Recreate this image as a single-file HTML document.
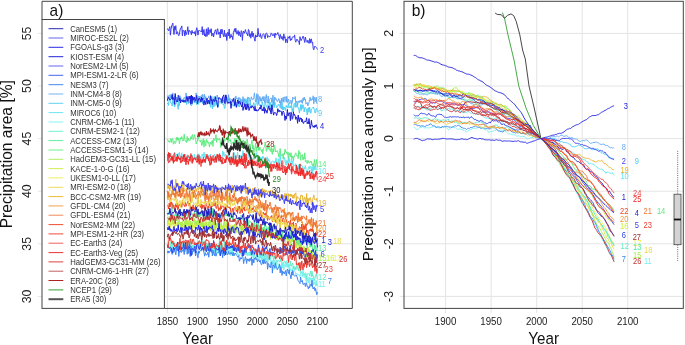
<!DOCTYPE html>
<html><head><meta charset="utf-8"><style>
html,body{margin:0;padding:0;background:#fff;width:685px;height:345px;overflow:hidden}
svg text{font-family:"Liberation Sans", sans-serif}
svg{will-change:transform}
</style></head><body>
<svg width="685" height="345" viewBox="0 0 685 345" style="display:block">
<rect width="685" height="345" fill="#fff"/>
<path d="M37.8 33.4H352.3 M399.6 33.4H683.3 M37.8 86.0H352.3 M399.6 86.0H683.3 M37.8 138.6H352.3 M399.6 138.6H683.3 M37.8 191.2H352.3 M399.6 191.2H683.3 M37.8 243.8H352.3 M399.6 243.8H683.3 M37.8 296.4H352.3 M399.6 296.4H683.3 M167.4 1.3V313 M197.4 1.3V313 M227.4 1.3V313 M257.4 1.3V313 M287.4 1.3V313 M317.4 1.3V313 M445.6 1.3V313 M491.1 1.3V313 M536.7 1.3V313 M582.2 1.3V313 M627.7 1.3V313" stroke="#e4e4e4" stroke-width="1" fill="none"/>
<polyline points="167.4,188.3 168.0,184.9 168.6,188.6 169.2,185.8 169.8,190.8 170.4,184.8 171.0,187.8 171.6,188.2 172.2,184.5 172.8,192.2 173.4,191.6 174.0,185.8 174.6,188.5 175.2,186.9 175.8,179.4 176.4,186.4 177.0,185.5 177.6,186.4 178.2,183.5 178.8,185.4 179.4,185.9 180.0,190.0 180.6,187.9 181.2,187.0 181.8,190.7 182.4,185.0 183.0,185.2 183.6,182.7 184.2,191.4 184.8,189.8 185.4,190.0 186.0,189.6 186.6,188.3 187.2,189.0 187.8,188.0 188.4,187.5 189.0,188.4 189.6,192.7 190.2,189.4 190.8,188.3 191.4,187.0 192.0,186.7 192.6,193.1 193.2,190.9 193.8,189.4 194.4,187.9 195.0,186.6 195.6,189.0 196.2,191.6 196.8,188.6 197.4,188.6 198.0,188.8 198.6,189.9 199.2,185.5 199.8,188.7 200.4,187.2 201.0,191.2 201.6,186.7 202.2,189.9 202.8,192.3 203.4,188.1 204.0,186.8 204.6,188.8 205.2,188.5 205.8,185.7 206.4,189.5 207.0,193.6 207.6,187.8 208.2,187.8 208.8,186.0 209.4,189.7 210.0,185.3 210.6,186.8 211.2,193.1 211.8,187.3 212.4,192.2 213.0,193.1 213.6,189.9 214.2,190.4 214.8,194.2 215.4,188.0 216.0,187.5 216.6,185.8 217.2,189.3 217.8,193.3 218.4,191.9 219.0,187.7 219.6,187.9 220.2,189.2 220.8,190.5 221.4,189.1 222.0,189.7 222.6,189.1 223.2,187.6 223.8,187.6 224.4,188.3 225.0,188.1 225.6,189.8 226.2,193.1 226.8,190.4 227.4,189.8 228.0,185.3 228.6,191.0 229.2,185.2 229.8,186.1 230.4,191.9 231.0,191.8 231.6,189.5 232.2,185.0 232.8,188.7 233.4,187.8 234.0,191.3 234.6,195.5 235.2,190.6 235.8,187.9 236.4,186.9 237.0,189.5 237.6,188.8 238.2,186.7 238.8,189.1 239.4,186.0 240.0,191.4 240.6,191.7 241.2,191.6 241.8,188.5 242.4,191.5 243.0,189.3 243.6,189.7 244.2,190.1 244.8,188.2 245.4,187.5 246.0,193.6 246.6,190.5 247.2,192.0 247.8,194.4 248.4,186.9 249.0,188.7 249.6,191.1 250.2,191.4 250.8,189.9 251.4,193.8 252.0,191.7 252.6,188.2 253.2,188.8 253.8,193.5 254.4,192.7 255.0,187.0 255.6,195.0 256.2,193.1 256.8,194.3 257.4,189.6 258.0,190.7 258.6,188.5 259.2,198.0 259.8,191.1 260.4,196.4 261.0,190.3 261.6,192.9 262.2,188.3 262.8,190.6 263.4,194.7 264.0,189.3 264.6,195.4 265.2,192.9 265.8,190.0 266.4,191.4 267.0,191.8 267.6,193.2 268.2,191.4 268.8,191.1 269.4,192.4 270.0,191.0 270.6,190.2 271.2,193.6 271.8,196.0 272.4,190.4 273.0,194.8 273.6,192.7 274.2,192.1 274.8,197.2 275.4,194.0 276.0,199.6 276.6,193.8 277.2,196.3 277.8,195.2 278.4,194.2 279.0,197.8 279.6,195.8 280.2,197.9 280.8,196.4 281.4,194.3 282.0,197.2 282.6,197.9 283.2,199.7 283.8,195.2 284.4,197.6 285.0,193.3 285.6,199.9 286.2,195.7 286.8,193.7 287.4,197.3 288.0,201.1 288.6,193.8 289.2,194.9 289.8,195.9 290.4,193.9 291.0,196.8 291.6,194.3 292.2,195.2 292.8,198.4 293.4,195.3 294.0,198.3 294.6,194.0 295.2,194.0 295.8,192.8 296.4,201.9 297.0,196.5 297.6,198.2 298.2,197.7 298.8,198.3 299.4,198.4 300.0,203.1 300.6,195.6 301.2,194.9 301.8,196.0 302.4,195.5 303.0,201.0 303.6,202.2 304.2,197.5 304.8,197.1 305.4,200.2 306.0,204.8 306.6,193.7 307.2,202.3 307.8,198.4 308.4,203.3 309.0,198.4 309.6,200.2 310.2,197.5 310.8,199.0 311.4,205.1 312.0,203.6 312.6,199.7 313.2,197.6 313.8,194.9 314.4,199.4 315.0,200.1 315.6,199.7 316.2,200.2 316.8,198.3 317.4,201.8" fill="none" stroke="#e8b430" stroke-width="1"/>
<polyline points="167.4,197.8 168.0,199.9 168.6,191.5 169.2,197.1 169.8,194.4 170.4,193.8 171.0,196.9 171.6,193.1 172.2,190.1 172.8,194.5 173.4,191.7 174.0,193.8 174.6,196.5 175.2,195.9 175.8,199.3 176.4,194.5 177.0,191.1 177.6,193.1 178.2,192.3 178.8,191.5 179.4,195.8 180.0,193.4 180.6,189.8 181.2,197.1 181.8,194.9 182.4,196.1 183.0,196.0 183.6,197.4 184.2,195.4 184.8,198.7 185.4,196.8 186.0,196.8 186.6,197.0 187.2,192.5 187.8,195.5 188.4,195.4 189.0,197.1 189.6,193.0 190.2,200.9 190.8,196.8 191.4,193.4 192.0,192.2 192.6,196.6 193.2,197.0 193.8,194.9 194.4,197.1 195.0,195.4 195.6,199.1 196.2,195.9 196.8,197.0 197.4,199.9 198.0,203.9 198.6,194.3 199.2,195.7 199.8,193.9 200.4,197.4 201.0,192.1 201.6,194.8 202.2,195.5 202.8,193.2 203.4,194.7 204.0,196.3 204.6,192.6 205.2,194.6 205.8,197.1 206.4,198.0 207.0,197.4 207.6,193.3 208.2,196.2 208.8,199.3 209.4,198.5 210.0,196.9 210.6,195.5 211.2,199.9 211.8,196.9 212.4,195.4 213.0,196.3 213.6,201.9 214.2,198.7 214.8,200.7 215.4,196.4 216.0,199.9 216.6,195.6 217.2,196.2 217.8,203.0 218.4,198.3 219.0,195.0 219.6,195.9 220.2,196.7 220.8,199.4 221.4,195.0 222.0,192.1 222.6,196.0 223.2,197.3 223.8,196.9 224.4,200.8 225.0,198.4 225.6,199.7 226.2,195.2 226.8,200.8 227.4,204.2 228.0,200.7 228.6,200.6 229.2,200.4 229.8,204.6 230.4,197.7 231.0,200.1 231.6,201.3 232.2,202.1 232.8,199.1 233.4,201.4 234.0,200.1 234.6,201.8 235.2,200.7 235.8,197.5 236.4,200.5 237.0,203.3 237.6,198.9 238.2,200.0 238.8,202.2 239.4,197.5 240.0,201.0 240.6,197.5 241.2,203.7 241.8,206.8 242.4,206.0 243.0,200.7 243.6,203.9 244.2,202.3 244.8,202.9 245.4,207.0 246.0,199.1 246.6,205.3 247.2,202.2 247.8,206.5 248.4,203.2 249.0,200.9 249.6,203.2 250.2,204.7 250.8,203.6 251.4,204.7 252.0,202.2 252.6,198.4 253.2,207.0 253.8,207.6 254.4,206.3 255.0,206.4 255.6,209.2 256.2,205.7 256.8,205.0 257.4,206.1 258.0,209.4 258.6,202.0 259.2,208.4 259.8,203.3 260.4,202.0 261.0,208.2 261.6,205.1 262.2,202.3 262.8,205.0 263.4,208.7 264.0,210.3 264.6,206.5 265.2,208.5 265.8,209.5 266.4,206.6 267.0,209.3 267.6,208.1 268.2,207.0 268.8,207.1 269.4,209.3 270.0,209.0 270.6,207.7 271.2,207.8 271.8,212.8 272.4,211.2 273.0,213.3 273.6,214.6 274.2,213.7 274.8,218.7 275.4,211.1 276.0,216.1 276.6,212.7 277.2,218.5 277.8,218.2 278.4,209.3 279.0,212.0 279.6,216.7 280.2,217.6 280.8,216.6 281.4,214.8 282.0,216.1 282.6,217.1 283.2,215.1 283.8,217.5 284.4,208.4 285.0,216.1 285.6,212.4 286.2,217.5 286.8,214.5 287.4,212.7 288.0,215.3 288.6,212.7 289.2,213.6 289.8,212.3 290.4,217.4 291.0,219.2 291.6,220.4 292.2,217.4 292.8,221.1 293.4,218.1 294.0,218.0 294.6,219.0 295.2,220.0 295.8,216.1 296.4,217.2 297.0,218.0 297.6,219.1 298.2,216.9 298.8,222.0 299.4,219.0 300.0,220.8 300.6,218.2 301.2,222.0 301.8,223.0 302.4,221.6 303.0,228.4 303.6,224.4 304.2,228.9 304.8,227.5 305.4,223.5 306.0,223.8 306.6,225.6 307.2,224.3 307.8,224.3 308.4,223.5 309.0,219.2 309.6,224.3 310.2,219.4 310.8,226.4 311.4,223.9 312.0,224.5 312.6,225.7 313.2,227.5 313.8,223.7 314.4,222.5 315.0,224.6 315.6,222.9 316.2,225.5 316.8,232.2 317.4,225.7" fill="none" stroke="#f09838" stroke-width="1"/>
<polyline points="167.4,190.8 168.0,198.5 168.6,192.3 169.2,197.9 169.8,196.2 170.4,199.5 171.0,197.4 171.6,194.6 172.2,193.7 172.8,194.3 173.4,195.1 174.0,193.0 174.6,194.2 175.2,198.1 175.8,189.1 176.4,193.7 177.0,192.1 177.6,195.4 178.2,196.5 178.8,194.0 179.4,196.3 180.0,190.6 180.6,197.8 181.2,193.1 181.8,195.8 182.4,194.6 183.0,187.7 183.6,192.4 184.2,194.6 184.8,197.5 185.4,193.8 186.0,194.2 186.6,189.4 187.2,196.7 187.8,198.4 188.4,194.5 189.0,194.0 189.6,190.9 190.2,198.5 190.8,202.8 191.4,197.5 192.0,198.8 192.6,195.8 193.2,192.0 193.8,197.6 194.4,190.3 195.0,192.6 195.6,194.0 196.2,196.0 196.8,194.9 197.4,195.3 198.0,192.2 198.6,190.9 199.2,194.8 199.8,192.7 200.4,191.3 201.0,191.4 201.6,193.1 202.2,189.4 202.8,190.6 203.4,190.7 204.0,195.2 204.6,196.7 205.2,201.6 205.8,192.0 206.4,194.5 207.0,199.7 207.6,196.7 208.2,196.4 208.8,201.9 209.4,195.8 210.0,192.9 210.6,192.7 211.2,197.2 211.8,196.2 212.4,191.5 213.0,192.1 213.6,196.1 214.2,196.1 214.8,193.0 215.4,196.8 216.0,196.5 216.6,190.7 217.2,194.8 217.8,197.1 218.4,194.6 219.0,190.7 219.6,195.8 220.2,197.9 220.8,200.4 221.4,190.4 222.0,202.6 222.6,192.7 223.2,198.0 223.8,198.9 224.4,197.8 225.0,196.3 225.6,192.3 226.2,196.2 226.8,192.7 227.4,187.6 228.0,201.8 228.6,196.7 229.2,200.2 229.8,192.5 230.4,198.8 231.0,200.5 231.6,200.9 232.2,197.6 232.8,195.0 233.4,198.3 234.0,193.3 234.6,195.3 235.2,200.4 235.8,197.4 236.4,199.4 237.0,199.3 237.6,204.4 238.2,201.8 238.8,198.1 239.4,201.4 240.0,197.0 240.6,197.9 241.2,201.4 241.8,196.2 242.4,199.0 243.0,197.1 243.6,200.8 244.2,204.6 244.8,197.3 245.4,199.9 246.0,197.4 246.6,196.9 247.2,196.4 247.8,203.1 248.4,205.7 249.0,201.4 249.6,198.7 250.2,202.8 250.8,199.5 251.4,202.2 252.0,201.8 252.6,201.4 253.2,202.3 253.8,199.2 254.4,199.9 255.0,196.4 255.6,200.4 256.2,198.4 256.8,201.3 257.4,199.5 258.0,202.5 258.6,203.2 259.2,198.5 259.8,200.6 260.4,200.7 261.0,205.6 261.6,208.1 262.2,207.0 262.8,204.5 263.4,210.1 264.0,203.1 264.6,211.1 265.2,205.4 265.8,200.0 266.4,214.1 267.0,211.3 267.6,204.1 268.2,207.0 268.8,205.2 269.4,206.0 270.0,202.1 270.6,204.4 271.2,208.4 271.8,207.8 272.4,210.7 273.0,207.8 273.6,214.6 274.2,207.0 274.8,210.0 275.4,204.8 276.0,206.4 276.6,212.8 277.2,206.9 277.8,210.8 278.4,208.9 279.0,207.0 279.6,208.9 280.2,207.7 280.8,208.1 281.4,212.5 282.0,212.5 282.6,209.8 283.2,209.4 283.8,212.4 284.4,211.7 285.0,215.7 285.6,220.3 286.2,215.8 286.8,214.3 287.4,214.5 288.0,212.6 288.6,212.5 289.2,212.3 289.8,213.6 290.4,213.6 291.0,216.4 291.6,212.9 292.2,213.9 292.8,212.1 293.4,219.9 294.0,217.3 294.6,221.3 295.2,218.7 295.8,220.1 296.4,215.8 297.0,217.9 297.6,222.8 298.2,212.8 298.8,219.3 299.4,220.4 300.0,216.8 300.6,219.3 301.2,220.9 301.8,215.8 302.4,219.2 303.0,216.1 303.6,216.2 304.2,216.9 304.8,218.6 305.4,218.6 306.0,219.9 306.6,215.7 307.2,224.7 307.8,222.7 308.4,221.9 309.0,219.9 309.6,220.7 310.2,223.3 310.8,223.1 311.4,217.5 312.0,224.5 312.6,230.7 313.2,218.7 313.8,225.6 314.4,224.2 315.0,222.5 315.6,226.8 316.2,220.5 316.8,224.5 317.4,228.0" fill="none" stroke="#f07434" stroke-width="1"/>
<polyline points="167.4,205.4 168.0,205.6 168.6,208.9 169.2,203.2 169.8,207.1 170.4,201.7 171.0,206.8 171.6,202.1 172.2,203.2 172.8,208.5 173.4,204.9 174.0,205.3 174.6,211.4 175.2,207.0 175.8,203.8 176.4,207.3 177.0,203.1 177.6,209.8 178.2,209.5 178.8,204.9 179.4,204.3 180.0,206.1 180.6,206.6 181.2,204.1 181.8,207.3 182.4,200.1 183.0,204.5 183.6,204.8 184.2,205.2 184.8,206.7 185.4,202.1 186.0,206.3 186.6,204.2 187.2,203.4 187.8,201.2 188.4,201.6 189.0,206.1 189.6,203.1 190.2,205.8 190.8,209.7 191.4,210.2 192.0,211.3 192.6,206.8 193.2,204.8 193.8,209.6 194.4,207.6 195.0,209.7 195.6,205.5 196.2,208.3 196.8,207.5 197.4,206.8 198.0,205.5 198.6,205.5 199.2,205.0 199.8,205.1 200.4,207.4 201.0,203.8 201.6,209.3 202.2,204.6 202.8,208.4 203.4,205.6 204.0,205.0 204.6,211.3 205.2,205.5 205.8,202.7 206.4,204.6 207.0,206.1 207.6,211.4 208.2,206.3 208.8,208.0 209.4,202.3 210.0,205.7 210.6,206.4 211.2,209.4 211.8,202.2 212.4,206.4 213.0,206.0 213.6,202.7 214.2,205.7 214.8,205.9 215.4,201.0 216.0,208.3 216.6,208.4 217.2,205.6 217.8,203.2 218.4,211.1 219.0,207.6 219.6,209.0 220.2,210.3 220.8,205.3 221.4,208.9 222.0,206.2 222.6,206.3 223.2,205.8 223.8,207.0 224.4,209.9 225.0,206.8 225.6,206.1 226.2,205.6 226.8,207.8 227.4,204.9 228.0,206.9 228.6,207.6 229.2,206.9 229.8,208.5 230.4,207.7 231.0,214.2 231.6,212.3 232.2,210.1 232.8,208.2 233.4,213.4 234.0,208.4 234.6,207.3 235.2,208.1 235.8,208.6 236.4,211.5 237.0,208.1 237.6,213.4 238.2,206.2 238.8,210.2 239.4,206.1 240.0,213.5 240.6,208.0 241.2,208.6 241.8,211.1 242.4,212.9 243.0,206.8 243.6,209.3 244.2,206.9 244.8,211.0 245.4,210.9 246.0,210.2 246.6,208.9 247.2,209.1 247.8,208.4 248.4,211.3 249.0,213.5 249.6,204.9 250.2,208.8 250.8,208.7 251.4,211.3 252.0,207.9 252.6,210.1 253.2,207.6 253.8,212.0 254.4,210.2 255.0,210.3 255.6,211.9 256.2,211.0 256.8,207.6 257.4,213.2 258.0,212.7 258.6,212.3 259.2,215.2 259.8,216.4 260.4,210.2 261.0,210.8 261.6,217.5 262.2,217.9 262.8,212.9 263.4,212.2 264.0,214.5 264.6,215.0 265.2,212.9 265.8,217.6 266.4,214.7 267.0,214.8 267.6,220.5 268.2,215.9 268.8,217.5 269.4,219.4 270.0,219.3 270.6,216.7 271.2,217.6 271.8,215.5 272.4,221.7 273.0,219.3 273.6,215.2 274.2,217.8 274.8,220.3 275.4,218.9 276.0,222.8 276.6,221.5 277.2,217.7 277.8,218.5 278.4,215.6 279.0,220.0 279.6,220.1 280.2,227.4 280.8,220.4 281.4,215.9 282.0,219.2 282.6,221.8 283.2,218.2 283.8,219.1 284.4,220.7 285.0,223.6 285.6,222.5 286.2,219.5 286.8,224.7 287.4,222.1 288.0,222.7 288.6,221.4 289.2,222.5 289.8,225.8 290.4,219.9 291.0,224.3 291.6,226.5 292.2,223.3 292.8,225.6 293.4,221.9 294.0,228.5 294.6,228.5 295.2,227.5 295.8,223.1 296.4,224.5 297.0,230.3 297.6,232.2 298.2,228.5 298.8,231.2 299.4,226.6 300.0,227.4 300.6,227.6 301.2,229.2 301.8,224.0 302.4,230.3 303.0,231.7 303.6,226.1 304.2,225.7 304.8,229.8 305.4,227.9 306.0,224.1 306.6,232.9 307.2,231.7 307.8,230.0 308.4,236.3 309.0,231.5 309.6,229.5 310.2,231.2 310.8,228.5 311.4,229.0 312.0,231.8 312.6,229.3 313.2,229.7 313.8,234.8 314.4,233.1 315.0,234.0 315.6,232.4 316.2,233.0 316.8,235.5 317.4,232.0" fill="none" stroke="#f04422" stroke-width="1"/>
<polyline points="167.4,199.7 168.0,198.1 168.6,198.2 169.2,197.2 169.8,202.8 170.4,199.9 171.0,201.7 171.6,198.2 172.2,199.3 172.8,198.5 173.4,200.0 174.0,200.7 174.6,200.2 175.2,197.5 175.8,198.3 176.4,204.8 177.0,199.7 177.6,199.5 178.2,204.8 178.8,204.8 179.4,202.5 180.0,200.5 180.6,207.5 181.2,202.4 181.8,203.6 182.4,201.9 183.0,198.6 183.6,197.9 184.2,203.4 184.8,203.3 185.4,200.6 186.0,198.1 186.6,196.8 187.2,200.5 187.8,197.3 188.4,203.9 189.0,204.1 189.6,209.2 190.2,204.9 190.8,201.5 191.4,201.0 192.0,193.6 192.6,201.2 193.2,202.4 193.8,204.9 194.4,203.9 195.0,203.5 195.6,202.6 196.2,203.9 196.8,206.1 197.4,199.3 198.0,200.8 198.6,198.9 199.2,206.6 199.8,206.3 200.4,204.9 201.0,199.4 201.6,203.1 202.2,201.8 202.8,203.0 203.4,202.2 204.0,203.8 204.6,201.7 205.2,204.9 205.8,202.6 206.4,201.2 207.0,201.8 207.6,201.0 208.2,205.1 208.8,202.3 209.4,203.4 210.0,201.4 210.6,199.6 211.2,206.0 211.8,201.8 212.4,205.7 213.0,204.8 213.6,199.3 214.2,201.3 214.8,202.9 215.4,202.3 216.0,200.9 216.6,205.3 217.2,202.9 217.8,204.1 218.4,202.6 219.0,204.1 219.6,201.2 220.2,203.1 220.8,205.2 221.4,204.2 222.0,203.5 222.6,202.1 223.2,205.3 223.8,206.4 224.4,205.3 225.0,203.2 225.6,206.9 226.2,211.8 226.8,204.0 227.4,205.2 228.0,204.6 228.6,196.8 229.2,203.2 229.8,202.0 230.4,206.7 231.0,203.1 231.6,202.1 232.2,203.9 232.8,205.5 233.4,203.6 234.0,204.9 234.6,201.4 235.2,205.0 235.8,207.2 236.4,209.9 237.0,206.8 237.6,205.8 238.2,208.6 238.8,209.3 239.4,211.5 240.0,210.0 240.6,206.6 241.2,207.8 241.8,207.3 242.4,208.3 243.0,207.9 243.6,204.9 244.2,201.2 244.8,205.2 245.4,202.8 246.0,208.7 246.6,209.1 247.2,204.4 247.8,211.2 248.4,211.5 249.0,209.5 249.6,213.3 250.2,213.1 250.8,205.6 251.4,212.5 252.0,211.1 252.6,211.2 253.2,213.1 253.8,209.0 254.4,209.8 255.0,209.7 255.6,209.7 256.2,211.4 256.8,207.7 257.4,208.8 258.0,213.3 258.6,212.0 259.2,213.6 259.8,208.3 260.4,211.7 261.0,212.1 261.6,214.7 262.2,212.6 262.8,217.1 263.4,215.7 264.0,216.4 264.6,216.7 265.2,218.3 265.8,215.3 266.4,219.3 267.0,218.3 267.6,217.6 268.2,216.5 268.8,217.7 269.4,218.3 270.0,218.8 270.6,217.6 271.2,219.2 271.8,217.5 272.4,221.0 273.0,217.8 273.6,212.4 274.2,221.9 274.8,219.4 275.4,217.0 276.0,220.1 276.6,218.6 277.2,225.9 277.8,222.7 278.4,217.6 279.0,224.1 279.6,222.0 280.2,227.6 280.8,220.2 281.4,217.9 282.0,224.8 282.6,223.3 283.2,224.0 283.8,219.2 284.4,225.4 285.0,229.0 285.6,219.6 286.2,227.3 286.8,222.1 287.4,230.0 288.0,225.4 288.6,224.8 289.2,229.0 289.8,228.1 290.4,225.4 291.0,229.4 291.6,227.2 292.2,224.1 292.8,233.6 293.4,227.1 294.0,226.5 294.6,228.6 295.2,224.2 295.8,225.0 296.4,227.8 297.0,228.4 297.6,230.5 298.2,233.5 298.8,229.8 299.4,232.7 300.0,233.1 300.6,229.3 301.2,232.9 301.8,230.6 302.4,235.7 303.0,234.3 303.6,233.4 304.2,230.5 304.8,234.6 305.4,232.2 306.0,236.4 306.6,234.2 307.2,232.9 307.8,238.3 308.4,238.5 309.0,235.2 309.6,240.5 310.2,236.9 310.8,237.3 311.4,238.6 312.0,236.8 312.6,237.4 313.2,237.9 313.8,242.8 314.4,242.9 315.0,238.8 315.6,243.5 316.2,238.4 316.8,240.1 317.4,241.3" fill="none" stroke="#ecd848" stroke-width="1"/>
<polyline points="167.4,220.7 168.0,223.9 168.6,223.0 169.2,226.7 169.8,222.9 170.4,227.4 171.0,225.5 171.6,225.2 172.2,220.7 172.8,222.2 173.4,227.6 174.0,229.2 174.6,225.4 175.2,226.5 175.8,223.4 176.4,223.0 177.0,222.6 177.6,226.9 178.2,224.4 178.8,222.5 179.4,223.3 180.0,225.0 180.6,224.5 181.2,222.0 181.8,228.7 182.4,224.7 183.0,224.5 183.6,228.8 184.2,227.3 184.8,224.7 185.4,225.9 186.0,221.9 186.6,223.2 187.2,219.5 187.8,228.5 188.4,220.5 189.0,227.0 189.6,223.6 190.2,223.2 190.8,225.0 191.4,225.8 192.0,226.3 192.6,229.6 193.2,225.8 193.8,227.1 194.4,223.1 195.0,226.5 195.6,225.0 196.2,223.6 196.8,225.1 197.4,225.4 198.0,225.7 198.6,226.0 199.2,223.6 199.8,223.6 200.4,228.2 201.0,221.9 201.6,224.4 202.2,230.0 202.8,219.1 203.4,224.3 204.0,228.7 204.6,222.6 205.2,233.2 205.8,219.8 206.4,231.1 207.0,231.3 207.6,230.3 208.2,227.5 208.8,227.8 209.4,224.9 210.0,229.6 210.6,224.6 211.2,226.3 211.8,229.6 212.4,223.6 213.0,226.4 213.6,228.4 214.2,224.2 214.8,230.4 215.4,228.5 216.0,223.8 216.6,227.8 217.2,225.8 217.8,225.8 218.4,228.2 219.0,225.9 219.6,230.1 220.2,225.8 220.8,230.3 221.4,227.7 222.0,229.9 222.6,226.3 223.2,225.3 223.8,223.6 224.4,228.3 225.0,228.9 225.6,232.0 226.2,230.6 226.8,228.7 227.4,227.6 228.0,229.4 228.6,228.5 229.2,231.9 229.8,230.6 230.4,225.5 231.0,224.7 231.6,229.9 232.2,226.7 232.8,225.2 233.4,228.7 234.0,225.2 234.6,225.8 235.2,226.1 235.8,222.9 236.4,230.3 237.0,225.5 237.6,227.3 238.2,228.1 238.8,232.2 239.4,230.2 240.0,229.8 240.6,225.3 241.2,229.0 241.8,225.0 242.4,230.5 243.0,230.0 243.6,228.6 244.2,234.4 244.8,230.6 245.4,230.9 246.0,230.2 246.6,229.4 247.2,232.5 247.8,232.6 248.4,227.2 249.0,232.9 249.6,232.6 250.2,233.4 250.8,232.6 251.4,228.1 252.0,227.8 252.6,236.1 253.2,231.7 253.8,227.2 254.4,231.7 255.0,230.0 255.6,226.1 256.2,225.6 256.8,228.1 257.4,232.4 258.0,232.0 258.6,232.2 259.2,233.2 259.8,234.1 260.4,226.6 261.0,230.8 261.6,229.5 262.2,229.1 262.8,230.1 263.4,231.0 264.0,231.4 264.6,228.6 265.2,231.6 265.8,239.1 266.4,231.2 267.0,229.8 267.6,235.2 268.2,235.8 268.8,234.7 269.4,230.7 270.0,236.4 270.6,231.6 271.2,230.8 271.8,232.4 272.4,234.1 273.0,236.5 273.6,236.1 274.2,234.5 274.8,236.9 275.4,234.4 276.0,236.4 276.6,230.1 277.2,229.3 277.8,235.9 278.4,231.1 279.0,234.0 279.6,235.1 280.2,234.3 280.8,234.3 281.4,239.6 282.0,230.5 282.6,239.3 283.2,243.5 283.8,238.3 284.4,238.6 285.0,240.5 285.6,244.5 286.2,236.8 286.8,239.5 287.4,239.1 288.0,241.2 288.6,240.2 289.2,241.3 289.8,239.6 290.4,240.3 291.0,238.5 291.6,239.2 292.2,241.3 292.8,241.9 293.4,239.2 294.0,247.2 294.6,242.9 295.2,240.8 295.8,247.6 296.4,243.0 297.0,246.4 297.6,244.6 298.2,245.8 298.8,246.0 299.4,244.1 300.0,245.3 300.6,251.6 301.2,241.1 301.8,247.9 302.4,249.5 303.0,246.3 303.6,245.8 304.2,255.3 304.8,249.2 305.4,255.9 306.0,252.5 306.6,251.0 307.2,251.9 307.8,252.2 308.4,253.4 309.0,252.0 309.6,252.1 310.2,252.3 310.8,255.0 311.4,254.4 312.0,250.6 312.6,252.4 313.2,255.5 313.8,254.3 314.4,255.4 315.0,254.1 315.6,256.2 316.2,258.2 316.8,259.8 317.4,257.5" fill="none" stroke="#ecec50" stroke-width="1"/>
<polyline points="167.4,226.2 168.0,220.7 168.6,223.9 169.2,223.7 169.8,229.3 170.4,220.5 171.0,223.2 171.6,225.1 172.2,223.8 172.8,220.3 173.4,224.1 174.0,223.8 174.6,223.8 175.2,226.0 175.8,225.7 176.4,225.2 177.0,225.3 177.6,222.1 178.2,224.4 178.8,224.9 179.4,223.3 180.0,224.7 180.6,222.4 181.2,228.4 181.8,229.6 182.4,222.7 183.0,224.8 183.6,223.5 184.2,227.6 184.8,225.8 185.4,224.7 186.0,223.8 186.6,224.5 187.2,221.3 187.8,225.9 188.4,222.7 189.0,226.2 189.6,224.5 190.2,226.8 190.8,223.8 191.4,227.4 192.0,222.7 192.6,227.3 193.2,224.7 193.8,225.9 194.4,225.9 195.0,228.2 195.6,220.4 196.2,225.8 196.8,221.1 197.4,227.5 198.0,219.4 198.6,222.4 199.2,220.7 199.8,229.5 200.4,222.4 201.0,226.3 201.6,224.8 202.2,221.7 202.8,225.6 203.4,228.1 204.0,225.5 204.6,227.9 205.2,224.3 205.8,225.6 206.4,224.6 207.0,226.7 207.6,230.8 208.2,227.0 208.8,227.1 209.4,225.8 210.0,225.6 210.6,231.1 211.2,224.4 211.8,224.1 212.4,226.4 213.0,225.6 213.6,231.3 214.2,220.4 214.8,227.6 215.4,228.6 216.0,223.7 216.6,225.1 217.2,227.9 217.8,230.8 218.4,224.8 219.0,222.7 219.6,229.7 220.2,231.1 220.8,226.0 221.4,221.3 222.0,230.5 222.6,226.5 223.2,229.5 223.8,226.8 224.4,226.1 225.0,226.2 225.6,231.8 226.2,231.8 226.8,223.1 227.4,226.2 228.0,233.2 228.6,227.3 229.2,225.4 229.8,228.8 230.4,228.4 231.0,228.3 231.6,226.7 232.2,227.3 232.8,227.3 233.4,229.4 234.0,226.3 234.6,228.6 235.2,228.8 235.8,233.3 236.4,231.6 237.0,230.2 237.6,232.1 238.2,231.8 238.8,233.6 239.4,231.5 240.0,235.4 240.6,234.4 241.2,231.0 241.8,230.1 242.4,233.5 243.0,233.3 243.6,231.4 244.2,227.7 244.8,226.5 245.4,231.8 246.0,232.3 246.6,232.4 247.2,227.1 247.8,232.0 248.4,227.8 249.0,230.6 249.6,231.1 250.2,227.8 250.8,229.2 251.4,225.2 252.0,227.8 252.6,225.9 253.2,231.8 253.8,231.1 254.4,233.7 255.0,232.7 255.6,229.5 256.2,232.1 256.8,230.4 257.4,233.4 258.0,232.2 258.6,228.7 259.2,231.2 259.8,231.4 260.4,231.1 261.0,234.3 261.6,236.4 262.2,231.0 262.8,232.1 263.4,227.6 264.0,232.9 264.6,232.7 265.2,228.1 265.8,235.4 266.4,236.9 267.0,233.7 267.6,234.6 268.2,232.6 268.8,237.1 269.4,230.5 270.0,233.9 270.6,239.5 271.2,234.5 271.8,235.7 272.4,234.5 273.0,232.1 273.6,235.2 274.2,237.4 274.8,234.2 275.4,238.0 276.0,239.9 276.6,239.6 277.2,232.5 277.8,234.4 278.4,233.6 279.0,239.9 279.6,238.6 280.2,238.7 280.8,235.7 281.4,235.2 282.0,238.7 282.6,238.7 283.2,235.5 283.8,238.3 284.4,239.3 285.0,238.2 285.6,235.0 286.2,232.8 286.8,237.6 287.4,238.7 288.0,238.4 288.6,238.4 289.2,238.8 289.8,243.3 290.4,241.4 291.0,241.7 291.6,238.5 292.2,239.9 292.8,242.0 293.4,239.7 294.0,238.9 294.6,241.4 295.2,245.5 295.8,243.8 296.4,247.9 297.0,244.1 297.6,244.3 298.2,241.5 298.8,243.8 299.4,249.8 300.0,248.0 300.6,248.4 301.2,249.0 301.8,247.8 302.4,247.7 303.0,249.1 303.6,251.0 304.2,250.9 304.8,250.7 305.4,250.7 306.0,248.7 306.6,250.5 307.2,249.0 307.8,254.9 308.4,247.3 309.0,252.3 309.6,259.6 310.2,252.6 310.8,250.6 311.4,253.5 312.0,257.4 312.6,253.5 313.2,255.6 313.8,254.6 314.4,254.0 315.0,263.3 315.6,256.4 316.2,255.6 316.8,256.0 317.4,259.2" fill="none" stroke="#ccee40" stroke-width="1"/>
<polyline points="167.4,221.5 168.0,220.2 168.6,220.9 169.2,216.0 169.8,217.7 170.4,219.4 171.0,221.4 171.6,218.7 172.2,219.6 172.8,222.4 173.4,224.1 174.0,221.7 174.6,223.4 175.2,218.5 175.8,218.6 176.4,220.9 177.0,219.4 177.6,219.2 178.2,224.3 178.8,220.9 179.4,219.4 180.0,224.1 180.6,227.3 181.2,222.2 181.8,225.8 182.4,221.4 183.0,221.5 183.6,220.5 184.2,221.2 184.8,226.3 185.4,219.0 186.0,226.8 186.6,219.4 187.2,221.7 187.8,224.4 188.4,224.1 189.0,224.0 189.6,219.0 190.2,224.5 190.8,220.9 191.4,229.7 192.0,222.6 192.6,223.8 193.2,220.1 193.8,221.4 194.4,218.6 195.0,224.2 195.6,221.1 196.2,224.5 196.8,220.9 197.4,221.2 198.0,226.3 198.6,220.3 199.2,219.3 199.8,225.2 200.4,220.8 201.0,222.5 201.6,226.8 202.2,222.2 202.8,226.6 203.4,222.8 204.0,228.3 204.6,227.8 205.2,222.9 205.8,223.5 206.4,221.7 207.0,225.5 207.6,228.1 208.2,221.7 208.8,227.3 209.4,221.5 210.0,223.2 210.6,220.4 211.2,230.1 211.8,223.4 212.4,223.4 213.0,220.8 213.6,226.3 214.2,218.5 214.8,224.0 215.4,230.2 216.0,223.2 216.6,224.9 217.2,226.0 217.8,222.6 218.4,224.2 219.0,226.1 219.6,224.2 220.2,224.9 220.8,223.6 221.4,225.7 222.0,225.3 222.6,228.4 223.2,226.3 223.8,224.5 224.4,218.6 225.0,226.2 225.6,226.6 226.2,221.8 226.8,219.7 227.4,222.2 228.0,227.9 228.6,223.1 229.2,225.3 229.8,227.8 230.4,229.8 231.0,226.8 231.6,226.5 232.2,225.9 232.8,231.8 233.4,230.6 234.0,227.6 234.6,224.1 235.2,226.4 235.8,230.3 236.4,226.8 237.0,230.2 237.6,228.8 238.2,227.7 238.8,228.8 239.4,228.0 240.0,224.6 240.6,225.7 241.2,233.0 241.8,223.7 242.4,225.3 243.0,230.1 243.6,226.6 244.2,225.5 244.8,223.7 245.4,228.3 246.0,229.5 246.6,231.2 247.2,227.6 247.8,230.1 248.4,224.8 249.0,227.6 249.6,225.7 250.2,228.5 250.8,230.8 251.4,231.1 252.0,226.4 252.6,232.5 253.2,227.7 253.8,226.1 254.4,228.6 255.0,225.4 255.6,228.7 256.2,230.4 256.8,228.9 257.4,230.3 258.0,228.0 258.6,229.5 259.2,225.4 259.8,229.7 260.4,227.5 261.0,227.8 261.6,229.6 262.2,231.1 262.8,227.6 263.4,227.6 264.0,231.1 264.6,233.0 265.2,232.7 265.8,234.3 266.4,235.1 267.0,232.8 267.6,231.5 268.2,229.2 268.8,230.1 269.4,231.7 270.0,233.0 270.6,233.2 271.2,232.6 271.8,232.6 272.4,234.6 273.0,233.7 273.6,233.4 274.2,233.8 274.8,232.4 275.4,231.3 276.0,235.2 276.6,235.0 277.2,233.4 277.8,232.6 278.4,240.1 279.0,231.9 279.6,233.7 280.2,235.5 280.8,232.5 281.4,236.1 282.0,240.6 282.6,239.0 283.2,237.7 283.8,238.5 284.4,237.5 285.0,240.1 285.6,236.9 286.2,235.3 286.8,237.5 287.4,239.8 288.0,239.2 288.6,240.0 289.2,233.5 289.8,242.0 290.4,245.0 291.0,243.8 291.6,239.3 292.2,238.1 292.8,242.0 293.4,239.4 294.0,243.9 294.6,240.3 295.2,245.2 295.8,246.5 296.4,238.2 297.0,244.4 297.6,241.5 298.2,239.3 298.8,242.0 299.4,244.3 300.0,248.3 300.6,241.6 301.2,248.8 301.8,252.3 302.4,249.2 303.0,249.8 303.6,249.4 304.2,246.6 304.8,251.4 305.4,251.5 306.0,252.8 306.6,257.3 307.2,253.0 307.8,253.1 308.4,256.5 309.0,249.7 309.6,250.5 310.2,253.1 310.8,252.6 311.4,257.0 312.0,255.0 312.6,260.2 313.2,259.6 313.8,257.4 314.4,254.0 315.0,256.7 315.6,257.3 316.2,252.5 316.8,256.7 317.4,258.3" fill="none" stroke="#a8ee50" stroke-width="1"/>
<polyline points="167.4,138.9 168.0,140.3 168.6,142.0 169.2,141.2 169.8,142.4 170.4,140.4 171.0,138.5 171.6,142.4 172.2,139.0 172.8,138.5 173.4,144.2 174.0,142.5 174.6,141.3 175.2,143.6 175.8,142.9 176.4,137.4 177.0,140.2 177.6,137.3 178.2,140.4 178.8,137.9 179.4,143.7 180.0,140.5 180.6,137.5 181.2,139.1 181.8,136.5 182.4,139.7 183.0,141.1 183.6,140.2 184.2,134.2 184.8,139.3 185.4,141.4 186.0,141.1 186.6,142.5 187.2,136.4 187.8,141.3 188.4,138.2 189.0,140.6 189.6,140.2 190.2,140.5 190.8,136.7 191.4,139.0 192.0,135.5 192.6,134.6 193.2,139.8 193.8,138.2 194.4,134.6 195.0,136.8 195.6,139.2 196.2,144.0 196.8,141.9 197.4,141.3 198.0,135.1 198.6,139.4 199.2,140.8 199.8,141.0 200.4,141.8 201.0,139.9 201.6,145.5 202.2,145.1 202.8,140.7 203.4,138.6 204.0,147.2 204.6,140.3 205.2,144.2 205.8,145.8 206.4,139.3 207.0,142.5 207.6,140.8 208.2,143.5 208.8,142.3 209.4,146.9 210.0,143.7 210.6,142.0 211.2,144.5 211.8,141.1 212.4,140.5 213.0,146.4 213.6,138.3 214.2,139.1 214.8,140.5 215.4,137.8 216.0,134.7 216.6,142.4 217.2,138.2 217.8,139.0 218.4,140.2 219.0,138.6 219.6,138.4 220.2,141.0 220.8,147.5 221.4,143.4 222.0,143.4 222.6,137.0 223.2,140.2 223.8,136.3 224.4,141.3 225.0,139.5 225.6,140.1 226.2,139.8 226.8,138.2 227.4,136.7 228.0,142.7 228.6,138.5 229.2,139.5 229.8,140.9 230.4,139.7 231.0,142.8 231.6,144.7 232.2,142.6 232.8,142.4 233.4,141.8 234.0,144.5 234.6,138.2 235.2,143.9 235.8,139.2 236.4,138.5 237.0,141.2 237.6,140.0 238.2,143.0 238.8,144.4 239.4,135.1 240.0,141.6 240.6,148.2 241.2,145.4 241.8,147.9 242.4,144.6 243.0,140.1 243.6,140.4 244.2,145.5 244.8,146.3 245.4,141.5 246.0,142.7 246.6,143.7 247.2,139.1 247.8,143.2 248.4,149.2 249.0,150.9 249.6,144.4 250.2,149.8 250.8,144.2 251.4,143.6 252.0,140.0 252.6,149.1 253.2,145.4 253.8,152.8 254.4,148.5 255.0,148.2 255.6,142.9 256.2,151.6 256.8,146.9 257.4,147.1 258.0,142.1 258.6,150.3 259.2,150.6 259.8,147.0 260.4,148.8 261.0,150.0 261.6,151.5 262.2,149.5 262.8,153.8 263.4,148.6 264.0,147.2 264.6,146.8 265.2,142.0 265.8,146.5 266.4,151.4 267.0,149.0 267.6,146.3 268.2,149.3 268.8,143.1 269.4,148.5 270.0,150.6 270.6,151.5 271.2,147.3 271.8,152.1 272.4,154.3 273.0,148.6 273.6,152.0 274.2,146.1 274.8,145.4 275.4,152.0 276.0,151.2 276.6,151.8 277.2,150.6 277.8,151.8 278.4,155.0 279.0,157.2 279.6,152.3 280.2,148.6 280.8,156.2 281.4,154.9 282.0,155.3 282.6,153.8 283.2,159.1 283.8,153.4 284.4,154.5 285.0,149.0 285.6,152.2 286.2,151.6 286.8,153.4 287.4,154.4 288.0,152.1 288.6,159.4 289.2,152.8 289.8,154.4 290.4,156.6 291.0,152.7 291.6,157.6 292.2,158.1 292.8,156.0 293.4,161.3 294.0,156.2 294.6,156.7 295.2,153.7 295.8,152.8 296.4,155.6 297.0,156.1 297.6,155.6 298.2,158.6 298.8,150.4 299.4,154.1 300.0,152.5 300.6,160.3 301.2,155.5 301.8,156.1 302.4,154.6 303.0,160.1 303.6,156.9 304.2,159.0 304.8,152.8 305.4,161.9 306.0,160.4 306.6,161.2 307.2,163.6 307.8,160.3 308.4,160.9 309.0,163.1 309.6,163.0 310.2,161.4 310.8,162.3 311.4,161.2 312.0,164.7 312.6,165.7 313.2,163.6 313.8,168.1 314.4,159.5 315.0,162.9 315.6,167.5 316.2,162.7 316.8,159.4 317.4,167.2" fill="none" stroke="#5eec80" stroke-width="1"/>
<polyline points="167.4,213.7 168.0,214.5 168.6,214.4 169.2,211.4 169.8,213.7 170.4,215.4 171.0,215.2 171.6,204.9 172.2,210.5 172.8,210.9 173.4,213.2 174.0,214.5 174.6,216.2 175.2,215.5 175.8,213.4 176.4,214.6 177.0,219.4 177.6,213.6 178.2,215.7 178.8,218.6 179.4,215.8 180.0,208.9 180.6,215.6 181.2,213.7 181.8,215.8 182.4,218.8 183.0,217.2 183.6,215.1 184.2,218.3 184.8,217.0 185.4,215.9 186.0,216.2 186.6,214.4 187.2,213.1 187.8,213.2 188.4,214.6 189.0,211.5 189.6,210.9 190.2,217.4 190.8,213.4 191.4,214.6 192.0,213.9 192.6,214.1 193.2,214.1 193.8,214.5 194.4,212.2 195.0,217.2 195.6,213.4 196.2,218.1 196.8,210.2 197.4,212.2 198.0,218.2 198.6,215.7 199.2,214.4 199.8,217.0 200.4,212.9 201.0,215.8 201.6,209.7 202.2,214.7 202.8,213.6 203.4,216.9 204.0,218.4 204.6,214.1 205.2,220.3 205.8,214.5 206.4,211.2 207.0,209.9 207.6,220.2 208.2,214.9 208.8,213.0 209.4,212.4 210.0,211.2 210.6,217.1 211.2,212.8 211.8,218.2 212.4,213.3 213.0,208.0 213.6,216.2 214.2,213.8 214.8,213.9 215.4,218.2 216.0,214.0 216.6,217.8 217.2,214.8 217.8,212.9 218.4,216.2 219.0,212.9 219.6,218.5 220.2,218.2 220.8,215.4 221.4,216.2 222.0,215.4 222.6,213.6 223.2,217.2 223.8,214.1 224.4,215.8 225.0,211.8 225.6,215.0 226.2,215.9 226.8,213.1 227.4,213.1 228.0,212.4 228.6,216.4 229.2,213.4 229.8,216.4 230.4,219.0 231.0,216.7 231.6,211.7 232.2,216.9 232.8,220.0 233.4,216.6 234.0,220.5 234.6,220.0 235.2,219.7 235.8,217.8 236.4,217.4 237.0,218.0 237.6,218.5 238.2,220.1 238.8,219.1 239.4,217.5 240.0,218.9 240.6,219.8 241.2,215.0 241.8,217.9 242.4,218.7 243.0,220.0 243.6,220.4 244.2,220.2 244.8,219.3 245.4,223.8 246.0,222.5 246.6,217.4 247.2,221.2 247.8,218.6 248.4,226.2 249.0,221.6 249.6,220.7 250.2,222.2 250.8,222.0 251.4,222.4 252.0,226.9 252.6,223.5 253.2,225.2 253.8,225.7 254.4,220.5 255.0,227.7 255.6,225.0 256.2,226.5 256.8,222.1 257.4,227.2 258.0,226.6 258.6,224.3 259.2,232.4 259.8,227.5 260.4,225.9 261.0,227.0 261.6,229.6 262.2,229.4 262.8,228.0 263.4,229.8 264.0,230.3 264.6,223.7 265.2,226.3 265.8,225.6 266.4,227.5 267.0,232.3 267.6,230.9 268.2,226.7 268.8,229.4 269.4,233.2 270.0,228.4 270.6,229.1 271.2,230.9 271.8,225.2 272.4,232.4 273.0,231.1 273.6,231.0 274.2,227.0 274.8,228.2 275.4,229.1 276.0,231.3 276.6,230.8 277.2,231.0 277.8,235.5 278.4,235.4 279.0,230.4 279.6,230.3 280.2,237.0 280.8,231.1 281.4,235.8 282.0,236.2 282.6,231.0 283.2,231.9 283.8,233.1 284.4,231.1 285.0,231.3 285.6,233.7 286.2,237.4 286.8,233.8 287.4,234.5 288.0,234.1 288.6,232.2 289.2,240.0 289.8,229.4 290.4,234.3 291.0,237.3 291.6,232.7 292.2,238.3 292.8,239.8 293.4,234.4 294.0,237.2 294.6,234.0 295.2,238.9 295.8,238.8 296.4,239.9 297.0,243.2 297.6,241.7 298.2,244.5 298.8,243.5 299.4,240.0 300.0,243.4 300.6,244.1 301.2,238.9 301.8,245.3 302.4,241.5 303.0,242.3 303.6,239.1 304.2,240.9 304.8,242.2 305.4,241.2 306.0,242.4 306.6,238.5 307.2,248.8 307.8,242.8 308.4,239.8 309.0,243.8 309.6,244.0 310.2,247.3 310.8,244.0 311.4,246.7 312.0,243.5 312.6,252.1 313.2,248.8 313.8,252.4 314.4,244.8 315.0,249.5 315.6,245.7 316.2,250.0 316.8,251.1 317.4,245.2" fill="none" stroke="#50ea98" stroke-width="1"/>
<polyline points="167.4,243.4 168.0,242.0 168.6,242.1 169.2,248.3 169.8,247.9 170.4,248.7 171.0,241.7 171.6,243.3 172.2,247.4 172.8,242.3 173.4,244.4 174.0,242.1 174.6,251.6 175.2,249.8 175.8,248.3 176.4,247.2 177.0,245.5 177.6,245.6 178.2,247.4 178.8,243.4 179.4,248.0 180.0,243.5 180.6,241.5 181.2,248.1 181.8,244.7 182.4,247.0 183.0,244.8 183.6,240.4 184.2,248.6 184.8,244.2 185.4,251.5 186.0,243.6 186.6,242.5 187.2,247.6 187.8,247.4 188.4,246.0 189.0,242.3 189.6,247.8 190.2,240.9 190.8,244.4 191.4,243.9 192.0,245.1 192.6,248.5 193.2,245.0 193.8,248.3 194.4,248.2 195.0,242.1 195.6,243.0 196.2,244.0 196.8,243.6 197.4,246.5 198.0,240.8 198.6,247.7 199.2,248.0 199.8,246.2 200.4,243.0 201.0,247.1 201.6,245.6 202.2,248.1 202.8,246.7 203.4,249.1 204.0,246.1 204.6,250.5 205.2,240.5 205.8,244.1 206.4,248.5 207.0,243.5 207.6,248.9 208.2,243.1 208.8,246.7 209.4,244.4 210.0,245.9 210.6,247.6 211.2,247.0 211.8,246.1 212.4,253.3 213.0,248.3 213.6,245.6 214.2,250.7 214.8,250.4 215.4,251.2 216.0,252.1 216.6,244.8 217.2,249.6 217.8,249.4 218.4,246.7 219.0,247.3 219.6,237.9 220.2,244.6 220.8,250.3 221.4,241.4 222.0,244.2 222.6,246.4 223.2,247.4 223.8,249.4 224.4,241.6 225.0,246.2 225.6,248.3 226.2,242.8 226.8,246.5 227.4,251.3 228.0,249.3 228.6,249.0 229.2,240.7 229.8,246.8 230.4,248.6 231.0,246.6 231.6,247.2 232.2,255.7 232.8,247.1 233.4,244.5 234.0,247.7 234.6,246.6 235.2,246.7 235.8,247.5 236.4,250.2 237.0,249.2 237.6,245.8 238.2,248.5 238.8,250.5 239.4,249.2 240.0,253.6 240.6,253.1 241.2,248.6 241.8,251.7 242.4,256.3 243.0,255.4 243.6,251.1 244.2,253.3 244.8,249.9 245.4,248.2 246.0,253.2 246.6,253.0 247.2,254.5 247.8,252.8 248.4,254.1 249.0,252.1 249.6,254.6 250.2,255.5 250.8,253.4 251.4,256.0 252.0,249.1 252.6,252.1 253.2,258.0 253.8,258.7 254.4,254.7 255.0,253.7 255.6,250.4 256.2,254.8 256.8,256.1 257.4,251.0 258.0,256.9 258.6,256.6 259.2,257.3 259.8,253.3 260.4,258.2 261.0,253.4 261.6,260.5 262.2,257.0 262.8,253.5 263.4,260.5 264.0,259.5 264.6,255.3 265.2,262.9 265.8,254.5 266.4,258.9 267.0,260.6 267.6,251.6 268.2,260.3 268.8,257.6 269.4,257.5 270.0,255.1 270.6,258.6 271.2,254.2 271.8,255.0 272.4,256.9 273.0,254.8 273.6,262.4 274.2,256.0 274.8,258.1 275.4,259.0 276.0,260.1 276.6,262.7 277.2,262.4 277.8,260.0 278.4,260.2 279.0,261.2 279.6,262.2 280.2,261.9 280.8,259.0 281.4,255.4 282.0,266.9 282.6,263.6 283.2,262.3 283.8,262.8 284.4,261.5 285.0,261.1 285.6,263.5 286.2,264.1 286.8,263.4 287.4,262.2 288.0,265.2 288.6,267.4 289.2,264.7 289.8,266.5 290.4,261.1 291.0,265.7 291.6,266.4 292.2,263.8 292.8,263.1 293.4,268.5 294.0,266.1 294.6,269.4 295.2,267.2 295.8,269.9 296.4,267.8 297.0,265.1 297.6,268.6 298.2,268.3 298.8,271.0 299.4,268.4 300.0,269.6 300.6,272.9 301.2,273.0 301.8,271.9 302.4,273.1 303.0,272.2 303.6,273.6 304.2,274.9 304.8,273.3 305.4,273.0 306.0,273.5 306.6,279.8 307.2,274.1 307.8,273.5 308.4,273.6 309.0,274.1 309.6,275.7 310.2,272.6 310.8,270.9 311.4,276.8 312.0,271.3 312.6,276.0 313.2,275.6 313.8,278.8 314.4,280.6 315.0,277.3 315.6,275.4 316.2,273.9 316.8,276.0 317.4,279.1" fill="none" stroke="#5eecc8" stroke-width="1"/>
<polyline points="167.4,245.6 168.0,246.5 168.6,248.3 169.2,248.0 169.8,247.5 170.4,248.7 171.0,247.2 171.6,247.3 172.2,248.5 172.8,243.7 173.4,251.4 174.0,244.0 174.6,249.9 175.2,247.6 175.8,250.9 176.4,247.8 177.0,245.5 177.6,250.4 178.2,248.2 178.8,248.2 179.4,247.9 180.0,250.1 180.6,249.1 181.2,247.2 181.8,242.4 182.4,245.6 183.0,247.1 183.6,251.1 184.2,247.5 184.8,245.8 185.4,249.3 186.0,246.0 186.6,245.7 187.2,245.6 187.8,241.0 188.4,247.9 189.0,246.5 189.6,245.1 190.2,243.9 190.8,247.6 191.4,251.1 192.0,247.0 192.6,246.0 193.2,249.8 193.8,245.0 194.4,243.7 195.0,247.8 195.6,247.3 196.2,248.4 196.8,247.5 197.4,249.6 198.0,248.0 198.6,246.4 199.2,247.1 199.8,249.6 200.4,250.4 201.0,250.8 201.6,250.0 202.2,239.1 202.8,245.7 203.4,248.0 204.0,249.3 204.6,245.3 205.2,253.3 205.8,250.4 206.4,248.5 207.0,251.0 207.6,250.0 208.2,249.2 208.8,252.5 209.4,250.1 210.0,247.8 210.6,249.3 211.2,250.5 211.8,248.2 212.4,253.9 213.0,247.3 213.6,254.9 214.2,252.3 214.8,247.0 215.4,250.3 216.0,252.9 216.6,249.0 217.2,246.2 217.8,249.4 218.4,253.7 219.0,244.6 219.6,250.5 220.2,249.5 220.8,249.4 221.4,249.2 222.0,250.0 222.6,254.0 223.2,253.0 223.8,249.0 224.4,255.4 225.0,247.4 225.6,252.0 226.2,250.3 226.8,252.5 227.4,249.5 228.0,251.7 228.6,248.8 229.2,251.5 229.8,250.2 230.4,255.4 231.0,248.1 231.6,253.2 232.2,251.3 232.8,249.8 233.4,247.4 234.0,250.7 234.6,245.1 235.2,245.5 235.8,251.7 236.4,245.8 237.0,254.7 237.6,251.7 238.2,254.2 238.8,254.1 239.4,255.9 240.0,253.9 240.6,253.5 241.2,254.2 241.8,256.5 242.4,255.9 243.0,256.8 243.6,253.7 244.2,252.1 244.8,248.4 245.4,254.5 246.0,255.2 246.6,252.4 247.2,255.7 247.8,255.9 248.4,252.9 249.0,255.7 249.6,254.7 250.2,249.8 250.8,253.9 251.4,254.5 252.0,257.5 252.6,254.0 253.2,255.5 253.8,253.5 254.4,255.3 255.0,255.9 255.6,257.9 256.2,257.8 256.8,256.2 257.4,256.5 258.0,256.3 258.6,257.1 259.2,261.5 259.8,251.4 260.4,257.3 261.0,258.3 261.6,260.8 262.2,255.6 262.8,259.3 263.4,261.0 264.0,257.6 264.6,253.5 265.2,257.7 265.8,255.8 266.4,260.3 267.0,257.1 267.6,264.2 268.2,260.1 268.8,257.6 269.4,258.3 270.0,257.1 270.6,260.7 271.2,264.9 271.8,260.5 272.4,264.1 273.0,260.2 273.6,263.8 274.2,269.6 274.8,260.6 275.4,268.6 276.0,268.3 276.6,260.6 277.2,261.8 277.8,262.7 278.4,268.4 279.0,264.2 279.6,265.0 280.2,267.0 280.8,265.5 281.4,265.3 282.0,264.4 282.6,268.1 283.2,262.9 283.8,270.0 284.4,264.5 285.0,263.6 285.6,267.1 286.2,267.1 286.8,260.7 287.4,267.0 288.0,263.3 288.6,265.0 289.2,270.7 289.8,267.0 290.4,270.7 291.0,269.2 291.6,275.4 292.2,270.4 292.8,267.7 293.4,267.9 294.0,268.6 294.6,271.4 295.2,271.7 295.8,274.6 296.4,273.0 297.0,273.7 297.6,274.8 298.2,274.6 298.8,274.4 299.4,276.1 300.0,276.8 300.6,274.4 301.2,271.6 301.8,273.4 302.4,276.6 303.0,269.1 303.6,275.1 304.2,277.5 304.8,275.1 305.4,273.8 306.0,281.7 306.6,281.3 307.2,277.9 307.8,282.2 308.4,282.9 309.0,276.7 309.6,287.0 310.2,277.6 310.8,279.7 311.4,278.2 312.0,280.7 312.6,277.8 313.2,281.0 313.8,284.9 314.4,282.8 315.0,281.6 315.6,286.3 316.2,280.3 316.8,286.0 317.4,283.1" fill="none" stroke="#78f0f0" stroke-width="1"/>
<polyline points="167.4,160.8 168.0,158.2 168.6,160.6 169.2,158.9 169.8,157.9 170.4,156.5 171.0,153.6 171.6,157.9 172.2,156.3 172.8,157.8 173.4,155.3 174.0,153.8 174.6,152.4 175.2,156.5 175.8,157.6 176.4,153.9 177.0,155.5 177.6,158.4 178.2,153.4 178.8,154.3 179.4,152.4 180.0,158.7 180.6,156.9 181.2,155.1 181.8,152.9 182.4,156.8 183.0,160.1 183.6,157.1 184.2,157.3 184.8,159.8 185.4,154.5 186.0,158.2 186.6,158.5 187.2,154.9 187.8,154.8 188.4,157.7 189.0,156.5 189.6,156.2 190.2,157.5 190.8,156.5 191.4,154.1 192.0,154.6 192.6,157.2 193.2,159.1 193.8,159.7 194.4,154.2 195.0,159.1 195.6,158.8 196.2,156.8 196.8,158.3 197.4,159.1 198.0,161.1 198.6,153.8 199.2,158.0 199.8,156.5 200.4,156.6 201.0,159.9 201.6,159.0 202.2,154.0 202.8,155.5 203.4,156.8 204.0,152.3 204.6,157.4 205.2,154.1 205.8,155.1 206.4,155.2 207.0,159.0 207.6,155.9 208.2,155.2 208.8,160.7 209.4,155.7 210.0,155.9 210.6,154.1 211.2,160.2 211.8,158.2 212.4,158.0 213.0,156.9 213.6,156.6 214.2,154.3 214.8,154.3 215.4,157.0 216.0,156.9 216.6,161.5 217.2,155.5 217.8,157.1 218.4,155.1 219.0,161.9 219.6,155.7 220.2,160.7 220.8,162.1 221.4,157.6 222.0,159.5 222.6,151.1 223.2,155.6 223.8,151.8 224.4,156.3 225.0,155.5 225.6,154.2 226.2,159.3 226.8,158.4 227.4,156.4 228.0,156.4 228.6,154.9 229.2,158.1 229.8,164.7 230.4,156.6 231.0,159.3 231.6,156.2 232.2,159.8 232.8,158.5 233.4,156.2 234.0,152.3 234.6,155.3 235.2,159.8 235.8,156.0 236.4,158.5 237.0,156.0 237.6,152.2 238.2,158.5 238.8,158.2 239.4,155.6 240.0,155.9 240.6,157.6 241.2,155.0 241.8,156.8 242.4,156.4 243.0,150.6 243.6,156.3 244.2,155.3 244.8,155.2 245.4,158.5 246.0,156.7 246.6,158.8 247.2,160.3 247.8,158.0 248.4,153.2 249.0,156.0 249.6,159.6 250.2,156.9 250.8,155.1 251.4,158.2 252.0,159.5 252.6,158.5 253.2,159.8 253.8,155.7 254.4,157.8 255.0,157.6 255.6,158.1 256.2,152.5 256.8,157.5 257.4,155.0 258.0,161.8 258.6,162.0 259.2,162.5 259.8,160.3 260.4,157.1 261.0,160.3 261.6,157.6 262.2,159.4 262.8,156.0 263.4,157.0 264.0,159.0 264.6,162.3 265.2,158.0 265.8,164.9 266.4,166.6 267.0,156.8 267.6,160.4 268.2,158.7 268.8,161.3 269.4,160.1 270.0,162.0 270.6,164.2 271.2,163.5 271.8,161.9 272.4,161.0 273.0,160.9 273.6,161.4 274.2,163.3 274.8,161.4 275.4,162.5 276.0,157.9 276.6,163.1 277.2,165.5 277.8,162.2 278.4,158.7 279.0,165.6 279.6,161.2 280.2,155.2 280.8,161.7 281.4,164.2 282.0,164.4 282.6,166.6 283.2,164.0 283.8,162.2 284.4,157.5 285.0,159.6 285.6,163.5 286.2,165.3 286.8,160.3 287.4,160.7 288.0,164.3 288.6,158.7 289.2,158.1 289.8,162.3 290.4,163.9 291.0,161.8 291.6,157.6 292.2,164.3 292.8,161.0 293.4,166.3 294.0,164.6 294.6,165.5 295.2,166.2 295.8,163.8 296.4,168.2 297.0,169.1 297.6,166.4 298.2,169.2 298.8,164.6 299.4,169.2 300.0,168.0 300.6,164.2 301.2,165.6 301.8,165.2 302.4,166.2 303.0,167.8 303.6,170.2 304.2,167.2 304.8,168.8 305.4,165.5 306.0,169.5 306.6,172.2 307.2,171.2 307.8,170.3 308.4,167.6 309.0,166.6 309.6,168.7 310.2,165.8 310.8,166.5 311.4,171.9 312.0,166.8 312.6,173.9 313.2,165.8 313.8,170.4 314.4,166.2 315.0,169.8 315.6,166.4 316.2,169.5 316.8,169.1 317.4,169.3" fill="none" stroke="#5ee4f2" stroke-width="1"/>
<polyline points="167.4,103.8 168.0,102.9 168.6,105.5 169.2,98.1 169.8,96.9 170.4,101.4 171.0,103.3 171.6,103.1 172.2,106.1 172.8,99.6 173.4,102.0 174.0,104.4 174.6,107.0 175.2,105.0 175.8,102.7 176.4,100.2 177.0,104.4 177.6,104.8 178.2,109.3 178.8,101.2 179.4,105.6 180.0,98.3 180.6,99.8 181.2,100.2 181.8,101.0 182.4,99.9 183.0,100.1 183.6,101.4 184.2,100.6 184.8,102.9 185.4,101.2 186.0,101.0 186.6,104.5 187.2,101.7 187.8,101.5 188.4,101.1 189.0,101.0 189.6,102.9 190.2,100.2 190.8,104.7 191.4,106.0 192.0,104.7 192.6,101.0 193.2,98.4 193.8,100.7 194.4,102.7 195.0,103.2 195.6,101.3 196.2,100.5 196.8,104.9 197.4,98.9 198.0,103.7 198.6,104.4 199.2,98.1 199.8,102.7 200.4,100.5 201.0,99.9 201.6,98.0 202.2,99.1 202.8,103.7 203.4,101.4 204.0,103.3 204.6,99.8 205.2,101.6 205.8,102.2 206.4,98.8 207.0,98.5 207.6,104.2 208.2,103.8 208.8,100.3 209.4,103.1 210.0,105.2 210.6,107.3 211.2,100.6 211.8,104.9 212.4,108.8 213.0,102.8 213.6,106.9 214.2,96.4 214.8,106.3 215.4,102.9 216.0,98.0 216.6,104.8 217.2,105.2 217.8,106.5 218.4,106.4 219.0,102.6 219.6,101.5 220.2,102.5 220.8,103.2 221.4,103.8 222.0,101.9 222.6,102.6 223.2,105.0 223.8,103.9 224.4,108.5 225.0,107.8 225.6,99.7 226.2,100.9 226.8,98.4 227.4,99.0 228.0,102.8 228.6,98.8 229.2,98.8 229.8,100.7 230.4,103.9 231.0,101.7 231.6,102.6 232.2,105.4 232.8,105.2 233.4,105.2 234.0,106.5 234.6,101.6 235.2,104.5 235.8,102.2 236.4,106.2 237.0,106.0 237.6,100.6 238.2,106.5 238.8,100.4 239.4,107.1 240.0,104.4 240.6,101.2 241.2,100.3 241.8,102.3 242.4,103.4 243.0,101.9 243.6,104.6 244.2,98.6 244.8,102.9 245.4,103.1 246.0,98.6 246.6,104.3 247.2,100.0 247.8,96.9 248.4,102.0 249.0,103.0 249.6,105.5 250.2,102.2 250.8,106.7 251.4,107.1 252.0,106.6 252.6,106.8 253.2,104.5 253.8,102.5 254.4,105.8 255.0,106.6 255.6,104.7 256.2,102.7 256.8,99.4 257.4,105.5 258.0,104.8 258.6,100.8 259.2,104.7 259.8,105.8 260.4,104.5 261.0,107.0 261.6,106.9 262.2,101.6 262.8,104.1 263.4,106.2 264.0,106.8 264.6,108.4 265.2,99.6 265.8,104.4 266.4,105.9 267.0,107.0 267.6,109.0 268.2,102.0 268.8,103.1 269.4,102.3 270.0,107.5 270.6,102.5 271.2,109.0 271.8,108.0 272.4,106.7 273.0,99.8 273.6,104.7 274.2,107.7 274.8,102.0 275.4,104.6 276.0,105.1 276.6,107.6 277.2,106.1 277.8,106.4 278.4,104.0 279.0,105.3 279.6,104.9 280.2,108.0 280.8,106.0 281.4,109.1 282.0,102.0 282.6,110.1 283.2,106.5 283.8,109.8 284.4,107.0 285.0,108.7 285.6,110.6 286.2,105.4 286.8,107.0 287.4,106.3 288.0,107.9 288.6,103.5 289.2,107.7 289.8,107.4 290.4,105.9 291.0,108.0 291.6,104.3 292.2,111.7 292.8,108.4 293.4,111.7 294.0,104.2 294.6,103.3 295.2,107.4 295.8,101.9 296.4,107.1 297.0,104.8 297.6,106.1 298.2,108.3 298.8,107.9 299.4,113.1 300.0,109.4 300.6,104.6 301.2,110.6 301.8,104.7 302.4,108.5 303.0,104.7 303.6,106.5 304.2,112.0 304.8,107.6 305.4,107.5 306.0,108.7 306.6,110.0 307.2,115.0 307.8,108.5 308.4,107.7 309.0,112.4 309.6,107.0 310.2,110.4 310.8,113.3 311.4,109.7 312.0,108.6 312.6,107.9 313.2,107.0 313.8,108.0 314.4,110.3 315.0,113.0 315.6,112.7 316.2,108.6 316.8,108.4 317.4,111.7" fill="none" stroke="#4ed0f4" stroke-width="1"/>
<polyline points="167.4,96.9 168.0,95.6 168.6,99.0 169.2,95.7 169.8,94.9 170.4,98.4 171.0,94.2 171.6,95.2 172.2,99.5 172.8,92.9 173.4,99.7 174.0,97.4 174.6,95.7 175.2,99.0 175.8,99.8 176.4,97.2 177.0,98.4 177.6,100.8 178.2,100.6 178.8,98.1 179.4,96.6 180.0,95.6 180.6,96.8 181.2,100.2 181.8,100.1 182.4,99.5 183.0,102.0 183.6,98.2 184.2,97.4 184.8,97.3 185.4,102.9 186.0,92.9 186.6,97.9 187.2,98.5 187.8,97.7 188.4,103.5 189.0,100.7 189.6,100.4 190.2,95.9 190.8,99.3 191.4,98.3 192.0,98.7 192.6,99.0 193.2,97.4 193.8,100.5 194.4,102.4 195.0,101.3 195.6,98.6 196.2,92.9 196.8,101.1 197.4,100.8 198.0,97.3 198.6,96.4 199.2,99.4 199.8,96.0 200.4,100.3 201.0,95.7 201.6,95.5 202.2,97.2 202.8,94.1 203.4,98.3 204.0,99.1 204.6,94.4 205.2,100.0 205.8,96.6 206.4,100.0 207.0,100.4 207.6,98.6 208.2,98.1 208.8,95.8 209.4,98.4 210.0,98.5 210.6,104.3 211.2,102.9 211.8,96.5 212.4,102.2 213.0,100.3 213.6,98.8 214.2,100.2 214.8,100.3 215.4,97.1 216.0,97.3 216.6,98.6 217.2,95.0 217.8,98.7 218.4,98.1 219.0,97.4 219.6,97.5 220.2,100.2 220.8,102.2 221.4,100.8 222.0,98.0 222.6,101.4 223.2,100.2 223.8,101.4 224.4,102.5 225.0,97.6 225.6,99.1 226.2,98.1 226.8,97.4 227.4,104.2 228.0,101.4 228.6,94.6 229.2,100.2 229.8,98.2 230.4,102.3 231.0,99.6 231.6,99.3 232.2,100.1 232.8,100.5 233.4,99.3 234.0,97.9 234.6,97.9 235.2,99.6 235.8,95.9 236.4,98.8 237.0,98.8 237.6,98.2 238.2,101.8 238.8,97.2 239.4,99.4 240.0,97.9 240.6,101.1 241.2,99.4 241.8,100.6 242.4,101.8 243.0,96.6 243.6,102.2 244.2,98.9 244.8,100.5 245.4,100.6 246.0,101.7 246.6,101.7 247.2,103.2 247.8,99.2 248.4,97.6 249.0,97.3 249.6,99.7 250.2,102.0 250.8,99.3 251.4,96.8 252.0,99.4 252.6,99.6 253.2,99.4 253.8,97.6 254.4,92.9 255.0,98.2 255.6,102.0 256.2,100.2 256.8,93.7 257.4,99.5 258.0,94.5 258.6,103.9 259.2,99.7 259.8,96.4 260.4,101.2 261.0,97.8 261.6,101.4 262.2,99.4 262.8,96.5 263.4,100.7 264.0,96.5 264.6,102.5 265.2,99.4 265.8,96.3 266.4,94.5 267.0,103.0 267.6,102.4 268.2,96.0 268.8,102.8 269.4,99.6 270.0,98.6 270.6,98.3 271.2,97.9 271.8,102.6 272.4,99.8 273.0,95.2 273.6,105.1 274.2,102.0 274.8,96.9 275.4,99.6 276.0,98.6 276.6,100.7 277.2,101.6 277.8,101.1 278.4,98.9 279.0,98.7 279.6,103.1 280.2,100.7 280.8,105.8 281.4,98.0 282.0,101.9 282.6,99.9 283.2,97.2 283.8,102.3 284.4,98.6 285.0,96.6 285.6,98.5 286.2,102.2 286.8,96.4 287.4,102.5 288.0,101.5 288.6,99.1 289.2,103.5 289.8,103.9 290.4,101.1 291.0,100.1 291.6,104.0 292.2,102.9 292.8,97.1 293.4,98.6 294.0,99.0 294.6,98.9 295.2,96.6 295.8,102.3 296.4,101.0 297.0,102.2 297.6,105.4 298.2,100.9 298.8,102.3 299.4,102.6 300.0,100.2 300.6,100.7 301.2,102.5 301.8,99.9 302.4,103.4 303.0,98.1 303.6,100.6 304.2,97.0 304.8,100.0 305.4,99.1 306.0,104.1 306.6,103.2 307.2,102.5 307.8,105.9 308.4,104.6 309.0,102.3 309.6,99.4 310.2,97.3 310.8,100.9 311.4,99.8 312.0,98.6 312.6,99.7 313.2,95.8 313.8,103.8 314.4,97.4 315.0,98.7 315.6,101.6 316.2,97.0 316.8,103.5 317.4,103.4" fill="none" stroke="#62aaf4" stroke-width="1"/>
<polyline points="167.4,251.1 168.0,253.2 168.6,250.9 169.2,252.8 169.8,251.3 170.4,251.1 171.0,248.6 171.6,252.3 172.2,254.4 172.8,250.8 173.4,252.5 174.0,251.8 174.6,248.3 175.2,252.1 175.8,254.7 176.4,250.1 177.0,245.9 177.6,250.8 178.2,249.1 178.8,256.4 179.4,251.1 180.0,251.9 180.6,250.6 181.2,252.6 181.8,250.6 182.4,249.7 183.0,251.5 183.6,249.0 184.2,254.5 184.8,247.8 185.4,249.6 186.0,247.9 186.6,245.9 187.2,254.3 187.8,244.6 188.4,253.4 189.0,246.5 189.6,250.7 190.2,256.5 190.8,245.6 191.4,248.0 192.0,254.8 192.6,251.8 193.2,250.4 193.8,251.5 194.4,249.3 195.0,252.1 195.6,256.0 196.2,251.2 196.8,252.1 197.4,255.5 198.0,257.7 198.6,250.8 199.2,253.3 199.8,251.0 200.4,250.3 201.0,250.7 201.6,250.7 202.2,247.8 202.8,246.9 203.4,250.9 204.0,252.6 204.6,256.2 205.2,252.9 205.8,254.0 206.4,255.1 207.0,255.1 207.6,252.6 208.2,252.4 208.8,257.2 209.4,250.8 210.0,249.3 210.6,246.3 211.2,252.2 211.8,249.8 212.4,256.0 213.0,250.3 213.6,253.2 214.2,254.0 214.8,255.9 215.4,248.5 216.0,256.2 216.6,253.4 217.2,253.0 217.8,252.4 218.4,251.9 219.0,252.4 219.6,247.8 220.2,255.0 220.8,252.9 221.4,249.7 222.0,251.3 222.6,257.8 223.2,253.2 223.8,250.7 224.4,255.8 225.0,250.4 225.6,253.1 226.2,251.9 226.8,253.3 227.4,255.0 228.0,254.2 228.6,251.3 229.2,253.8 229.8,254.2 230.4,252.7 231.0,254.1 231.6,252.6 232.2,253.4 232.8,255.6 233.4,252.3 234.0,256.0 234.6,254.2 235.2,253.0 235.8,254.1 236.4,255.0 237.0,255.4 237.6,256.8 238.2,257.2 238.8,255.4 239.4,261.2 240.0,259.8 240.6,257.6 241.2,259.0 241.8,257.9 242.4,256.8 243.0,257.6 243.6,263.6 244.2,259.9 244.8,260.1 245.4,256.7 246.0,259.0 246.6,263.5 247.2,258.8 247.8,260.5 248.4,260.9 249.0,258.8 249.6,261.4 250.2,258.5 250.8,260.3 251.4,257.2 252.0,265.4 252.6,259.3 253.2,259.4 253.8,263.0 254.4,258.1 255.0,259.1 255.6,257.4 256.2,259.9 256.8,258.6 257.4,261.9 258.0,260.2 258.6,259.6 259.2,260.9 259.8,262.1 260.4,260.4 261.0,264.4 261.6,264.6 262.2,263.4 262.8,259.9 263.4,264.1 264.0,259.4 264.6,262.8 265.2,263.8 265.8,261.9 266.4,261.5 267.0,261.8 267.6,269.2 268.2,263.6 268.8,263.8 269.4,267.2 270.0,265.9 270.6,267.9 271.2,262.3 271.8,262.2 272.4,273.1 273.0,265.1 273.6,265.0 274.2,266.2 274.8,267.9 275.4,262.8 276.0,267.1 276.6,267.0 277.2,269.8 277.8,268.6 278.4,267.5 279.0,267.0 279.6,263.9 280.2,272.9 280.8,266.8 281.4,269.4 282.0,275.4 282.6,270.9 283.2,273.3 283.8,271.8 284.4,273.9 285.0,272.1 285.6,270.5 286.2,275.9 286.8,271.6 287.4,269.0 288.0,271.3 288.6,273.5 289.2,269.8 289.8,274.8 290.4,275.3 291.0,278.8 291.6,272.3 292.2,275.2 292.8,270.4 293.4,273.7 294.0,275.4 294.6,276.2 295.2,275.7 295.8,275.7 296.4,275.0 297.0,276.8 297.6,279.2 298.2,280.7 298.8,281.5 299.4,282.6 300.0,283.6 300.6,277.1 301.2,280.7 301.8,281.9 302.4,280.5 303.0,284.5 303.6,284.3 304.2,283.2 304.8,283.4 305.4,286.5 306.0,282.7 306.6,283.1 307.2,286.6 307.8,286.3 308.4,289.0 309.0,286.6 309.6,287.8 310.2,284.9 310.8,284.2 311.4,286.2 312.0,280.1 312.6,287.3 313.2,289.0 313.8,287.3 314.4,287.2 315.0,290.9 315.6,288.5 316.2,292.0 316.8,294.7 317.4,292.0" fill="none" stroke="#3c84f4" stroke-width="1"/>
<polyline points="167.4,246.4 168.0,247.4 168.6,246.5 169.2,248.4 169.8,248.0 170.4,247.5 171.0,247.6 171.6,249.0 172.2,252.7 172.8,251.4 173.4,247.3 174.0,250.0 174.6,248.8 175.2,248.6 175.8,248.1 176.4,246.1 177.0,244.4 177.6,242.0 178.2,248.7 178.8,251.3 179.4,245.8 180.0,249.8 180.6,247.5 181.2,250.1 181.8,247.2 182.4,248.5 183.0,248.3 183.6,242.7 184.2,248.9 184.8,248.0 185.4,241.9 186.0,249.1 186.6,247.4 187.2,248.4 187.8,249.4 188.4,247.5 189.0,246.5 189.6,248.0 190.2,248.4 190.8,255.7 191.4,255.6 192.0,248.9 192.6,248.4 193.2,250.0 193.8,250.1 194.4,246.9 195.0,246.1 195.6,252.8 196.2,249.2 196.8,243.1 197.4,243.0 198.0,245.4 198.6,248.5 199.2,249.7 199.8,247.2 200.4,244.1 201.0,248.9 201.6,249.7 202.2,248.5 202.8,247.3 203.4,250.3 204.0,248.6 204.6,245.5 205.2,249.0 205.8,246.3 206.4,251.8 207.0,249.8 207.6,245.9 208.2,248.6 208.8,250.9 209.4,242.8 210.0,247.4 210.6,251.2 211.2,243.1 211.8,247.2 212.4,243.8 213.0,246.9 213.6,240.5 214.2,243.1 214.8,245.8 215.4,247.9 216.0,248.5 216.6,248.7 217.2,250.2 217.8,249.3 218.4,250.2 219.0,245.6 219.6,247.6 220.2,256.0 220.8,253.9 221.4,250.8 222.0,250.6 222.6,251.3 223.2,247.6 223.8,253.5 224.4,248.1 225.0,249.1 225.6,255.0 226.2,243.6 226.8,250.1 227.4,244.6 228.0,247.1 228.6,248.3 229.2,247.2 229.8,248.5 230.4,246.2 231.0,248.0 231.6,245.6 232.2,248.0 232.8,245.3 233.4,250.7 234.0,246.0 234.6,251.1 235.2,247.7 235.8,248.1 236.4,252.1 237.0,249.3 237.6,244.9 238.2,251.1 238.8,242.7 239.4,251.5 240.0,250.5 240.6,247.9 241.2,251.4 241.8,250.1 242.4,256.2 243.0,249.6 243.6,255.7 244.2,253.5 244.8,247.8 245.4,247.3 246.0,252.6 246.6,248.8 247.2,248.9 247.8,248.2 248.4,245.5 249.0,247.9 249.6,246.8 250.2,245.3 250.8,248.4 251.4,254.5 252.0,254.6 252.6,250.3 253.2,251.4 253.8,252.3 254.4,254.4 255.0,251.4 255.6,249.9 256.2,249.4 256.8,253.2 257.4,257.1 258.0,248.5 258.6,244.8 259.2,252.5 259.8,250.6 260.4,251.7 261.0,255.2 261.6,252.4 262.2,248.3 262.8,246.2 263.4,251.5 264.0,248.3 264.6,252.3 265.2,247.5 265.8,248.9 266.4,246.0 267.0,249.4 267.6,249.8 268.2,252.5 268.8,254.4 269.4,250.2 270.0,248.5 270.6,255.8 271.2,252.2 271.8,252.3 272.4,252.0 273.0,253.5 273.6,252.5 274.2,252.1 274.8,251.7 275.4,248.5 276.0,249.1 276.6,250.4 277.2,250.4 277.8,251.4 278.4,252.2 279.0,251.3 279.6,250.7 280.2,247.0 280.8,253.5 281.4,252.8 282.0,249.8 282.6,252.6 283.2,252.0 283.8,250.6 284.4,246.1 285.0,247.5 285.6,248.5 286.2,254.8 286.8,248.2 287.4,250.8 288.0,249.7 288.6,251.9 289.2,254.0 289.8,247.7 290.4,245.8 291.0,254.7 291.6,253.0 292.2,250.2 292.8,253.5 293.4,253.1 294.0,245.3 294.6,251.0 295.2,254.6 295.8,250.0 296.4,251.1 297.0,254.7 297.6,251.7 298.2,249.1 298.8,250.3 299.4,248.9 300.0,254.0 300.6,248.4 301.2,255.5 301.8,249.5 302.4,254.1 303.0,250.3 303.6,252.8 304.2,256.3 304.8,256.8 305.4,257.4 306.0,253.9 306.6,253.9 307.2,253.8 307.8,255.0 308.4,252.2 309.0,255.8 309.6,253.0 310.2,255.0 310.8,253.0 311.4,252.9 312.0,250.0 312.6,251.3 313.2,249.2 313.8,252.0 314.4,252.9 315.0,255.5 315.6,250.4 316.2,262.8 316.8,254.2 317.4,257.6" fill="none" stroke="#2a40e8" stroke-width="1"/>
<polyline points="167.4,184.3 168.0,184.2 168.6,184.2 169.2,185.4 169.8,185.4 170.4,186.1 171.0,180.6 171.6,183.6 172.2,179.8 172.8,188.8 173.4,190.2 174.0,190.5 174.6,187.8 175.2,191.1 175.8,187.9 176.4,186.9 177.0,183.0 177.6,185.7 178.2,185.7 178.8,190.0 179.4,192.1 180.0,186.2 180.6,188.0 181.2,187.1 181.8,184.4 182.4,181.2 183.0,183.9 183.6,181.6 184.2,184.5 184.8,185.2 185.4,185.3 186.0,185.5 186.6,187.1 187.2,184.2 187.8,189.5 188.4,183.2 189.0,187.8 189.6,189.1 190.2,186.6 190.8,184.3 191.4,190.4 192.0,186.1 192.6,189.6 193.2,189.2 193.8,186.8 194.4,185.8 195.0,188.1 195.6,187.0 196.2,183.2 196.8,185.7 197.4,186.6 198.0,186.3 198.6,186.6 199.2,186.1 199.8,185.0 200.4,182.8 201.0,181.7 201.6,188.8 202.2,184.0 202.8,185.9 203.4,181.1 204.0,186.3 204.6,185.1 205.2,195.0 205.8,185.0 206.4,185.2 207.0,190.6 207.6,191.1 208.2,183.0 208.8,188.6 209.4,190.3 210.0,185.0 210.6,190.4 211.2,187.4 211.8,185.8 212.4,187.1 213.0,186.6 213.6,183.9 214.2,193.2 214.8,186.5 215.4,185.1 216.0,189.0 216.6,187.2 217.2,191.8 217.8,187.7 218.4,189.5 219.0,189.1 219.6,189.1 220.2,188.3 220.8,188.2 221.4,193.0 222.0,186.8 222.6,187.3 223.2,187.6 223.8,189.2 224.4,188.6 225.0,190.0 225.6,185.2 226.2,188.5 226.8,187.7 227.4,187.4 228.0,189.2 228.6,183.8 229.2,189.8 229.8,190.0 230.4,185.7 231.0,189.1 231.6,192.9 232.2,188.1 232.8,189.9 233.4,187.7 234.0,186.2 234.6,185.3 235.2,186.9 235.8,191.4 236.4,189.8 237.0,185.5 237.6,190.9 238.2,188.2 238.8,186.8 239.4,190.1 240.0,186.2 240.6,185.3 241.2,193.4 241.8,185.8 242.4,191.0 243.0,185.4 243.6,188.5 244.2,188.0 244.8,187.7 245.4,183.1 246.0,189.0 246.6,189.0 247.2,187.3 247.8,190.2 248.4,194.4 249.0,189.8 249.6,192.7 250.2,188.8 250.8,192.3 251.4,193.3 252.0,198.0 252.6,193.5 253.2,192.1 253.8,194.9 254.4,188.5 255.0,193.9 255.6,190.1 256.2,189.6 256.8,194.6 257.4,192.9 258.0,196.2 258.6,189.6 259.2,194.5 259.8,192.6 260.4,193.3 261.0,189.2 261.6,197.3 262.2,195.4 262.8,192.2 263.4,191.5 264.0,192.2 264.6,198.0 265.2,194.1 265.8,193.6 266.4,194.5 267.0,193.4 267.6,194.3 268.2,195.6 268.8,195.1 269.4,197.0 270.0,191.4 270.6,195.3 271.2,195.0 271.8,196.1 272.4,195.6 273.0,193.9 273.6,194.6 274.2,197.8 274.8,194.4 275.4,192.3 276.0,197.2 276.6,198.8 277.2,195.8 277.8,197.0 278.4,194.7 279.0,197.5 279.6,200.6 280.2,200.6 280.8,199.1 281.4,198.1 282.0,194.5 282.6,199.6 283.2,199.9 283.8,200.5 284.4,203.7 285.0,198.8 285.6,200.5 286.2,195.8 286.8,200.9 287.4,199.8 288.0,201.7 288.6,200.6 289.2,200.3 289.8,203.8 290.4,198.5 291.0,201.9 291.6,204.9 292.2,200.8 292.8,200.2 293.4,203.9 294.0,203.2 294.6,204.1 295.2,204.5 295.8,201.6 296.4,204.2 297.0,206.0 297.6,202.1 298.2,203.0 298.8,201.1 299.4,207.0 300.0,209.9 300.6,200.1 301.2,205.9 301.8,206.7 302.4,203.0 303.0,204.1 303.6,202.5 304.2,202.5 304.8,204.4 305.4,206.7 306.0,205.3 306.6,208.0 307.2,206.7 307.8,202.8 308.4,210.2 309.0,210.0 309.6,206.3 310.2,212.8 310.8,209.5 311.4,208.2 312.0,213.1 312.6,202.1 313.2,203.8 313.8,209.9 314.4,207.0 315.0,205.5 315.6,211.8 316.2,209.4 316.8,204.9 317.4,206.8" fill="none" stroke="#3c3cf0" stroke-width="1"/>
<polyline points="167.4,100.8 168.0,97.2 168.6,97.5 169.2,98.7 169.8,100.1 170.4,99.6 171.0,99.0 171.6,98.3 172.2,94.6 172.8,99.6 173.4,98.0 174.0,97.7 174.6,104.4 175.2,93.5 175.8,98.9 176.4,101.5 177.0,100.9 177.6,102.0 178.2,95.3 178.8,96.2 179.4,100.7 180.0,98.1 180.6,102.9 181.2,100.2 181.8,100.8 182.4,101.6 183.0,100.0 183.6,102.2 184.2,100.3 184.8,101.6 185.4,100.6 186.0,101.6 186.6,96.7 187.2,96.4 187.8,101.3 188.4,99.8 189.0,96.2 189.6,98.7 190.2,96.0 190.8,104.3 191.4,95.1 192.0,103.7 192.6,96.3 193.2,100.1 193.8,98.0 194.4,97.2 195.0,101.3 195.6,100.6 196.2,97.7 196.8,95.3 197.4,103.7 198.0,101.5 198.6,99.0 199.2,98.1 199.8,99.6 200.4,99.4 201.0,102.2 201.6,97.1 202.2,100.4 202.8,98.1 203.4,103.7 204.0,105.1 204.6,100.6 205.2,102.0 205.8,104.6 206.4,100.6 207.0,98.3 207.6,103.8 208.2,101.8 208.8,100.0 209.4,103.8 210.0,101.1 210.6,95.7 211.2,100.7 211.8,99.6 212.4,104.6 213.0,99.6 213.6,99.6 214.2,101.6 214.8,101.1 215.4,96.7 216.0,101.0 216.6,100.3 217.2,104.4 217.8,107.4 218.4,97.9 219.0,98.1 219.6,98.2 220.2,98.6 220.8,98.8 221.4,100.1 222.0,102.8 222.6,97.0 223.2,96.1 223.8,94.9 224.4,102.9 225.0,103.6 225.6,95.0 226.2,95.1 226.8,100.5 227.4,102.7 228.0,103.3 228.6,102.0 229.2,103.2 229.8,102.4 230.4,101.4 231.0,108.4 231.6,103.4 232.2,100.6 232.8,101.2 233.4,98.5 234.0,102.1 234.6,105.6 235.2,99.3 235.8,105.3 236.4,107.4 237.0,103.6 237.6,100.0 238.2,101.1 238.8,103.8 239.4,101.3 240.0,101.4 240.6,104.2 241.2,105.2 241.8,107.0 242.4,102.2 243.0,110.4 243.6,106.9 244.2,107.1 244.8,103.5 245.4,109.5 246.0,104.1 246.6,109.7 247.2,108.2 247.8,103.6 248.4,105.5 249.0,110.5 249.6,108.8 250.2,106.5 250.8,107.8 251.4,107.9 252.0,105.6 252.6,107.0 253.2,106.6 253.8,108.1 254.4,110.7 255.0,106.4 255.6,110.8 256.2,109.4 256.8,111.1 257.4,110.7 258.0,111.0 258.6,109.3 259.2,109.3 259.8,107.3 260.4,109.1 261.0,105.1 261.6,107.4 262.2,110.9 262.8,109.3 263.4,110.7 264.0,106.9 264.6,113.3 265.2,108.6 265.8,111.2 266.4,110.7 267.0,113.2 267.6,109.8 268.2,108.2 268.8,105.8 269.4,110.3 270.0,107.9 270.6,112.5 271.2,114.1 271.8,104.7 272.4,107.3 273.0,112.0 273.6,115.1 274.2,112.7 274.8,112.2 275.4,113.0 276.0,113.1 276.6,115.6 277.2,113.4 277.8,108.7 278.4,110.2 279.0,112.1 279.6,110.2 280.2,111.2 280.8,111.4 281.4,111.4 282.0,115.5 282.6,112.3 283.2,111.1 283.8,112.2 284.4,114.7 285.0,120.5 285.6,115.9 286.2,119.2 286.8,115.9 287.4,109.5 288.0,116.1 288.6,113.5 289.2,112.6 289.8,114.1 290.4,120.7 291.0,112.2 291.6,114.5 292.2,119.3 292.8,118.3 293.4,111.8 294.0,115.3 294.6,114.3 295.2,116.1 295.8,119.4 296.4,116.9 297.0,118.1 297.6,123.3 298.2,115.1 298.8,119.6 299.4,121.7 300.0,117.6 300.6,119.2 301.2,118.0 301.8,121.9 302.4,119.3 303.0,123.1 303.6,123.5 304.2,121.5 304.8,121.0 305.4,121.8 306.0,120.4 306.6,117.7 307.2,123.7 307.8,122.0 308.4,123.8 309.0,118.6 309.6,124.5 310.2,128.7 310.8,126.0 311.4,120.4 312.0,125.2 312.6,125.6 313.2,127.3 313.8,125.9 314.4,127.5 315.0,125.1 315.6,126.8 316.2,124.7 316.8,126.6 317.4,128.8" fill="none" stroke="#1c1cd8" stroke-width="1"/>
<polyline points="167.4,229.8 168.0,227.3 168.6,229.8 169.2,226.1 169.8,230.4 170.4,228.7 171.0,231.4 171.6,229.6 172.2,231.4 172.8,235.4 173.4,228.5 174.0,226.5 174.6,230.6 175.2,229.9 175.8,231.2 176.4,228.5 177.0,232.1 177.6,230.7 178.2,224.8 178.8,230.4 179.4,230.7 180.0,232.6 180.6,227.6 181.2,227.2 181.8,232.9 182.4,227.8 183.0,229.8 183.6,230.4 184.2,230.9 184.8,228.4 185.4,225.0 186.0,231.3 186.6,227.1 187.2,227.5 187.8,234.4 188.4,230.6 189.0,226.2 189.6,228.0 190.2,229.4 190.8,228.2 191.4,225.5 192.0,232.9 192.6,233.0 193.2,231.9 193.8,230.2 194.4,231.6 195.0,232.7 195.6,227.3 196.2,228.5 196.8,227.4 197.4,230.3 198.0,229.7 198.6,225.3 199.2,227.6 199.8,233.4 200.4,226.9 201.0,229.8 201.6,228.2 202.2,234.2 202.8,229.7 203.4,228.6 204.0,226.4 204.6,229.7 205.2,232.0 205.8,231.9 206.4,225.9 207.0,233.2 207.6,228.8 208.2,227.2 208.8,229.5 209.4,226.5 210.0,227.3 210.6,227.1 211.2,228.6 211.8,228.0 212.4,225.5 213.0,231.6 213.6,229.6 214.2,235.1 214.8,232.9 215.4,232.5 216.0,231.8 216.6,234.1 217.2,229.8 217.8,228.0 218.4,231.6 219.0,223.0 219.6,229.2 220.2,231.5 220.8,229.5 221.4,234.0 222.0,232.3 222.6,230.5 223.2,229.7 223.8,234.0 224.4,228.9 225.0,228.8 225.6,232.3 226.2,231.9 226.8,235.4 227.4,229.2 228.0,223.9 228.6,230.5 229.2,231.6 229.8,228.3 230.4,232.5 231.0,233.8 231.6,227.6 232.2,228.2 232.8,226.7 233.4,231.9 234.0,233.1 234.6,232.9 235.2,228.2 235.8,229.7 236.4,227.9 237.0,226.9 237.6,227.8 238.2,227.9 238.8,231.6 239.4,234.5 240.0,235.2 240.6,233.1 241.2,231.2 241.8,233.6 242.4,234.5 243.0,231.1 243.6,231.7 244.2,230.0 244.8,229.1 245.4,230.5 246.0,227.7 246.6,233.5 247.2,226.9 247.8,232.7 248.4,228.5 249.0,235.9 249.6,234.6 250.2,229.7 250.8,230.2 251.4,228.4 252.0,231.3 252.6,233.1 253.2,239.6 253.8,229.2 254.4,236.5 255.0,232.1 255.6,235.2 256.2,237.2 256.8,236.5 257.4,235.7 258.0,233.6 258.6,234.7 259.2,234.5 259.8,237.3 260.4,229.7 261.0,232.7 261.6,231.2 262.2,232.1 262.8,231.7 263.4,236.4 264.0,239.9 264.6,237.3 265.2,230.7 265.8,233.8 266.4,229.3 267.0,233.9 267.6,237.3 268.2,235.4 268.8,235.7 269.4,233.3 270.0,228.4 270.6,228.7 271.2,234.2 271.8,236.3 272.4,238.3 273.0,233.2 273.6,235.3 274.2,236.2 274.8,238.4 275.4,235.4 276.0,232.4 276.6,237.9 277.2,235.3 277.8,235.6 278.4,231.2 279.0,235.0 279.6,230.6 280.2,229.6 280.8,235.3 281.4,234.7 282.0,238.4 282.6,241.3 283.2,236.7 283.8,241.5 284.4,234.6 285.0,239.1 285.6,232.9 286.2,236.5 286.8,235.1 287.4,235.5 288.0,238.4 288.6,231.7 289.2,238.0 289.8,235.3 290.4,238.4 291.0,238.8 291.6,236.3 292.2,235.4 292.8,233.2 293.4,237.6 294.0,234.2 294.6,237.2 295.2,232.3 295.8,240.2 296.4,234.1 297.0,240.2 297.6,236.4 298.2,239.6 298.8,237.4 299.4,239.5 300.0,238.1 300.6,242.4 301.2,241.2 301.8,242.0 302.4,244.7 303.0,237.6 303.6,243.3 304.2,240.2 304.8,235.7 305.4,241.2 306.0,240.0 306.6,245.2 307.2,238.7 307.8,241.1 308.4,242.2 309.0,236.4 309.6,243.1 310.2,238.0 310.8,244.2 311.4,245.2 312.0,241.5 312.6,237.2 313.2,242.1 313.8,242.2 314.4,243.7 315.0,242.0 315.6,239.9 316.2,242.2 316.8,240.1 317.4,247.5" fill="none" stroke="#2020e8" stroke-width="1"/>
<polyline points="167.4,28.5 168.0,29.9 168.6,30.8 169.2,28.4 169.8,26.6 170.4,35.2 171.0,29.4 171.6,25.9 172.2,24.8 172.8,23.1 173.4,28.8 174.0,34.5 174.6,26.4 175.2,29.8 175.8,25.7 176.4,34.1 177.0,32.1 177.6,31.8 178.2,34.9 178.8,35.7 179.4,34.4 180.0,30.0 180.6,28.1 181.2,28.0 181.8,25.9 182.4,35.9 183.0,30.1 183.6,30.9 184.2,30.9 184.8,36.1 185.4,30.1 186.0,34.8 186.6,32.9 187.2,31.3 187.8,26.7 188.4,34.6 189.0,30.0 189.6,30.8 190.2,32.1 190.8,31.7 191.4,34.8 192.0,30.3 192.6,33.0 193.2,32.7 193.8,32.4 194.4,33.7 195.0,31.4 195.6,36.1 196.2,29.9 196.8,27.7 197.4,31.0 198.0,35.1 198.6,30.7 199.2,30.1 199.8,30.7 200.4,31.3 201.0,30.8 201.6,32.1 202.2,26.6 202.8,35.0 203.4,32.1 204.0,29.4 204.6,35.9 205.2,34.0 205.8,36.6 206.4,28.8 207.0,36.3 207.6,31.8 208.2,27.5 208.8,34.7 209.4,31.3 210.0,29.6 210.6,32.5 211.2,28.7 211.8,36.1 212.4,34.2 213.0,33.1 213.6,36.9 214.2,33.3 214.8,31.4 215.4,29.8 216.0,31.7 216.6,34.5 217.2,29.1 217.8,28.8 218.4,34.3 219.0,32.3 219.6,32.3 220.2,38.0 220.8,29.4 221.4,33.7 222.0,29.2 222.6,32.6 223.2,35.2 223.8,36.8 224.4,30.2 225.0,36.4 225.6,36.5 226.2,33.4 226.8,40.5 227.4,34.4 228.0,32.0 228.6,35.8 229.2,29.0 229.8,38.4 230.4,37.6 231.0,34.3 231.6,37.1 232.2,36.2 232.8,39.7 233.4,32.3 234.0,30.9 234.6,28.7 235.2,32.3 235.8,28.3 236.4,32.1 237.0,34.3 237.6,31.8 238.2,30.5 238.8,35.6 239.4,31.8 240.0,34.6 240.6,36.8 241.2,30.6 241.8,31.2 242.4,40.4 243.0,32.9 243.6,31.1 244.2,33.3 244.8,31.8 245.4,29.6 246.0,32.0 246.6,33.8 247.2,33.6 247.8,35.9 248.4,29.4 249.0,30.3 249.6,36.4 250.2,33.7 250.8,38.2 251.4,35.1 252.0,31.3 252.6,36.7 253.2,33.0 253.8,36.3 254.4,38.5 255.0,41.2 255.6,34.8 256.2,37.1 256.8,35.8 257.4,36.9 258.0,28.4 258.6,34.4 259.2,36.5 259.8,36.4 260.4,33.6 261.0,37.5 261.6,38.5 262.2,35.7 262.8,34.5 263.4,33.7 264.0,34.6 264.6,37.6 265.2,38.8 265.8,33.8 266.4,33.0 267.0,33.4 267.6,37.6 268.2,36.0 268.8,35.8 269.4,36.7 270.0,36.8 270.6,35.5 271.2,32.9 271.8,33.5 272.4,35.4 273.0,36.0 273.6,34.4 274.2,33.5 274.8,37.8 275.4,33.1 276.0,35.0 276.6,34.6 277.2,34.2 277.8,32.5 278.4,35.3 279.0,35.2 279.6,39.3 280.2,34.4 280.8,36.4 281.4,38.7 282.0,36.3 282.6,39.3 283.2,40.4 283.8,33.9 284.4,38.2 285.0,36.7 285.6,42.6 286.2,39.1 286.8,40.6 287.4,42.9 288.0,36.7 288.6,37.8 289.2,38.4 289.8,35.9 290.4,40.6 291.0,38.9 291.6,40.1 292.2,37.3 292.8,36.9 293.4,36.7 294.0,37.4 294.6,34.9 295.2,40.3 295.8,42.2 296.4,40.0 297.0,39.1 297.6,40.4 298.2,41.4 298.8,41.0 299.4,44.6 300.0,36.7 300.6,39.7 301.2,40.6 301.8,38.9 302.4,38.3 303.0,36.1 303.6,37.0 304.2,40.2 304.8,42.5 305.4,37.1 306.0,40.2 306.6,41.2 307.2,42.4 307.8,40.2 308.4,41.7 309.0,43.4 309.6,38.6 310.2,43.1 310.8,39.3 311.4,39.0 312.0,43.1 312.6,42.3 313.2,48.2 313.8,49.8 314.4,46.6 315.0,46.4 315.6,46.6 316.2,47.3 316.8,48.2 317.4,49.5" fill="none" stroke="#3a3af0" stroke-width="1"/>
<polyline points="167.4,214.4 168.0,213.1 168.6,213.8 169.2,213.9 169.8,208.1 170.4,210.5 171.0,215.9 171.6,216.0 172.2,213.3 172.8,212.1 173.4,212.7 174.0,212.4 174.6,211.4 175.2,208.4 175.8,213.2 176.4,211.5 177.0,212.2 177.6,217.6 178.2,214.0 178.8,210.5 179.4,214.0 180.0,209.2 180.6,215.6 181.2,213.4 181.8,211.9 182.4,213.2 183.0,216.0 183.6,211.1 184.2,209.1 184.8,217.0 185.4,211.3 186.0,214.4 186.6,209.5 187.2,213.0 187.8,209.6 188.4,212.6 189.0,210.8 189.6,209.7 190.2,215.5 190.8,213.3 191.4,206.8 192.0,210.9 192.6,209.7 193.2,209.1 193.8,210.4 194.4,210.8 195.0,211.9 195.6,210.4 196.2,207.2 196.8,210.8 197.4,214.5 198.0,208.9 198.6,214.4 199.2,214.4 199.8,212.3 200.4,213.7 201.0,211.6 201.6,212.4 202.2,210.5 202.8,214.7 203.4,216.7 204.0,210.9 204.6,216.0 205.2,207.4 205.8,210.7 206.4,210.4 207.0,217.8 207.6,211.5 208.2,215.4 208.8,208.7 209.4,214.2 210.0,215.9 210.6,214.2 211.2,207.6 211.8,215.0 212.4,216.5 213.0,217.1 213.6,214.8 214.2,209.5 214.8,212.5 215.4,215.9 216.0,211.3 216.6,215.4 217.2,213.4 217.8,215.7 218.4,217.0 219.0,213.7 219.6,222.9 220.2,215.6 220.8,216.1 221.4,212.6 222.0,214.2 222.6,212.7 223.2,209.8 223.8,209.8 224.4,214.6 225.0,213.6 225.6,207.5 226.2,209.0 226.8,213.4 227.4,214.2 228.0,216.1 228.6,211.5 229.2,216.5 229.8,214.2 230.4,213.1 231.0,214.0 231.6,217.4 232.2,216.7 232.8,217.2 233.4,213.3 234.0,214.8 234.6,212.6 235.2,214.9 235.8,215.5 236.4,215.3 237.0,218.8 237.6,218.0 238.2,218.6 238.8,217.4 239.4,220.3 240.0,217.5 240.6,219.8 241.2,218.3 241.8,218.6 242.4,217.1 243.0,214.2 243.6,213.5 244.2,222.1 244.8,218.0 245.4,218.2 246.0,217.3 246.6,217.1 247.2,225.8 247.8,215.1 248.4,217.9 249.0,218.0 249.6,215.5 250.2,214.6 250.8,215.7 251.4,216.0 252.0,215.9 252.6,219.5 253.2,214.5 253.8,219.3 254.4,221.9 255.0,221.6 255.6,217.0 256.2,212.6 256.8,222.9 257.4,221.7 258.0,218.7 258.6,223.3 259.2,219.6 259.8,220.7 260.4,217.1 261.0,221.0 261.6,218.7 262.2,220.0 262.8,225.1 263.4,223.1 264.0,218.4 264.6,224.5 265.2,225.4 265.8,221.4 266.4,222.9 267.0,223.3 267.6,222.4 268.2,223.4 268.8,225.1 269.4,222.7 270.0,230.2 270.6,222.9 271.2,223.2 271.8,230.1 272.4,231.5 273.0,226.0 273.6,226.2 274.2,223.8 274.8,229.2 275.4,227.6 276.0,225.8 276.6,229.5 277.2,232.4 277.8,230.1 278.4,233.7 279.0,230.8 279.6,229.9 280.2,227.9 280.8,229.1 281.4,231.3 282.0,230.3 282.6,231.4 283.2,230.1 283.8,231.5 284.4,232.6 285.0,229.5 285.6,227.0 286.2,234.5 286.8,231.3 287.4,229.0 288.0,230.0 288.6,229.5 289.2,225.7 289.8,230.2 290.4,226.9 291.0,231.2 291.6,230.9 292.2,234.7 292.8,231.4 293.4,232.7 294.0,231.5 294.6,230.7 295.2,228.2 295.8,235.0 296.4,232.7 297.0,230.3 297.6,233.8 298.2,232.0 298.8,230.9 299.4,233.4 300.0,236.0 300.6,231.8 301.2,229.8 301.8,232.7 302.4,238.2 303.0,232.5 303.6,238.4 304.2,235.6 304.8,238.9 305.4,237.4 306.0,233.0 306.6,235.3 307.2,242.2 307.8,236.0 308.4,237.6 309.0,235.3 309.6,236.1 310.2,237.0 310.8,238.1 311.4,243.3 312.0,238.0 312.6,237.4 313.2,236.5 313.8,234.9 314.4,233.5 315.0,240.0 315.6,233.3 316.2,242.4 316.8,241.2 317.4,238.5" fill="none" stroke="#1c1cc0" stroke-width="1"/>
<polyline points="167.4,244.2 168.0,248.0 168.6,243.2 169.2,237.0 169.8,240.7 170.4,237.9 171.0,239.7 171.6,243.4 172.2,242.8 172.8,240.8 173.4,244.6 174.0,243.1 174.6,246.7 175.2,245.5 175.8,246.5 176.4,243.9 177.0,246.0 177.6,244.0 178.2,243.6 178.8,242.4 179.4,244.3 180.0,238.2 180.6,250.2 181.2,241.7 181.8,243.5 182.4,241.3 183.0,241.2 183.6,243.6 184.2,241.5 184.8,242.2 185.4,239.8 186.0,240.8 186.6,240.7 187.2,248.6 187.8,240.3 188.4,240.4 189.0,243.7 189.6,246.8 190.2,238.9 190.8,238.9 191.4,243.1 192.0,244.0 192.6,239.6 193.2,238.9 193.8,240.9 194.4,245.0 195.0,242.9 195.6,245.1 196.2,243.3 196.8,243.3 197.4,245.0 198.0,242.7 198.6,243.6 199.2,240.7 199.8,241.2 200.4,243.9 201.0,242.1 201.6,241.2 202.2,245.6 202.8,245.3 203.4,243.4 204.0,241.6 204.6,245.7 205.2,250.6 205.8,241.4 206.4,239.3 207.0,240.9 207.6,240.4 208.2,240.8 208.8,240.9 209.4,246.3 210.0,246.6 210.6,248.2 211.2,246.3 211.8,243.6 212.4,248.1 213.0,243.5 213.6,244.6 214.2,242.5 214.8,248.6 215.4,248.3 216.0,244.4 216.6,244.6 217.2,245.7 217.8,246.0 218.4,247.2 219.0,245.1 219.6,246.2 220.2,241.6 220.8,244.9 221.4,240.6 222.0,249.6 222.6,248.6 223.2,247.7 223.8,248.8 224.4,251.1 225.0,248.0 225.6,241.7 226.2,245.2 226.8,239.9 227.4,243.4 228.0,242.2 228.6,245.6 229.2,246.1 229.8,242.6 230.4,243.8 231.0,245.2 231.6,243.9 232.2,244.0 232.8,238.3 233.4,243.8 234.0,247.2 234.6,246.1 235.2,241.9 235.8,245.4 236.4,247.1 237.0,244.6 237.6,248.8 238.2,244.6 238.8,245.8 239.4,247.1 240.0,253.0 240.6,246.7 241.2,245.9 241.8,248.9 242.4,245.8 243.0,247.6 243.6,241.7 244.2,247.9 244.8,247.0 245.4,243.0 246.0,250.6 246.6,246.6 247.2,247.2 247.8,244.5 248.4,243.4 249.0,246.4 249.6,244.4 250.2,250.5 250.8,250.9 251.4,247.5 252.0,245.0 252.6,248.1 253.2,247.2 253.8,250.2 254.4,250.5 255.0,248.5 255.6,249.5 256.2,252.6 256.8,254.6 257.4,249.4 258.0,251.7 258.6,249.6 259.2,247.7 259.8,254.5 260.4,253.0 261.0,251.6 261.6,251.8 262.2,249.9 262.8,248.1 263.4,255.7 264.0,253.2 264.6,251.6 265.2,253.3 265.8,254.6 266.4,251.3 267.0,253.9 267.6,251.9 268.2,254.0 268.8,252.0 269.4,259.5 270.0,252.3 270.6,254.6 271.2,254.0 271.8,252.4 272.4,255.6 273.0,253.3 273.6,253.0 274.2,254.3 274.8,252.9 275.4,258.6 276.0,257.6 276.6,258.3 277.2,252.4 277.8,256.8 278.4,253.9 279.0,256.0 279.6,259.1 280.2,256.3 280.8,255.5 281.4,259.0 282.0,258.6 282.6,260.8 283.2,251.2 283.8,256.3 284.4,254.6 285.0,253.2 285.6,255.3 286.2,251.8 286.8,249.9 287.4,253.7 288.0,256.2 288.6,262.5 289.2,255.8 289.8,255.4 290.4,254.1 291.0,258.9 291.6,258.8 292.2,260.0 292.8,255.3 293.4,257.3 294.0,253.7 294.6,260.5 295.2,256.5 295.8,253.8 296.4,264.8 297.0,263.5 297.6,264.6 298.2,265.3 298.8,262.7 299.4,268.1 300.0,262.4 300.6,270.4 301.2,266.0 301.8,260.9 302.4,266.9 303.0,269.8 303.6,263.4 304.2,267.2 304.8,263.9 305.4,262.1 306.0,257.3 306.6,267.7 307.2,263.4 307.8,265.2 308.4,261.3 309.0,261.7 309.6,266.7 310.2,264.2 310.8,264.5 311.4,261.9 312.0,265.7 312.6,267.8 313.2,265.5 313.8,266.8 314.4,265.2 315.0,271.4 315.6,266.1 316.2,267.2 316.8,273.4 317.4,268.7" fill="none" stroke="#ee3a30" stroke-width="1"/>
<polyline points="167.4,154.1 168.0,159.6 168.6,163.1 169.2,160.5 169.8,162.2 170.4,158.4 171.0,160.5 171.6,156.4 172.2,160.5 172.8,155.7 173.4,162.4 174.0,154.3 174.6,152.8 175.2,160.7 175.8,159.1 176.4,159.4 177.0,160.7 177.6,158.6 178.2,156.4 178.8,159.2 179.4,159.2 180.0,159.5 180.6,163.1 181.2,155.8 181.8,157.4 182.4,159.0 183.0,156.6 183.6,155.2 184.2,157.5 184.8,161.9 185.4,158.4 186.0,160.4 186.6,156.8 187.2,159.6 187.8,155.8 188.4,155.7 189.0,157.3 189.6,157.2 190.2,161.4 190.8,153.6 191.4,160.2 192.0,163.5 192.6,163.2 193.2,158.6 193.8,158.1 194.4,158.1 195.0,159.7 195.6,159.3 196.2,158.9 196.8,159.7 197.4,155.0 198.0,154.5 198.6,155.2 199.2,155.1 199.8,158.7 200.4,160.3 201.0,166.6 201.6,161.0 202.2,159.8 202.8,163.1 203.4,157.0 204.0,160.4 204.6,161.5 205.2,160.1 205.8,158.3 206.4,156.0 207.0,154.1 207.6,157.4 208.2,156.6 208.8,160.0 209.4,158.5 210.0,161.5 210.6,155.8 211.2,162.8 211.8,157.8 212.4,156.2 213.0,155.5 213.6,157.6 214.2,162.5 214.8,160.9 215.4,156.2 216.0,160.0 216.6,159.5 217.2,155.6 217.8,157.4 218.4,154.7 219.0,157.8 219.6,153.5 220.2,157.8 220.8,156.9 221.4,157.5 222.0,157.0 222.6,162.3 223.2,157.8 223.8,158.7 224.4,159.7 225.0,160.5 225.6,160.3 226.2,157.0 226.8,155.3 227.4,156.8 228.0,157.2 228.6,159.8 229.2,159.2 229.8,162.9 230.4,160.2 231.0,165.2 231.6,163.8 232.2,159.5 232.8,163.3 233.4,152.7 234.0,164.9 234.6,162.0 235.2,161.2 235.8,155.5 236.4,166.6 237.0,159.4 237.6,160.7 238.2,164.2 238.8,160.5 239.4,158.4 240.0,163.7 240.6,159.6 241.2,164.5 241.8,162.7 242.4,165.0 243.0,158.7 243.6,165.6 244.2,164.3 244.8,168.3 245.4,162.0 246.0,168.3 246.6,165.6 247.2,165.8 247.8,162.2 248.4,165.2 249.0,165.4 249.6,161.8 250.2,159.7 250.8,161.6 251.4,167.5 252.0,164.2 252.6,165.3 253.2,163.5 253.8,162.0 254.4,161.8 255.0,160.8 255.6,165.1 256.2,162.2 256.8,162.8 257.4,159.6 258.0,165.0 258.6,163.1 259.2,163.9 259.8,167.7 260.4,161.2 261.0,163.7 261.6,165.6 262.2,166.3 262.8,161.2 263.4,163.8 264.0,163.4 264.6,160.2 265.2,157.7 265.8,158.9 266.4,166.3 267.0,165.5 267.6,161.9 268.2,164.2 268.8,165.2 269.4,165.3 270.0,166.1 270.6,171.5 271.2,163.8 271.8,166.1 272.4,164.7 273.0,164.7 273.6,163.9 274.2,166.4 274.8,166.0 275.4,168.8 276.0,167.5 276.6,164.4 277.2,170.8 277.8,162.8 278.4,166.8 279.0,170.6 279.6,163.3 280.2,168.6 280.8,169.2 281.4,166.7 282.0,160.5 282.6,169.7 283.2,166.3 283.8,165.5 284.4,170.8 285.0,166.0 285.6,171.0 286.2,167.0 286.8,170.8 287.4,166.4 288.0,168.8 288.6,167.3 289.2,167.8 289.8,170.1 290.4,169.5 291.0,170.8 291.6,174.2 292.2,170.5 292.8,166.2 293.4,170.7 294.0,171.6 294.6,173.8 295.2,173.8 295.8,173.9 296.4,170.9 297.0,173.4 297.6,167.6 298.2,174.9 298.8,173.4 299.4,174.2 300.0,171.9 300.6,173.3 301.2,170.8 301.8,174.3 302.4,169.7 303.0,176.1 303.6,174.4 304.2,178.8 304.8,174.3 305.4,173.7 306.0,175.1 306.6,175.1 307.2,175.6 307.8,173.1 308.4,173.4 309.0,174.7 309.6,175.8 310.2,174.0 310.8,174.4 311.4,177.3 312.0,178.8 312.6,175.9 313.2,179.1 313.8,180.3 314.4,178.9 315.0,176.1 315.6,176.2 316.2,172.1 316.8,175.9 317.4,179.7" fill="none" stroke="#f04848" stroke-width="1"/>
<polyline points="167.4,160.2 168.0,159.8 168.6,152.4 169.2,157.8 169.8,153.0 170.4,156.3 171.0,157.1 171.6,157.3 172.2,160.2 172.8,156.8 173.4,163.3 174.0,160.1 174.6,161.5 175.2,160.0 175.8,159.8 176.4,156.9 177.0,161.5 177.6,154.4 178.2,158.7 178.8,158.5 179.4,157.9 180.0,159.8 180.6,157.8 181.2,162.1 181.8,162.4 182.4,159.7 183.0,161.3 183.6,156.0 184.2,154.0 184.8,157.3 185.4,158.0 186.0,164.8 186.6,158.0 187.2,161.8 187.8,161.2 188.4,164.4 189.0,158.9 189.6,160.4 190.2,157.7 190.8,156.7 191.4,155.5 192.0,155.8 192.6,162.2 193.2,159.7 193.8,158.6 194.4,158.6 195.0,157.7 195.6,159.7 196.2,160.7 196.8,162.4 197.4,162.4 198.0,155.8 198.6,161.3 199.2,164.4 199.8,158.6 200.4,159.7 201.0,160.0 201.6,163.0 202.2,161.8 202.8,159.4 203.4,160.4 204.0,161.5 204.6,159.3 205.2,162.7 205.8,159.8 206.4,155.7 207.0,156.7 207.6,158.6 208.2,158.8 208.8,161.2 209.4,161.1 210.0,165.4 210.6,162.8 211.2,164.3 211.8,157.7 212.4,158.5 213.0,161.1 213.6,159.3 214.2,160.0 214.8,159.3 215.4,157.0 216.0,162.6 216.6,161.2 217.2,154.1 217.8,156.8 218.4,159.0 219.0,160.8 219.6,158.5 220.2,155.0 220.8,161.8 221.4,159.9 222.0,164.1 222.6,162.0 223.2,163.4 223.8,163.2 224.4,162.8 225.0,159.4 225.6,163.0 226.2,160.3 226.8,156.5 227.4,158.4 228.0,158.3 228.6,160.4 229.2,161.7 229.8,157.0 230.4,162.3 231.0,160.0 231.6,157.1 232.2,162.2 232.8,158.7 233.4,157.6 234.0,162.5 234.6,163.3 235.2,159.2 235.8,164.1 236.4,164.4 237.0,160.0 237.6,166.3 238.2,161.4 238.8,162.4 239.4,155.0 240.0,162.3 240.6,158.8 241.2,161.9 241.8,156.1 242.4,163.2 243.0,164.6 243.6,165.6 244.2,153.1 244.8,162.6 245.4,162.6 246.0,153.8 246.6,160.6 247.2,162.4 247.8,166.0 248.4,160.0 249.0,163.4 249.6,162.9 250.2,163.7 250.8,162.0 251.4,165.4 252.0,166.0 252.6,159.6 253.2,166.0 253.8,160.9 254.4,161.8 255.0,165.7 255.6,163.1 256.2,165.1 256.8,166.1 257.4,165.8 258.0,163.5 258.6,162.7 259.2,167.9 259.8,167.7 260.4,166.8 261.0,164.7 261.6,167.4 262.2,165.1 262.8,161.6 263.4,165.7 264.0,165.2 264.6,166.1 265.2,161.4 265.8,162.0 266.4,163.8 267.0,161.7 267.6,162.2 268.2,165.0 268.8,164.3 269.4,168.2 270.0,163.9 270.6,167.8 271.2,166.8 271.8,171.4 272.4,165.1 273.0,165.2 273.6,168.5 274.2,164.3 274.8,165.0 275.4,167.0 276.0,167.3 276.6,162.4 277.2,166.7 277.8,165.1 278.4,166.4 279.0,167.9 279.6,167.1 280.2,170.5 280.8,169.4 281.4,168.2 282.0,169.4 282.6,172.4 283.2,171.8 283.8,172.9 284.4,169.8 285.0,169.9 285.6,174.9 286.2,169.3 286.8,173.0 287.4,170.4 288.0,166.9 288.6,163.6 289.2,168.6 289.8,165.2 290.4,165.5 291.0,163.2 291.6,171.7 292.2,169.2 292.8,169.3 293.4,170.5 294.0,170.6 294.6,171.1 295.2,172.7 295.8,170.4 296.4,165.0 297.0,173.6 297.6,172.9 298.2,171.8 298.8,175.8 299.4,168.0 300.0,163.9 300.6,175.9 301.2,172.8 301.8,167.9 302.4,171.6 303.0,174.7 303.6,169.8 304.2,174.6 304.8,178.8 305.4,176.8 306.0,173.6 306.6,174.3 307.2,171.0 307.8,174.3 308.4,173.3 309.0,171.7 309.6,170.6 310.2,179.0 310.8,174.7 311.4,172.2 312.0,173.5 312.6,178.2 313.2,178.9 313.8,173.6 314.4,175.5 315.0,177.1 315.6,173.5 316.2,170.9 316.8,172.3 317.4,174.2" fill="none" stroke="#f02424" stroke-width="1"/>
<polyline points="167.4,217.9 168.0,218.2 168.6,218.5 169.2,219.9 169.8,217.8 170.4,221.5 171.0,214.9 171.6,219.2 172.2,219.3 172.8,215.3 173.4,220.4 174.0,219.5 174.6,216.4 175.2,223.8 175.8,219.9 176.4,216.6 177.0,216.2 177.6,215.8 178.2,218.4 178.8,219.3 179.4,215.7 180.0,217.1 180.6,218.3 181.2,219.0 181.8,218.9 182.4,217.9 183.0,220.6 183.6,220.7 184.2,219.1 184.8,213.1 185.4,217.3 186.0,219.4 186.6,217.6 187.2,218.4 187.8,218.1 188.4,214.2 189.0,211.6 189.6,220.0 190.2,217.8 190.8,219.8 191.4,217.5 192.0,217.1 192.6,220.9 193.2,214.5 193.8,216.8 194.4,213.7 195.0,216.2 195.6,217.1 196.2,217.8 196.8,217.5 197.4,213.3 198.0,217.5 198.6,219.1 199.2,219.7 199.8,223.1 200.4,220.0 201.0,217.0 201.6,217.8 202.2,219.6 202.8,221.7 203.4,216.3 204.0,221.4 204.6,220.7 205.2,216.7 205.8,220.1 206.4,216.9 207.0,219.4 207.6,218.2 208.2,219.9 208.8,216.4 209.4,220.4 210.0,213.5 210.6,218.0 211.2,217.7 211.8,222.1 212.4,219.7 213.0,217.4 213.6,216.0 214.2,218.9 214.8,218.0 215.4,224.7 216.0,212.6 216.6,220.0 217.2,214.1 217.8,222.2 218.4,218.2 219.0,223.3 219.6,217.5 220.2,221.6 220.8,219.5 221.4,221.5 222.0,218.2 222.6,210.8 223.2,216.1 223.8,214.5 224.4,220.8 225.0,220.5 225.6,219.2 226.2,221.2 226.8,221.0 227.4,219.6 228.0,226.3 228.6,222.4 229.2,221.5 229.8,218.1 230.4,220.6 231.0,221.9 231.6,221.1 232.2,220.5 232.8,221.8 233.4,219.0 234.0,221.9 234.6,218.9 235.2,220.2 235.8,220.5 236.4,225.2 237.0,224.3 237.6,223.1 238.2,220.2 238.8,222.4 239.4,224.6 240.0,226.0 240.6,219.9 241.2,222.4 241.8,223.8 242.4,224.4 243.0,224.2 243.6,225.6 244.2,220.6 244.8,227.6 245.4,221.0 246.0,224.1 246.6,225.8 247.2,227.9 247.8,227.3 248.4,227.2 249.0,228.1 249.6,225.2 250.2,227.3 250.8,230.2 251.4,224.1 252.0,222.8 252.6,223.9 253.2,230.6 253.8,231.0 254.4,227.0 255.0,229.2 255.6,230.0 256.2,231.8 256.8,224.7 257.4,228.0 258.0,229.1 258.6,230.8 259.2,230.6 259.8,229.3 260.4,230.8 261.0,223.9 261.6,238.3 262.2,233.1 262.8,234.0 263.4,229.9 264.0,232.7 264.6,237.8 265.2,237.1 265.8,233.2 266.4,230.1 267.0,233.3 267.6,232.1 268.2,236.1 268.8,231.5 269.4,233.8 270.0,235.8 270.6,233.9 271.2,237.9 271.8,233.5 272.4,233.1 273.0,234.7 273.6,237.8 274.2,235.7 274.8,234.8 275.4,238.6 276.0,237.8 276.6,236.0 277.2,238.0 277.8,237.8 278.4,240.3 279.0,239.5 279.6,237.6 280.2,238.6 280.8,238.7 281.4,240.7 282.0,241.2 282.6,239.1 283.2,241.2 283.8,242.9 284.4,245.3 285.0,243.8 285.6,248.5 286.2,244.1 286.8,246.0 287.4,243.1 288.0,241.4 288.6,244.2 289.2,246.0 289.8,246.2 290.4,245.8 291.0,245.3 291.6,244.3 292.2,246.5 292.8,249.0 293.4,251.4 294.0,240.2 294.6,250.1 295.2,251.6 295.8,252.2 296.4,250.7 297.0,251.1 297.6,248.1 298.2,248.5 298.8,251.0 299.4,246.9 300.0,247.5 300.6,250.6 301.2,247.1 301.8,251.5 302.4,247.9 303.0,252.2 303.6,251.9 304.2,251.2 304.8,251.0 305.4,252.0 306.0,248.0 306.6,252.4 307.2,254.2 307.8,257.1 308.4,252.9 309.0,253.9 309.6,258.1 310.2,259.2 310.8,254.0 311.4,258.4 312.0,259.1 312.6,258.2 313.2,254.8 313.8,255.2 314.4,259.3 315.0,263.9 315.6,257.4 316.2,262.0 316.8,262.8 317.4,254.7" fill="none" stroke="#c83030" stroke-width="1"/>
<polyline points="167.4,237.2 168.0,233.9 168.6,234.1 169.2,238.8 169.8,238.4 170.4,235.4 171.0,234.8 171.6,233.4 172.2,235.8 172.8,232.0 173.4,233.9 174.0,232.0 174.6,231.0 175.2,233.3 175.8,233.3 176.4,232.2 177.0,234.2 177.6,234.7 178.2,233.4 178.8,233.5 179.4,234.6 180.0,236.3 180.6,237.6 181.2,235.0 181.8,233.1 182.4,234.4 183.0,239.2 183.6,236.4 184.2,232.2 184.8,234.3 185.4,232.5 186.0,233.7 186.6,230.5 187.2,234.3 187.8,231.1 188.4,233.2 189.0,237.9 189.6,237.0 190.2,232.6 190.8,232.1 191.4,232.2 192.0,229.6 192.6,232.1 193.2,234.0 193.8,232.3 194.4,236.5 195.0,234.2 195.6,232.7 196.2,237.9 196.8,235.5 197.4,234.2 198.0,238.9 198.6,238.1 199.2,233.0 199.8,236.1 200.4,234.1 201.0,232.4 201.6,240.6 202.2,238.2 202.8,231.4 203.4,235.6 204.0,230.8 204.6,237.1 205.2,234.6 205.8,234.2 206.4,237.5 207.0,234.9 207.6,234.0 208.2,236.5 208.8,233.3 209.4,236.3 210.0,234.4 210.6,235.8 211.2,235.5 211.8,236.2 212.4,231.3 213.0,238.6 213.6,233.5 214.2,238.1 214.8,231.9 215.4,233.7 216.0,234.5 216.6,239.0 217.2,235.8 217.8,238.1 218.4,233.7 219.0,237.1 219.6,239.3 220.2,238.1 220.8,232.7 221.4,237.7 222.0,233.7 222.6,241.2 223.2,235.3 223.8,241.5 224.4,236.6 225.0,236.0 225.6,234.6 226.2,235.9 226.8,237.3 227.4,231.6 228.0,239.5 228.6,233.6 229.2,236.4 229.8,230.0 230.4,237.8 231.0,238.7 231.6,237.1 232.2,237.3 232.8,236.0 233.4,237.8 234.0,240.7 234.6,237.7 235.2,240.1 235.8,241.0 236.4,239.3 237.0,239.7 237.6,238.8 238.2,236.8 238.8,244.3 239.4,236.8 240.0,242.6 240.6,240.6 241.2,232.4 241.8,239.4 242.4,242.6 243.0,242.4 243.6,237.8 244.2,241.2 244.8,236.9 245.4,237.5 246.0,239.6 246.6,240.3 247.2,243.2 247.8,239.9 248.4,241.6 249.0,235.2 249.6,235.5 250.2,237.7 250.8,243.8 251.4,236.4 252.0,235.5 252.6,239.5 253.2,242.9 253.8,236.2 254.4,240.3 255.0,236.6 255.6,244.1 256.2,242.1 256.8,241.4 257.4,240.8 258.0,240.6 258.6,242.0 259.2,240.1 259.8,240.1 260.4,239.5 261.0,242.7 261.6,241.0 262.2,245.4 262.8,238.2 263.4,244.8 264.0,244.8 264.6,246.4 265.2,242.8 265.8,239.9 266.4,241.3 267.0,246.5 267.6,243.3 268.2,243.4 268.8,243.4 269.4,245.6 270.0,245.7 270.6,242.3 271.2,244.8 271.8,249.9 272.4,250.9 273.0,246.9 273.6,246.1 274.2,251.3 274.8,247.0 275.4,245.1 276.0,248.2 276.6,250.6 277.2,253.2 277.8,248.4 278.4,251.6 279.0,249.6 279.6,253.9 280.2,251.5 280.8,251.6 281.4,248.4 282.0,249.6 282.6,249.8 283.2,240.7 283.8,252.0 284.4,249.5 285.0,248.8 285.6,248.9 286.2,249.7 286.8,250.7 287.4,246.8 288.0,251.2 288.6,250.7 289.2,251.5 289.8,248.4 290.4,252.2 291.0,249.7 291.6,254.6 292.2,257.7 292.8,257.2 293.4,255.1 294.0,254.7 294.6,254.4 295.2,255.9 295.8,253.8 296.4,254.0 297.0,249.7 297.6,253.2 298.2,253.8 298.8,254.3 299.4,259.2 300.0,253.5 300.6,253.7 301.2,258.9 301.8,254.8 302.4,257.7 303.0,258.7 303.6,259.2 304.2,257.6 304.8,262.4 305.4,264.3 306.0,258.2 306.6,260.2 307.2,263.3 307.8,260.3 308.4,257.3 309.0,259.0 309.6,262.1 310.2,257.6 310.8,261.6 311.4,261.6 312.0,259.6 312.6,263.1 313.2,264.6 313.8,265.1 314.4,265.6 315.0,259.5 315.6,265.7 316.2,266.2 316.8,267.2 317.4,262.8" fill="none" stroke="#a02c2c" stroke-width="1"/>
<polyline points="197.4,136.9 198.0,135.7 198.6,132.3 199.2,137.3 199.8,132.8 200.4,132.2 201.0,135.1 201.6,132.8 202.2,134.7 202.8,133.3 203.4,134.3 204.0,135.3 204.6,133.3 205.2,135.1 205.8,135.0 206.4,131.2 207.0,134.6 207.6,133.9 208.2,132.6 208.8,134.5 209.4,135.4 210.0,133.3 210.6,128.3 211.2,132.2 211.8,130.7 212.4,130.2 213.0,131.3 213.6,129.7 214.2,133.6 214.8,130.5 215.4,129.7 216.0,131.1 216.6,131.0 217.2,131.6 217.8,130.6 218.4,129.4 219.0,130.0 219.6,125.4 220.2,127.1 220.8,132.7 221.4,130.0 222.0,134.8 222.6,135.0 223.2,128.7 223.8,132.3 224.4,138.0 225.0,130.4 225.6,133.2 226.2,132.1 226.8,132.3 227.4,132.4 228.0,132.9 228.6,134.5 229.2,131.1 229.8,133.8 230.4,131.1 231.0,133.7 231.6,133.1 232.2,130.7 232.8,132.6 233.4,130.6 234.0,130.3 234.6,134.5 235.2,128.0 235.8,132.9 236.4,133.1 237.0,130.2 237.6,133.6 238.2,133.1 238.8,128.2 239.4,131.9 240.0,131.6 240.6,128.9 241.2,131.6 241.8,131.8 242.4,128.5 243.0,126.2 243.6,131.7 244.2,129.7 244.8,128.0 245.4,131.2 246.0,127.4 246.6,132.1 247.2,136.4 247.8,127.6 248.4,135.0 249.0,132.5 249.6,134.0 250.2,133.3 250.8,137.0 251.4,136.0 252.0,134.9 252.6,134.4 253.2,136.8 253.8,140.8 254.4,136.3 255.0,140.3 255.6,140.8 256.2,136.3 256.8,143.5 257.4,141.7 258.0,146.7 258.6,145.8 259.2,141.7 259.8,142.1 260.4,140.4 261.0,139.8 261.6,144.6 262.2,142.5" fill="none" stroke="#a82020" stroke-width="1.1"/>
<polyline points="226.2,139.2 226.8,138.5 227.4,139.2 228.0,138.6 228.6,135.5 229.2,133.9 229.8,133.4 230.4,136.5 231.0,126.8 231.6,128.0 232.2,130.7 232.8,129.2 233.4,130.7 234.0,131.9 234.6,134.3 235.2,129.3 235.8,133.4 236.4,132.5 237.0,136.1 237.6,135.7 238.2,138.5 238.8,136.2 239.4,139.4 240.0,139.1 240.6,140.8 241.2,141.6 241.8,141.5 242.4,147.3 243.0,146.7 243.6,148.8 244.2,144.8 244.8,143.1 245.4,146.4 246.0,147.9 246.6,150.3 247.2,151.3 247.8,152.0 248.4,153.0 249.0,151.6 249.6,150.6 250.2,149.1 250.8,152.5 251.4,150.6 252.0,150.6 252.6,154.2 253.2,154.1 253.8,156.1 254.4,153.3 255.0,158.0 255.6,156.9 256.2,156.4 256.8,155.8 257.4,155.7 258.0,155.5 258.6,161.9 259.2,156.2 259.8,161.0 260.4,159.5 261.0,159.2 261.6,159.8 262.2,161.0 262.8,163.6 263.4,163.3 264.0,162.6 264.6,160.1 265.2,159.7 265.8,168.1 266.4,162.4 267.0,161.7 267.6,168.0 268.2,162.8 268.8,172.2 269.4,177.1" fill="none" stroke="#2a8a2a" stroke-width="1.15"/>
<polyline points="221.4,142.5 222.0,145.3 222.6,139.7 223.2,141.0 223.8,144.7 224.4,146.1 225.0,146.6 225.6,148.8 226.2,146.2 226.8,143.1 227.4,150.8 228.0,149.8 228.6,152.2 229.2,155.2 229.8,149.2 230.4,150.1 231.0,145.6 231.6,150.0 232.2,148.0 232.8,147.2 233.4,148.6 234.0,142.8 234.6,147.2 235.2,146.7 235.8,149.6 236.4,140.1 237.0,144.6 237.6,150.7 238.2,143.3 238.8,143.1 239.4,149.0 240.0,151.2 240.6,145.0 241.2,143.0 241.8,143.6 242.4,144.5 243.0,143.5 243.6,143.9 244.2,146.9 244.8,146.9 245.4,148.4 246.0,147.6 246.6,144.7 247.2,150.5 247.8,149.6 248.4,147.8 249.0,150.8 249.6,154.5 250.2,156.0 250.8,157.6 251.4,162.2 252.0,167.7 252.6,168.7 253.2,174.3 253.8,171.6 254.4,174.4 255.0,176.4 255.6,177.7 256.2,176.0 256.8,175.6 257.4,174.1 258.0,176.6 258.6,173.1 259.2,176.4 259.8,176.1 260.4,173.6 261.0,177.0 261.6,175.5 262.2,177.7 262.8,174.7 263.4,177.4 264.0,180.7 264.6,177.3 265.2,179.4 265.8,175.9 266.4,177.1 267.0,174.7 267.6,181.4 268.2,180.6 268.8,185.9 269.4,181.8" fill="none" stroke="#2a2a2a" stroke-width="1.5"/>
<text transform="translate(320 53.3) scale(0.96 1.14)" font-size="7.8" fill="#3a3af0">2</text>
<text transform="translate(318 102.3) scale(0.96 1.14)" font-size="7.8" fill="#62aaf4">8</text>
<text transform="translate(318 116.3) scale(0.96 1.14)" font-size="7.8" fill="#4ed0f4">9</text>
<text transform="translate(320 129.0) scale(0.96 1.14)" font-size="7.8" fill="#1c1cd8">4</text>
<text transform="translate(266 146.8) scale(0.96 1.14)" font-size="7.8" fill="#a82020">28</text>
<text transform="translate(318 167.0) scale(0.96 1.14)" font-size="7.8" fill="#5eec80">14</text>
<text transform="translate(318 174.2) scale(0.96 1.14)" font-size="7.8" fill="#5ee4f2">10</text>
<text transform="translate(318 182.0) scale(0.96 1.14)" font-size="7.8" fill="#f04848">24</text>
<text transform="translate(325.6 178.6) scale(0.96 1.14)" font-size="7.8" fill="#f02424">25</text>
<text transform="translate(272.5 182.0) scale(0.96 1.14)" font-size="7.8" fill="#2a8a2a">29</text>
<text transform="translate(272 192.7) scale(0.96 1.14)" font-size="7.8" fill="#2a2a2a">30</text>
<text transform="translate(318 205.7) scale(0.96 1.14)" font-size="7.8" fill="#e8b430">19</text>
<text transform="translate(320 212.0) scale(0.96 1.14)" font-size="7.8" fill="#3c3cf0">5</text>
<text transform="translate(318 225.6) scale(0.96 1.14)" font-size="7.8" fill="#f07434">21</text>
<text transform="translate(318 230.7) scale(0.96 1.14)" font-size="7.8" fill="#f09838">20</text>
<text transform="translate(318 237.4) scale(0.96 1.14)" font-size="7.8" fill="#f04422">22</text>
<text transform="translate(321.6 243.2) scale(0.96 1.14)" font-size="7.8" fill="#1c1cc0">1</text>
<text transform="translate(327.7 245.3) scale(0.96 1.14)" font-size="7.8" fill="#2020e8">3</text>
<text transform="translate(333 243.8) scale(0.96 1.14)" font-size="7.8" fill="#ecd848">18</text>
<text transform="translate(318 251.2) scale(0.96 1.14)" font-size="7.8" fill="#50ea98">13</text>
<text transform="translate(320.6 256.7) scale(0.96 1.14)" font-size="7.8" fill="#2a40e8">6</text>
<text transform="translate(318 261.3) scale(0.96 1.14)" font-size="7.8" fill="#a8ee50">15</text>
<text transform="translate(326 261.0) scale(0.96 1.14)" font-size="7.8" fill="#ccee40">16</text>
<text transform="translate(333 261.0) scale(0.96 1.14)" font-size="7.8" fill="#ecec50">17</text>
<text transform="translate(339 262.0) scale(0.96 1.14)" font-size="7.8" fill="#c83030">26</text>
<text transform="translate(318 268.4) scale(0.96 1.14)" font-size="7.8" fill="#a02c2c">27</text>
<text transform="translate(324.6 271.5) scale(0.96 1.14)" font-size="7.8" fill="#ee3a30">23</text>
<text transform="translate(318 279.6) scale(0.96 1.14)" font-size="7.8" fill="#5eecc8">12</text>
<text transform="translate(327.7 283.6) scale(0.96 1.14)" font-size="7.8" fill="#3c84f4">7</text>
<text transform="translate(318 286.7) scale(0.96 1.14)" font-size="7.8" fill="#78f0f0">11</text>
<rect x="42.0" y="19.5" width="122.4" height="288.9" fill="#fff" stroke="#444444" stroke-width="1"/>
<path d="M42.0 1.3V19.5" stroke="#444444" stroke-width="1"/>
<text transform="translate(49.6 15.6) scale(0.94 1)" font-size="16.4" fill="#111">a)</text>
<path d="M48.5 28.7H63.3" stroke="#2a2ab8" stroke-width="1"/>
<text transform="translate(70.2 31.7) scale(1 1.12)" font-size="7.75" fill="#333">CanESM5 (1)</text>
<path d="M48.5 38.0H63.3" stroke="#6464ee" stroke-width="1"/>
<text transform="translate(70.2 41.0) scale(1 1.12)" font-size="7.75" fill="#333">MIROC-ES2L (2)</text>
<path d="M48.5 47.3H63.3" stroke="#2b2be6" stroke-width="1"/>
<text transform="translate(70.2 50.3) scale(1 1.12)" font-size="7.75" fill="#333">FGOALS-g3 (3)</text>
<path d="M48.5 56.7H63.3" stroke="#2424dc" stroke-width="1"/>
<text transform="translate(70.2 59.7) scale(1 1.12)" font-size="7.75" fill="#333">KIOST-ESM (4)</text>
<path d="M48.5 66.0H63.3" stroke="#6666f0" stroke-width="1"/>
<text transform="translate(70.2 69.0) scale(1 1.12)" font-size="7.75" fill="#333">NorESM2-LM (5)</text>
<path d="M48.5 75.3H63.3" stroke="#4466f0" stroke-width="1"/>
<text transform="translate(70.2 78.3) scale(1 1.12)" font-size="7.75" fill="#333">MPI-ESM1-2-LR (6)</text>
<path d="M48.5 84.7H63.3" stroke="#4488f0" stroke-width="1"/>
<text transform="translate(70.2 87.7) scale(1 1.12)" font-size="7.75" fill="#333">NESM3 (7)</text>
<path d="M48.5 94.0H63.3" stroke="#77b4f2" stroke-width="1"/>
<text transform="translate(70.2 97.0) scale(1 1.12)" font-size="7.75" fill="#333">INM-CM4-8 (8)</text>
<path d="M48.5 103.3H63.3" stroke="#5fd2f2" stroke-width="1"/>
<text transform="translate(70.2 106.3) scale(1 1.12)" font-size="7.75" fill="#333">INM-CM5-0 (9)</text>
<path d="M48.5 112.6H63.3" stroke="#6ee6f0" stroke-width="1"/>
<text transform="translate(70.2 115.6) scale(1 1.12)" font-size="7.75" fill="#333">MIROC6 (10)</text>
<path d="M48.5 122.0H63.3" stroke="#86f2f2" stroke-width="1"/>
<text transform="translate(70.2 125.0) scale(1 1.12)" font-size="7.75" fill="#333">CNRM-CM6-1 (11)</text>
<path d="M48.5 131.3H63.3" stroke="#6ff0d2" stroke-width="1"/>
<text transform="translate(70.2 134.3) scale(1 1.12)" font-size="7.75" fill="#333">CNRM-ESM2-1 (12)</text>
<path d="M48.5 140.6H63.3" stroke="#60eea0" stroke-width="1"/>
<text transform="translate(70.2 143.6) scale(1 1.12)" font-size="7.75" fill="#333">ACCESS-CM2 (13)</text>
<path d="M48.5 150.0H63.3" stroke="#6ef08e" stroke-width="1"/>
<text transform="translate(70.2 153.0) scale(1 1.12)" font-size="7.75" fill="#333">ACCESS-ESM1-5 (14)</text>
<path d="M48.5 159.3H63.3" stroke="#b0f060" stroke-width="1"/>
<text transform="translate(70.2 162.3) scale(1 1.12)" font-size="7.75" fill="#333">HadGEM3-GC31-LL (15)</text>
<path d="M48.5 168.6H63.3" stroke="#d2f050" stroke-width="1"/>
<text transform="translate(70.2 171.6) scale(1 1.12)" font-size="7.75" fill="#333">KACE-1-0-G (16)</text>
<path d="M48.5 177.9H63.3" stroke="#eeee60" stroke-width="1"/>
<text transform="translate(70.2 180.9) scale(1 1.12)" font-size="7.75" fill="#333">UKESM1-0-LL (17)</text>
<path d="M48.5 187.3H63.3" stroke="#eedd55" stroke-width="1"/>
<text transform="translate(70.2 190.3) scale(1 1.12)" font-size="7.75" fill="#333">MRI-ESM2-0 (18)</text>
<path d="M48.5 196.6H63.3" stroke="#eebb33" stroke-width="1"/>
<text transform="translate(70.2 199.6) scale(1 1.12)" font-size="7.75" fill="#333">BCC-CSM2-MR (19)</text>
<path d="M48.5 205.9H63.3" stroke="#f0a050" stroke-width="1"/>
<text transform="translate(70.2 208.9) scale(1 1.12)" font-size="7.75" fill="#333">GFDL-CM4 (20)</text>
<path d="M48.5 215.2H63.3" stroke="#f08a5a" stroke-width="1"/>
<text transform="translate(70.2 218.2) scale(1 1.12)" font-size="7.75" fill="#333">GFDL-ESM4 (21)</text>
<path d="M48.5 224.6H63.3" stroke="#f05030" stroke-width="1"/>
<text transform="translate(70.2 227.6) scale(1 1.12)" font-size="7.75" fill="#333">NorESM2-MM (22)</text>
<path d="M48.5 233.9H63.3" stroke="#f04a3c" stroke-width="1"/>
<text transform="translate(70.2 236.9) scale(1 1.12)" font-size="7.75" fill="#333">MPI-ESM1-2-HR (23)</text>
<path d="M48.5 243.2H63.3" stroke="#f26060" stroke-width="1"/>
<text transform="translate(70.2 246.2) scale(1 1.12)" font-size="7.75" fill="#333">EC-Earth3 (24)</text>
<path d="M48.5 252.6H63.3" stroke="#f03030" stroke-width="1"/>
<text transform="translate(70.2 255.6) scale(1 1.12)" font-size="7.75" fill="#333">EC-Earth3-Veg (25)</text>
<path d="M48.5 261.9H63.3" stroke="#dd4040" stroke-width="1"/>
<text transform="translate(70.2 264.9) scale(1 1.12)" font-size="7.75" fill="#333">HadGEM3-GC31-MM (26)</text>
<path d="M48.5 271.2H63.3" stroke="#c06060" stroke-width="1"/>
<text transform="translate(70.2 274.2) scale(1 1.12)" font-size="7.75" fill="#333">CNRM-CM6-1-HR (27)</text>
<path d="M48.5 280.5H63.3" stroke="#b02222" stroke-width="1"/>
<text transform="translate(70.2 283.5) scale(1 1.12)" font-size="7.75" fill="#333">ERA-20C (28)</text>
<path d="M48.5 289.9H63.3" stroke="#33a033" stroke-width="1"/>
<text transform="translate(70.2 292.9) scale(1 1.12)" font-size="7.75" fill="#333">NCEP1 (29)</text>
<path d="M48.5 299.2H63.3" stroke="#555555" stroke-width="2"/>
<text transform="translate(70.2 302.2) scale(1 1.12)" font-size="7.75" fill="#333">ERA5 (30)</text>
<path d="M42.0 1.3H352.3V308.45H164.4" fill="none" stroke="#444444" stroke-width="1"/>
<text transform="translate(31.1 33.4) rotate(-90)" text-anchor="middle" font-size="12.4" fill="#222">55</text>
<text transform="translate(31.1 86.0) rotate(-90)" text-anchor="middle" font-size="12.4" fill="#222">50</text>
<text transform="translate(31.1 138.6) rotate(-90)" text-anchor="middle" font-size="12.4" fill="#222">45</text>
<text transform="translate(31.1 191.2) rotate(-90)" text-anchor="middle" font-size="12.4" fill="#222">40</text>
<text transform="translate(31.1 243.8) rotate(-90)" text-anchor="middle" font-size="12.4" fill="#222">35</text>
<text transform="translate(31.1 296.4) rotate(-90)" text-anchor="middle" font-size="12.4" fill="#222">30</text>
<text transform="translate(167.4 325.2) scale(1 1.15)" text-anchor="middle" font-size="9.7" fill="#222">1850</text>
<text transform="translate(197.4 325.2) scale(1 1.15)" text-anchor="middle" font-size="9.7" fill="#222">1900</text>
<text transform="translate(227.4 325.2) scale(1 1.15)" text-anchor="middle" font-size="9.7" fill="#222">1950</text>
<text transform="translate(257.4 325.2) scale(1 1.15)" text-anchor="middle" font-size="9.7" fill="#222">2000</text>
<text transform="translate(287.4 325.2) scale(1 1.15)" text-anchor="middle" font-size="9.7" fill="#222">2050</text>
<text transform="translate(317.4 325.2) scale(1 1.15)" text-anchor="middle" font-size="9.7" fill="#222">2100</text>
<text transform="translate(12.4 154.2) rotate(-90)" text-anchor="middle" font-size="15.6" fill="#111">Precipitation area [%]</text>
<text transform="translate(197.6 343.6) scale(1 1.11)" text-anchor="middle" font-size="15.2" fill="#111">Year</text>
<polyline points="413.7,85.1 414.6,85.6 415.6,84.4 416.5,83.9 417.4,85.0 418.3,85.4 419.2,84.6 420.1,84.7 421.0,84.8 421.9,86.5 422.8,86.2 423.7,87.2 424.7,87.1 425.6,86.7 426.5,87.1 427.4,87.4 428.3,87.6 429.2,88.3 430.1,87.4 431.0,88.0 431.9,87.9 432.9,87.2 433.8,87.0 434.7,86.6 435.6,86.7 436.5,86.1 437.4,86.1 438.3,86.9 439.2,87.7 440.1,87.9 441.0,87.9 442.0,87.7 442.9,88.4 443.8,88.3 444.7,89.2 445.6,89.9 446.5,90.8 447.4,90.9 448.3,91.1 449.2,91.1 450.2,91.0 451.1,90.9 452.0,90.2 452.9,89.5 453.8,90.1 454.7,91.4 455.6,91.3 456.5,92.1 457.4,91.1 458.3,91.2 459.3,91.3 460.2,91.7 461.1,91.4 462.0,92.6 462.9,92.9 463.8,93.5 464.7,93.2 465.6,93.4 466.5,93.3 467.5,93.4 468.4,92.7 469.3,93.2 470.2,94.1 471.1,94.9 472.0,95.3 472.9,95.6 473.8,96.0 474.7,96.6 475.6,95.7 476.6,95.4 477.5,95.0 478.4,95.5 479.3,96.3 480.2,96.1 481.1,96.5 482.0,97.3 482.9,97.5 483.8,99.6 484.8,100.3 485.7,100.6 486.6,101.2 487.5,101.7 488.4,102.3 489.3,103.2 490.2,102.3 491.1,102.2 492.0,102.2 493.0,102.2 493.9,103.2 494.8,104.1 495.7,103.9 496.6,104.1 497.5,104.2 498.4,104.5 499.3,105.3 500.2,104.4 501.1,104.1 502.1,105.0 503.0,106.3 503.9,106.2 504.8,107.1 505.7,107.4 506.6,108.2 507.5,108.9 508.4,109.2 509.3,109.8 510.3,111.6 511.2,112.0 512.1,112.8 513.0,114.6 513.9,116.2 514.8,117.3 515.7,117.5 516.6,118.3 517.5,119.8 518.4,120.5 519.4,121.1 520.3,120.9 521.2,121.9 522.1,122.5 523.0,122.7 523.9,122.6 524.8,123.6 525.7,124.0 526.6,124.4 527.6,124.6 528.5,125.9 529.4,126.5 530.3,128.2 531.2,128.5 532.1,129.8 533.0,130.6 533.9,131.7 534.8,132.8 535.7,133.7 536.7,134.0 537.6,135.0 538.5,135.6 539.4,136.6 540.3,137.6 541.2,138.5 542.1,139.0 543.0,139.7 543.9,140.5 544.9,141.1 545.8,141.8 546.7,142.2 547.6,142.3 548.5,142.8 549.4,143.6 550.3,144.3 551.2,145.1 552.1,145.3 553.1,146.3 554.0,147.5 554.9,147.9 555.8,148.4 556.7,148.6 557.6,149.6 558.5,151.6 559.4,152.3 560.3,152.9 561.2,154.1 562.2,155.4 563.1,156.5 564.0,158.0 564.9,158.1 565.8,159.1 566.7,159.5 567.6,159.4 568.5,159.5 569.4,160.4 570.4,161.8 571.3,162.8 572.2,163.6 573.1,166.1 574.0,167.5 574.9,169.3 575.8,170.3 576.7,170.1 577.6,171.2 578.5,172.4 579.5,172.3 580.4,172.9 581.3,173.0 582.2,174.3 583.1,176.9 584.0,178.0 584.9,179.6 585.8,180.4 586.7,182.5 587.7,184.9 588.6,186.0 589.5,185.6 590.4,186.8 591.3,187.0 592.2,189.1 593.1,189.1 594.0,189.2 594.9,189.2 595.8,190.8 596.8,191.3 597.7,192.8 598.6,193.7 599.5,195.2 600.4,196.2 601.3,197.3 602.2,198.1 603.1,199.5 604.0,200.1 605.0,200.8 605.9,201.6 606.8,202.6 607.7,203.5 608.6,203.7 609.5,204.6 610.4,205.8 611.3,206.3 612.2,208.2 613.2,208.7 614.1,210.5" fill="none" stroke="#5eec80" stroke-width="0.9"/>
<polyline points="413.7,84.8 414.6,85.4 415.6,85.4 416.5,85.1 417.4,85.3 418.3,86.2 419.2,87.6 420.1,87.3 421.0,87.0 421.9,86.9 422.8,86.6 423.7,86.1 424.7,86.5 425.6,86.0 426.5,86.4 427.4,86.2 428.3,86.6 429.2,87.1 430.1,88.5 431.0,87.9 431.9,87.5 432.9,87.7 433.8,87.3 434.7,86.9 435.6,87.5 436.5,87.7 437.4,88.3 438.3,88.9 439.2,88.6 440.1,88.8 441.0,89.2 442.0,88.9 442.9,88.0 443.8,87.7 444.7,88.5 445.6,89.5 446.5,90.2 447.4,90.3 448.3,91.0 449.2,91.6 450.2,92.1 451.1,90.8 452.0,89.8 452.9,89.1 453.8,88.1 454.7,87.8 455.6,87.9 456.5,87.6 457.4,88.8 458.3,89.9 459.3,91.0 460.2,91.6 461.1,92.5 462.0,93.2 462.9,93.5 463.8,94.4 464.7,94.5 465.6,94.4 466.5,95.2 467.5,93.9 468.4,93.4 469.3,93.2 470.2,93.1 471.1,93.5 472.0,93.5 472.9,94.2 473.8,94.5 474.7,95.0 475.6,96.3 476.6,96.1 477.5,95.7 478.4,96.6 479.3,96.6 480.2,97.7 481.1,98.7 482.0,99.6 482.9,100.6 483.8,101.1 484.8,101.2 485.7,101.6 486.6,102.2 487.5,100.9 488.4,100.2 489.3,100.7 490.2,100.8 491.1,101.2 492.0,101.3 493.0,101.7 493.9,103.0 494.8,103.6 495.7,102.5 496.6,103.8 497.5,104.6 498.4,105.0 499.3,105.3 500.2,106.1 501.1,106.1 502.1,106.6 503.0,106.3 503.9,106.4 504.8,105.8 505.7,106.0 506.6,106.7 507.5,107.8 508.4,109.5 509.3,109.2 510.3,110.1 511.2,112.7 512.1,114.3 513.0,114.1 513.9,114.5 514.8,114.8 515.7,116.2 516.6,116.7 517.5,116.0 518.4,116.0 519.4,116.9 520.3,118.7 521.2,119.3 522.1,120.3 523.0,121.1 523.9,122.0 524.8,122.8 525.7,123.4 526.6,123.6 527.6,124.7 528.5,124.9 529.4,125.9 530.3,127.6 531.2,128.0 532.1,129.5 533.0,130.0 533.9,131.3 534.8,132.7 535.7,133.6 536.7,134.3 537.6,135.4 538.5,135.9 539.4,136.7 540.3,137.5 541.2,138.5 542.1,139.2 543.0,140.0 543.9,140.9 544.9,141.9 545.8,143.1 546.7,144.6 547.6,145.7 548.5,147.2 549.4,148.2 550.3,149.3 551.2,151.3 552.1,152.0 553.1,152.7 554.0,153.6 554.9,155.1 555.8,156.3 556.7,158.5 557.6,157.9 558.5,159.4 559.4,161.1 560.3,162.9 561.2,164.5 562.2,165.9 563.1,166.0 564.0,169.2 564.9,171.6 565.8,172.1 566.7,173.6 567.6,174.6 568.5,175.8 569.4,177.5 570.4,178.7 571.3,179.4 572.2,182.0 573.1,182.6 574.0,184.1 574.9,185.7 575.8,187.4 576.7,188.5 577.6,190.1 578.5,192.1 579.5,194.3 580.4,196.0 581.3,197.2 582.2,198.9 583.1,200.8 584.0,202.0 584.9,203.1 585.8,203.3 586.7,204.6 587.7,206.6 588.6,206.9 589.5,208.6 590.4,210.1 591.3,211.9 592.2,214.7 593.1,216.5 594.0,218.3 594.9,220.8 595.8,222.4 596.8,224.7 597.7,225.1 598.6,226.9 599.5,228.0 600.4,229.1 601.3,231.4 602.2,233.3 603.1,234.1 604.0,236.2 605.0,238.2 605.9,239.9 606.8,241.9 607.7,242.0 608.6,243.2 609.5,245.8 610.4,247.8 611.3,249.0 612.2,251.8 613.2,254.0 614.1,257.2" fill="none" stroke="#a8ee50" stroke-width="0.9"/>
<polyline points="413.7,85.5 414.6,84.7 415.6,85.1 416.5,84.2 417.4,86.1 418.3,85.2 419.2,85.2 420.1,84.7 421.0,85.1 421.9,85.9 422.8,87.2 423.7,86.6 424.7,86.4 425.6,86.6 426.5,87.8 427.4,88.2 428.3,88.3 429.2,88.4 430.1,87.8 431.0,88.5 431.9,88.3 432.9,87.6 433.8,87.9 434.7,87.1 435.6,87.0 436.5,87.9 437.4,88.3 438.3,88.4 439.2,89.0 440.1,89.1 441.0,89.9 442.0,90.0 442.9,90.0 443.8,89.8 444.7,90.1 445.6,90.8 446.5,90.8 447.4,90.8 448.3,91.4 449.2,92.3 450.2,92.1 451.1,92.1 452.0,91.4 452.9,91.6 453.8,91.4 454.7,91.8 455.6,91.4 456.5,91.6 457.4,91.5 458.3,91.4 459.3,91.5 460.2,91.8 461.1,91.5 462.0,91.2 462.9,91.4 463.8,92.4 464.7,94.1 465.6,93.3 466.5,93.7 467.5,94.3 468.4,94.3 469.3,94.6 470.2,94.6 471.1,94.8 472.0,96.6 472.9,97.1 473.8,97.3 474.7,97.9 475.6,98.3 476.6,98.0 477.5,96.8 478.4,96.4 479.3,97.3 480.2,97.9 481.1,97.6 482.0,97.9 482.9,98.5 483.8,99.7 484.8,99.7 485.7,100.1 486.6,100.0 487.5,101.4 488.4,102.3 489.3,102.1 490.2,102.2 491.1,103.8 492.0,103.8 493.0,104.7 493.9,105.1 494.8,104.9 495.7,106.3 496.6,107.3 497.5,107.6 498.4,108.7 499.3,108.2 500.2,108.8 501.1,108.9 502.1,109.2 503.0,109.1 503.9,109.3 504.8,109.2 505.7,110.8 506.6,110.7 507.5,112.2 508.4,113.0 509.3,113.6 510.3,113.3 511.2,114.0 512.1,114.2 513.0,115.4 513.9,115.6 514.8,115.9 515.7,116.7 516.6,118.0 517.5,118.7 518.4,120.1 519.4,120.1 520.3,121.7 521.2,121.1 522.1,122.1 523.0,122.2 523.9,123.5 524.8,123.0 525.7,124.5 526.6,123.8 527.6,125.4 528.5,126.1 529.4,127.6 530.3,127.4 531.2,129.3 532.1,129.6 533.0,131.2 533.9,131.9 534.8,132.3 535.7,133.0 536.7,133.8 537.6,134.5 538.5,135.3 539.4,136.3 540.3,137.4 541.2,138.5 542.1,138.9 543.0,139.6 543.9,140.1 544.9,141.2 545.8,142.0 546.7,143.0 547.6,144.3 548.5,145.2 549.4,146.4 550.3,147.5 551.2,148.4 552.1,149.5 553.1,150.2 554.0,150.0 554.9,150.4 555.8,150.6 556.7,152.0 557.6,152.7 558.5,153.3 559.4,154.8 560.3,156.9 561.2,159.1 562.2,160.3 563.1,161.3 564.0,162.8 564.9,163.5 565.8,164.4 566.7,164.8 567.6,165.1 568.5,166.7 569.4,166.7 570.4,167.1 571.3,168.3 572.2,169.3 573.1,170.5 574.0,171.9 574.9,172.4 575.8,174.1 576.7,175.9 577.6,177.5 578.5,178.7 579.5,180.2 580.4,181.6 581.3,183.8 582.2,185.0 583.1,185.5 584.0,186.1 584.9,187.9 585.8,188.7 586.7,188.8 587.7,189.5 588.6,191.3 589.5,192.3 590.4,193.9 591.3,193.6 592.2,194.9 593.1,197.4 594.0,198.6 594.9,199.2 595.8,201.0 596.8,202.4 597.7,204.2 598.6,205.2 599.5,205.1 600.4,207.2 601.3,208.2 602.2,209.9 603.1,210.7 604.0,212.5 605.0,214.6 605.9,216.3 606.8,217.5 607.7,218.7 608.6,219.3 609.5,220.4 610.4,220.7 611.3,221.5 612.2,222.4 613.2,222.6 614.1,225.0" fill="none" stroke="#ccee40" stroke-width="0.9"/>
<polyline points="413.7,85.7 414.6,87.4 415.6,87.4 416.5,87.2 417.4,86.8 418.3,86.7 419.2,86.5 420.1,86.1 421.0,84.5 421.9,85.0 422.8,85.3 423.7,85.2 424.7,84.8 425.6,85.6 426.5,86.3 427.4,87.8 428.3,87.8 429.2,88.3 430.1,88.5 431.0,89.2 431.9,88.6 432.9,88.4 433.8,86.8 434.7,87.1 435.6,87.5 436.5,86.8 437.4,86.8 438.3,87.3 439.2,88.1 440.1,89.1 441.0,89.6 442.0,90.2 442.9,91.9 443.8,92.0 444.7,91.6 445.6,91.7 446.5,92.0 447.4,91.7 448.3,90.9 449.2,90.7 450.2,91.0 451.1,91.3 452.0,90.9 452.9,90.3 453.8,91.6 454.7,92.4 455.6,93.1 456.5,93.4 457.4,93.8 458.3,94.3 459.3,95.6 460.2,94.2 461.1,94.0 462.0,93.1 462.9,93.3 463.8,93.2 464.7,94.0 465.6,94.1 466.5,95.1 467.5,95.8 468.4,96.5 469.3,96.5 470.2,97.0 471.1,96.3 472.0,96.3 472.9,97.0 473.8,96.6 474.7,96.9 475.6,97.9 476.6,98.4 477.5,99.3 478.4,99.7 479.3,99.0 480.2,98.9 481.1,98.5 482.0,98.8 482.9,99.2 483.8,98.9 484.8,98.8 485.7,99.9 486.6,100.7 487.5,101.9 488.4,101.4 489.3,101.1 490.2,102.4 491.1,102.8 492.0,103.0 493.0,104.0 493.9,103.5 494.8,104.6 495.7,105.5 496.6,105.2 497.5,106.2 498.4,106.1 499.3,104.9 500.2,107.1 501.1,107.1 502.1,107.9 503.0,109.0 503.9,109.5 504.8,110.7 505.7,112.5 506.6,112.9 507.5,113.8 508.4,114.5 509.3,114.4 510.3,114.6 511.2,115.0 512.1,115.4 513.0,115.5 513.9,116.8 514.8,117.2 515.7,118.0 516.6,119.7 517.5,120.4 518.4,121.0 519.4,121.7 520.3,121.3 521.2,121.1 522.1,121.8 523.0,121.5 523.9,121.7 524.8,122.3 525.7,122.7 526.6,123.3 527.6,123.8 528.5,124.5 529.4,126.3 530.3,127.7 531.2,128.9 532.1,129.7 533.0,131.0 533.9,132.0 534.8,132.7 535.7,133.3 536.7,133.8 537.6,134.5 538.5,135.5 539.4,136.5 540.3,137.5 541.2,138.5 542.1,139.2 543.0,140.0 543.9,140.7 544.9,141.4 545.8,142.2 546.7,143.3 547.6,144.2 548.5,145.9 549.4,147.3 550.3,148.8 551.2,150.3 552.1,151.0 553.1,152.7 554.0,153.5 554.9,153.8 555.8,155.1 556.7,156.5 557.6,157.8 558.5,158.1 559.4,158.7 560.3,159.3 561.2,160.2 562.2,161.7 563.1,163.5 564.0,164.8 564.9,167.0 565.8,169.2 566.7,171.7 567.6,173.6 568.5,174.0 569.4,174.9 570.4,175.7 571.3,176.8 572.2,176.9 573.1,178.4 574.0,179.5 574.9,181.0 575.8,182.3 576.7,182.8 577.6,183.9 578.5,185.7 579.5,186.9 580.4,186.6 581.3,186.9 582.2,188.6 583.1,190.8 584.0,192.4 584.9,193.4 585.8,194.8 586.7,196.7 587.7,198.9 588.6,200.7 589.5,202.7 590.4,203.8 591.3,205.6 592.2,206.9 593.1,208.8 594.0,210.8 594.9,212.1 595.8,213.3 596.8,215.6 597.7,216.3 598.6,217.9 599.5,219.7 600.4,220.4 601.3,221.3 602.2,223.3 603.1,224.1 604.0,225.9 605.0,226.8 605.9,228.0 606.8,230.3 607.7,233.0 608.6,234.6 609.5,236.5 610.4,238.5 611.3,240.1 612.2,241.8 613.2,242.3 614.1,243.4" fill="none" stroke="#ecec50" stroke-width="0.9"/>
<polyline points="413.7,91.2 414.6,91.1 415.6,91.6 416.5,91.3 417.4,91.4 418.3,92.2 419.2,92.5 420.1,91.8 421.0,92.7 421.9,92.7 422.8,93.6 423.7,93.6 424.7,93.2 425.6,92.9 426.5,93.2 427.4,93.0 428.3,92.9 429.2,92.5 430.1,93.3 431.0,92.9 431.9,93.0 432.9,93.2 433.8,93.1 434.7,93.9 435.6,94.3 436.5,92.9 437.4,93.0 438.3,92.8 439.2,93.2 440.1,94.1 441.0,93.3 442.0,92.8 442.9,93.9 443.8,94.2 444.7,95.1 445.6,95.3 446.5,95.3 447.4,96.5 448.3,97.4 449.2,97.6 450.2,97.7 451.1,97.2 452.0,97.3 452.9,97.6 453.8,97.7 454.7,97.3 455.6,97.4 456.5,97.9 457.4,98.9 458.3,98.9 459.3,98.8 460.2,98.2 461.1,98.7 462.0,99.3 462.9,99.0 463.8,99.4 464.7,99.0 465.6,99.6 466.5,100.1 467.5,100.2 468.4,99.8 469.3,100.2 470.2,100.0 471.1,100.5 472.0,100.2 472.9,100.9 473.8,101.4 474.7,102.1 475.6,102.7 476.6,103.4 477.5,103.7 478.4,104.3 479.3,104.4 480.2,103.7 481.1,103.1 482.0,103.3 482.9,103.2 483.8,103.7 484.8,103.6 485.7,103.4 486.6,104.7 487.5,105.8 488.4,105.3 489.3,105.5 490.2,105.9 491.1,106.7 492.0,107.8 493.0,108.4 493.9,109.1 494.8,110.1 495.7,109.2 496.6,109.6 497.5,109.8 498.4,110.3 499.3,110.7 500.2,111.1 501.1,112.2 502.1,113.5 503.0,113.8 503.9,113.9 504.8,113.6 505.7,113.6 506.6,114.3 507.5,113.8 508.4,114.7 509.3,116.3 510.3,116.5 511.2,117.0 512.1,117.5 513.0,118.0 513.9,119.7 514.8,120.5 515.7,119.9 516.6,120.7 517.5,121.4 518.4,121.9 519.4,122.2 520.3,121.4 521.2,122.2 522.1,122.5 523.0,123.8 523.9,124.6 524.8,124.7 525.7,125.3 526.6,126.4 527.6,126.3 528.5,127.7 529.4,127.9 530.3,129.5 531.2,130.9 532.1,131.2 533.0,131.2 533.9,132.3 534.8,132.9 535.7,133.8 536.7,134.0 537.6,134.6 538.5,135.4 539.4,136.7 540.3,137.6 541.2,138.5 542.1,139.2 543.0,140.1 543.9,141.2 544.9,142.6 545.8,143.2 546.7,143.9 547.6,144.9 548.5,145.5 549.4,147.4 550.3,148.6 551.2,149.7 552.1,151.6 553.1,152.3 554.0,154.9 554.9,156.2 555.8,156.2 556.7,156.8 557.6,157.5 558.5,158.3 559.4,160.5 560.3,159.8 561.2,161.7 562.2,164.4 563.1,165.4 564.0,167.6 564.9,169.5 565.8,171.1 566.7,174.3 567.6,174.4 568.5,175.3 569.4,176.6 570.4,178.4 571.3,178.7 572.2,179.1 573.1,180.2 574.0,182.5 574.9,183.6 575.8,185.5 576.7,186.1 577.6,188.7 578.5,190.4 579.5,191.0 580.4,191.9 581.3,193.3 582.2,194.6 583.1,195.2 584.0,196.0 584.9,197.2 585.8,198.7 586.7,200.3 587.7,201.7 588.6,203.8 589.5,206.6 590.4,208.5 591.3,211.2 592.2,212.7 593.1,214.9 594.0,216.5 594.9,217.4 595.8,218.3 596.8,218.7 597.7,219.2 598.6,220.8 599.5,221.8 600.4,223.3 601.3,224.3 602.2,225.1 603.1,227.3 604.0,228.5 605.0,229.6 605.9,230.9 606.8,232.6 607.7,234.1 608.6,235.4 609.5,237.0 610.4,239.5 611.3,241.4 612.2,242.8 613.2,243.2 614.1,245.6" fill="none" stroke="#50ea98" stroke-width="0.9"/>
<polyline points="413.7,118.2 414.6,118.0 415.6,117.9 416.5,117.9 417.4,118.7 418.3,118.7 419.2,117.4 420.1,118.4 421.0,118.4 421.9,119.0 422.8,118.8 423.7,117.5 424.7,117.8 425.6,117.7 426.5,117.8 427.4,117.9 428.3,118.5 429.2,118.9 430.1,119.8 431.0,120.5 431.9,120.0 432.9,119.9 433.8,119.4 434.7,118.6 435.6,119.7 436.5,119.1 437.4,119.1 438.3,120.0 439.2,119.9 440.1,120.5 441.0,120.4 442.0,120.3 442.9,120.0 443.8,119.6 444.7,120.2 445.6,120.4 446.5,120.1 447.4,120.1 448.3,119.1 449.2,121.3 450.2,122.0 451.1,121.0 452.0,120.9 452.9,121.0 453.8,122.2 454.7,122.5 455.6,122.0 456.5,121.9 457.4,123.4 458.3,123.5 459.3,124.0 460.2,122.9 461.1,122.7 462.0,122.4 462.9,122.2 463.8,122.5 464.7,122.4 465.6,122.0 466.5,123.0 467.5,123.0 468.4,123.1 469.3,123.4 470.2,122.0 471.1,122.8 472.0,123.3 472.9,123.4 473.8,123.6 474.7,122.9 475.6,122.5 476.6,122.7 477.5,122.0 478.4,122.1 479.3,122.0 480.2,121.7 481.1,122.6 482.0,122.7 482.9,122.8 483.8,124.1 484.8,124.8 485.7,124.6 486.6,126.1 487.5,126.8 488.4,127.9 489.3,129.0 490.2,127.8 491.1,127.3 492.0,127.3 493.0,126.9 493.9,125.8 494.8,125.3 495.7,125.0 496.6,125.1 497.5,125.4 498.4,126.8 499.3,126.3 500.2,127.7 501.1,127.8 502.1,127.3 503.0,127.8 503.9,128.3 504.8,127.3 505.7,127.6 506.6,127.0 507.5,127.2 508.4,127.9 509.3,127.7 510.3,127.3 511.2,128.0 512.1,128.3 513.0,129.3 513.9,129.5 514.8,129.3 515.7,130.8 516.6,131.8 517.5,132.0 518.4,132.8 519.4,132.6 520.3,133.0 521.2,133.9 522.1,133.4 523.0,133.5 523.9,132.9 524.8,133.2 525.7,133.4 526.6,133.6 527.6,133.4 528.5,133.4 529.4,132.7 530.3,133.5 531.2,133.9 532.1,133.8 533.0,134.3 533.9,134.3 534.8,134.8 535.7,135.6 536.7,136.1 537.6,136.5 538.5,137.0 539.4,137.6 540.3,138.1 541.2,138.5 542.1,139.2 543.0,140.0 543.9,141.0 544.9,142.1 545.8,143.2 546.7,144.5 547.6,145.5 548.5,146.8 549.4,148.2 550.3,149.0 551.2,150.3 552.1,151.2 553.1,152.4 554.0,153.5 554.9,153.8 555.8,153.7 556.7,154.8 557.6,156.0 558.5,157.7 559.4,159.1 560.3,161.1 561.2,163.6 562.2,166.0 563.1,167.0 564.0,168.7 564.9,169.2 565.8,170.2 566.7,171.6 567.6,172.4 568.5,174.3 569.4,175.4 570.4,176.4 571.3,178.5 572.2,179.4 573.1,180.2 574.0,181.5 574.9,181.3 575.8,184.1 576.7,185.1 577.6,185.9 578.5,188.7 579.5,189.2 580.4,190.6 581.3,192.9 582.2,193.6 583.1,194.9 584.0,197.0 584.9,197.2 585.8,199.6 586.7,201.1 587.7,202.7 588.6,204.0 589.5,205.7 590.4,207.0 591.3,209.2 592.2,210.4 593.1,211.2 594.0,212.7 594.9,214.6 595.8,216.2 596.8,217.8 597.7,218.2 598.6,220.9 599.5,222.8 600.4,223.7 601.3,224.2 602.2,226.1 603.1,227.2 604.0,229.5 605.0,229.8 605.9,231.5 606.8,233.4 607.7,236.2 608.6,237.6 609.5,238.8 610.4,239.7 611.3,241.9 612.2,243.2 613.2,244.4 614.1,246.0" fill="none" stroke="#5eecc8" stroke-width="0.9"/>
<polyline points="413.7,126.5 414.6,127.4 415.6,128.5 416.5,129.2 417.4,129.7 418.3,129.1 419.2,128.4 420.1,127.0 421.0,127.3 421.9,127.2 422.8,126.5 423.7,127.3 424.7,128.1 425.6,127.7 426.5,127.6 427.4,127.8 428.3,127.9 429.2,128.1 430.1,127.6 431.0,127.4 431.9,126.8 432.9,126.8 433.8,126.8 434.7,126.6 435.6,127.4 436.5,126.9 437.4,127.0 438.3,127.6 439.2,128.1 440.1,127.8 441.0,127.1 442.0,126.0 442.9,126.8 443.8,127.5 444.7,127.2 445.6,127.6 446.5,127.7 447.4,128.4 448.3,129.7 449.2,129.0 450.2,128.2 451.1,127.7 452.0,127.2 452.9,127.5 453.8,127.7 454.7,127.5 455.6,127.8 456.5,128.7 457.4,129.1 458.3,129.2 459.3,129.3 460.2,128.9 461.1,129.4 462.0,129.6 462.9,129.8 463.8,130.7 464.7,130.5 465.6,131.2 466.5,131.8 467.5,131.1 468.4,130.9 469.3,129.9 470.2,129.5 471.1,129.5 472.0,128.8 472.9,128.1 473.8,128.4 474.7,128.5 475.6,128.3 476.6,128.2 477.5,128.0 478.4,127.4 479.3,127.5 480.2,127.8 481.1,127.4 482.0,127.3 482.9,127.5 483.8,129.3 484.8,129.7 485.7,130.1 486.6,129.5 487.5,130.5 488.4,132.2 489.3,132.3 490.2,131.5 491.1,131.4 492.0,131.5 493.0,131.2 493.9,130.9 494.8,130.1 495.7,130.4 496.6,129.4 497.5,130.1 498.4,130.2 499.3,130.6 500.2,130.3 501.1,130.1 502.1,129.9 503.0,130.7 503.9,130.7 504.8,130.8 505.7,131.8 506.6,132.1 507.5,132.9 508.4,133.6 509.3,133.8 510.3,134.1 511.2,134.2 512.1,134.7 513.0,134.9 513.9,134.7 514.8,134.8 515.7,135.4 516.6,136.0 517.5,136.2 518.4,135.8 519.4,136.2 520.3,136.6 521.2,136.8 522.1,136.5 523.0,136.0 523.9,137.0 524.8,136.6 525.7,137.2 526.6,138.3 527.6,139.1 528.5,138.9 529.4,138.7 530.3,137.5 531.2,137.6 532.1,138.0 533.0,137.0 533.9,136.3 534.8,136.7 535.7,137.1 536.7,137.3 537.6,137.5 538.5,137.6 539.4,137.9 540.3,138.3 541.2,138.5 542.1,139.2 543.0,140.3 543.9,141.2 544.9,142.1 545.8,143.3 546.7,144.3 547.6,145.7 548.5,146.4 549.4,147.5 550.3,149.1 551.2,150.6 552.1,152.0 553.1,153.5 554.0,154.9 554.9,156.9 555.8,159.1 556.7,159.9 557.6,161.8 558.5,162.0 559.4,163.0 560.3,164.8 561.2,165.3 562.2,166.7 563.1,167.5 564.0,169.5 564.9,172.1 565.8,173.2 566.7,174.2 567.6,176.1 568.5,176.6 569.4,178.3 570.4,179.0 571.3,181.2 572.2,183.4 573.1,185.8 574.0,187.2 574.9,189.1 575.8,191.1 576.7,193.0 577.6,194.4 578.5,196.6 579.5,197.9 580.4,199.9 581.3,202.3 582.2,203.7 583.1,204.6 584.0,206.3 584.9,207.2 585.8,208.6 586.7,210.6 587.7,211.5 588.6,213.4 589.5,215.9 590.4,217.5 591.3,219.6 592.2,221.2 593.1,222.6 594.0,223.3 594.9,225.6 595.8,226.4 596.8,227.8 597.7,230.2 598.6,231.7 599.5,232.5 600.4,236.1 601.3,237.0 602.2,239.4 603.1,241.0 604.0,241.9 605.0,244.2 605.9,246.6 606.8,248.1 607.7,249.6 608.6,251.8 609.5,253.3 610.4,255.0 611.3,256.1 612.2,257.7 613.2,259.7 614.1,261.3" fill="none" stroke="#78f0f0" stroke-width="0.9"/>
<polyline points="413.7,107.2 414.6,107.0 415.6,106.8 416.5,107.0 417.4,107.4 418.3,106.0 419.2,107.1 420.1,106.7 421.0,106.7 421.9,107.3 422.8,108.8 423.7,107.9 424.7,108.5 425.6,109.2 426.5,109.5 427.4,110.2 428.3,110.2 429.2,108.1 430.1,109.2 431.0,108.7 431.9,107.7 432.9,107.3 433.8,107.3 434.7,106.1 435.6,106.8 436.5,107.3 437.4,108.0 438.3,107.9 439.2,108.6 440.1,108.1 441.0,110.6 442.0,110.7 442.9,110.2 443.8,109.7 444.7,109.8 445.6,110.2 446.5,110.3 447.4,108.7 448.3,108.6 449.2,108.6 450.2,109.1 451.1,109.2 452.0,108.9 452.9,109.0 453.8,110.0 454.7,110.4 455.6,110.6 456.5,110.7 457.4,111.1 458.3,110.6 459.3,111.0 460.2,111.3 461.1,111.6 462.0,112.4 462.9,112.1 463.8,111.6 464.7,112.1 465.6,113.0 466.5,111.9 467.5,111.4 468.4,111.6 469.3,111.9 470.2,112.7 471.1,113.3 472.0,112.9 472.9,113.4 473.8,114.0 474.7,113.3 475.6,113.6 476.6,114.2 477.5,113.7 478.4,113.7 479.3,113.5 480.2,114.0 481.1,114.8 482.0,115.4 482.9,115.8 483.8,116.9 484.8,117.6 485.7,117.9 486.6,118.2 487.5,117.7 488.4,118.6 489.3,118.5 490.2,118.5 491.1,117.8 492.0,118.9 493.0,119.3 493.9,119.2 494.8,118.1 495.7,118.0 496.6,117.7 497.5,119.2 498.4,119.9 499.3,119.2 500.2,120.7 501.1,121.1 502.1,122.2 503.0,121.7 503.9,121.1 504.8,121.0 505.7,121.4 506.6,121.8 507.5,122.0 508.4,122.2 509.3,123.9 510.3,124.3 511.2,123.7 512.1,124.3 513.0,124.6 513.9,125.2 514.8,124.8 515.7,126.4 516.6,126.2 517.5,126.8 518.4,127.5 519.4,126.9 520.3,127.3 521.2,127.8 522.1,126.1 523.0,127.4 523.9,127.4 524.8,127.3 525.7,128.7 526.6,128.7 527.6,129.6 528.5,131.3 529.4,131.9 530.3,133.0 531.2,133.6 532.1,133.2 533.0,134.0 533.9,134.4 534.8,134.5 535.7,134.7 536.7,135.4 537.6,135.9 538.5,136.7 539.4,137.2 540.3,137.8 541.2,138.5 542.1,139.0 543.0,139.4 543.9,139.9 544.9,140.2 545.8,140.8 546.7,141.4 547.6,141.9 548.5,141.7 549.4,142.2 550.3,142.5 551.2,142.4 552.1,142.1 553.1,143.0 554.0,142.3 554.9,143.2 555.8,142.9 556.7,143.5 557.6,144.3 558.5,144.9 559.4,144.9 560.3,145.6 561.2,145.2 562.2,145.8 563.1,147.5 564.0,148.1 564.9,149.0 565.8,149.3 566.7,149.6 567.6,151.1 568.5,151.2 569.4,151.1 570.4,151.0 571.3,151.6 572.2,151.7 573.1,152.8 574.0,153.7 574.9,154.0 575.8,154.9 576.7,155.9 577.6,156.7 578.5,157.7 579.5,157.7 580.4,157.6 581.3,159.4 582.2,158.6 583.1,159.6 584.0,159.6 584.9,160.1 585.8,160.5 586.7,161.6 587.7,161.8 588.6,163.9 589.5,163.8 590.4,163.3 591.3,163.7 592.2,164.2 593.1,164.1 594.0,164.7 594.9,165.4 595.8,166.4 596.8,166.9 597.7,168.1 598.6,168.3 599.5,169.0 600.4,169.3 601.3,168.9 602.2,169.1 603.1,170.6 604.0,170.9 605.0,171.9 605.9,173.3 606.8,172.0 607.7,172.0 608.6,172.2 609.5,172.9 610.4,173.1 611.3,173.7 612.2,172.6 613.2,174.3 614.1,175.4" fill="none" stroke="#5ee4f2" stroke-width="0.9"/>
<polyline points="413.7,89.5 414.6,90.1 415.6,90.1 416.5,90.0 417.4,90.7 418.3,90.5 419.2,90.0 420.1,90.7 421.0,90.8 421.9,90.8 422.8,90.6 423.7,90.8 424.7,91.0 425.6,91.3 426.5,90.9 427.4,90.6 428.3,90.8 429.2,90.2 430.1,91.0 431.0,90.5 431.9,91.2 432.9,90.9 433.8,90.5 434.7,90.5 435.6,90.6 436.5,90.3 437.4,90.7 438.3,91.1 439.2,92.6 440.1,93.7 441.0,93.6 442.0,94.4 442.9,94.4 443.8,94.5 444.7,93.7 445.6,93.8 446.5,93.8 447.4,94.1 448.3,93.4 449.2,93.9 450.2,93.6 451.1,94.4 452.0,93.6 452.9,93.3 453.8,93.9 454.7,95.4 455.6,94.9 456.5,95.2 457.4,95.5 458.3,95.9 459.3,96.2 460.2,97.1 461.1,96.2 462.0,97.2 462.9,97.2 463.8,97.2 464.7,96.5 465.6,97.3 466.5,96.4 467.5,96.6 468.4,97.4 469.3,97.8 470.2,97.8 471.1,98.7 472.0,99.0 472.9,99.4 473.8,99.9 474.7,98.8 475.6,98.8 476.6,99.5 477.5,100.2 478.4,99.0 479.3,98.9 480.2,99.4 481.1,101.6 482.0,101.9 482.9,101.1 483.8,101.7 484.8,102.7 485.7,102.9 486.6,103.3 487.5,102.3 488.4,102.6 489.3,103.3 490.2,103.3 491.1,103.9 492.0,104.1 493.0,104.6 493.9,104.5 494.8,106.0 495.7,107.1 496.6,107.5 497.5,108.0 498.4,108.9 499.3,108.9 500.2,110.6 501.1,110.2 502.1,110.8 503.0,110.9 503.9,111.2 504.8,112.4 505.7,112.3 506.6,112.2 507.5,112.0 508.4,111.6 509.3,112.3 510.3,113.2 511.2,113.6 512.1,114.3 513.0,114.6 513.9,116.2 514.8,116.6 515.7,117.5 516.6,118.3 517.5,119.1 518.4,119.9 519.4,120.4 520.3,120.5 521.2,121.6 522.1,121.9 523.0,122.3 523.9,122.4 524.8,122.9 525.7,124.1 526.6,125.7 527.6,126.3 528.5,127.0 529.4,127.5 530.3,127.6 531.2,128.8 532.1,129.6 533.0,130.7 533.9,131.7 534.8,132.5 535.7,133.3 536.7,134.5 537.6,135.3 538.5,136.0 539.4,136.7 540.3,137.6 541.2,138.5 542.1,138.5 543.0,138.5 543.9,138.5 544.9,138.7 545.8,138.7 546.7,138.6 547.6,139.2 548.5,139.2 549.4,139.3 550.3,138.8 551.2,138.7 552.1,138.5 553.1,138.8 554.0,138.4 554.9,138.7 555.8,139.1 556.7,139.7 557.6,140.8 558.5,141.2 559.4,140.9 560.3,141.9 561.2,141.7 562.2,141.4 563.1,142.7 564.0,142.6 564.9,142.4 565.8,142.6 566.7,142.9 567.6,142.9 568.5,143.9 569.4,144.1 570.4,144.5 571.3,146.2 572.2,146.8 573.1,146.3 574.0,147.2 574.9,146.7 575.8,146.3 576.7,146.4 577.6,145.4 578.5,145.0 579.5,145.5 580.4,145.3 581.3,146.5 582.2,146.4 583.1,147.2 584.0,148.3 584.9,148.6 585.8,148.7 586.7,148.9 587.7,148.3 588.6,148.5 589.5,148.3 590.4,148.4 591.3,149.4 592.2,149.7 593.1,149.6 594.0,149.5 594.9,149.1 595.8,148.9 596.8,149.1 597.7,148.9 598.6,149.6 599.5,151.2 600.4,151.7 601.3,152.8 602.2,153.1 603.1,153.0 604.0,154.1 605.0,154.4 605.9,154.4 606.8,154.8 607.7,156.1 608.6,157.7 609.5,158.1 610.4,157.9 611.3,158.2 612.2,158.3 613.2,158.6 614.1,158.4" fill="none" stroke="#4ed0f4" stroke-width="0.9"/>
<polyline points="413.7,90.5 414.6,91.1 415.6,92.4 416.5,93.1 417.4,93.4 418.3,93.6 419.2,94.2 420.1,94.0 421.0,93.9 421.9,94.2 422.8,94.0 423.7,94.7 424.7,94.1 425.6,94.3 426.5,94.7 427.4,94.7 428.3,94.2 429.2,93.8 430.1,92.6 431.0,93.0 431.9,93.0 432.9,93.4 433.8,93.0 434.7,92.9 435.6,93.9 436.5,94.0 437.4,94.6 438.3,93.7 439.2,94.3 440.1,95.3 441.0,96.4 442.0,95.9 442.9,96.3 443.8,95.2 444.7,96.6 445.6,96.5 446.5,96.2 447.4,95.5 448.3,96.0 449.2,96.5 450.2,97.9 451.1,96.6 452.0,97.2 452.9,97.4 453.8,97.7 454.7,97.6 455.6,97.7 456.5,97.7 457.4,99.0 458.3,98.1 459.3,98.5 460.2,98.7 461.1,99.2 462.0,99.4 462.9,99.2 463.8,99.8 464.7,100.2 465.6,101.4 466.5,101.4 467.5,101.0 468.4,101.5 469.3,102.3 470.2,102.6 471.1,104.0 472.0,103.4 472.9,104.0 473.8,104.9 474.7,104.7 475.6,104.3 476.6,104.7 477.5,105.1 478.4,105.1 479.3,105.3 480.2,105.2 481.1,104.7 482.0,104.9 482.9,104.2 483.8,103.6 484.8,103.5 485.7,103.0 486.6,103.9 487.5,105.7 488.4,105.4 489.3,105.9 490.2,106.6 491.1,106.9 492.0,107.4 493.0,107.5 493.9,106.9 494.8,108.0 495.7,109.1 496.6,109.8 497.5,111.0 498.4,112.0 499.3,112.3 500.2,113.2 501.1,113.8 502.1,114.1 503.0,114.4 503.9,114.2 504.8,115.1 505.7,116.4 506.6,116.7 507.5,116.8 508.4,116.5 509.3,116.3 510.3,117.1 511.2,117.2 512.1,116.9 513.0,117.5 513.9,119.0 514.8,119.4 515.7,119.4 516.6,120.1 517.5,120.6 518.4,121.5 519.4,121.4 520.3,121.5 521.2,121.9 522.1,123.7 523.0,124.9 523.9,125.1 524.8,124.4 525.7,125.1 526.6,125.4 527.6,126.6 528.5,126.8 529.4,127.1 530.3,129.2 531.2,130.6 532.1,131.3 533.0,132.2 533.9,132.4 534.8,133.3 535.7,133.8 536.7,133.9 537.6,134.7 538.5,135.7 539.4,136.7 540.3,137.7 541.2,138.5 542.1,138.4 543.0,138.4 543.9,138.4 544.9,138.5 545.8,138.1 546.7,138.1 547.6,138.1 548.5,138.3 549.4,138.1 550.3,137.9 551.2,136.7 552.1,136.8 553.1,136.8 554.0,136.7 554.9,136.7 555.8,136.8 556.7,136.0 557.6,136.2 558.5,136.8 559.4,136.3 560.3,135.5 561.2,135.4 562.2,135.2 563.1,136.2 564.0,136.1 564.9,136.3 565.8,135.9 566.7,135.6 567.6,136.2 568.5,137.4 569.4,137.1 570.4,138.1 571.3,137.5 572.2,137.4 573.1,139.1 574.0,138.8 574.9,138.6 575.8,139.2 576.7,139.2 577.6,139.7 578.5,140.9 579.5,141.1 580.4,141.6 581.3,140.9 582.2,140.9 583.1,140.2 584.0,140.8 584.9,140.7 585.8,139.8 586.7,140.1 587.7,140.4 588.6,141.6 589.5,142.7 590.4,143.4 591.3,143.1 592.2,143.2 593.1,142.2 594.0,143.0 594.9,141.9 595.8,142.4 596.8,142.0 597.7,142.9 598.6,143.0 599.5,143.8 600.4,143.9 601.3,145.0 602.2,144.0 603.1,144.3 604.0,143.9 605.0,145.1 605.9,145.5 606.8,145.5 607.7,145.6 608.6,146.9 609.5,146.9 610.4,148.1 611.3,147.5 612.2,148.0 613.2,147.8 614.1,148.0" fill="none" stroke="#62aaf4" stroke-width="0.9"/>
<polyline points="413.7,124.7 414.6,124.3 415.6,124.4 416.5,124.7 417.4,125.9 418.3,125.6 419.2,125.6 420.1,126.0 421.0,126.2 421.9,125.7 422.8,126.1 423.7,126.0 424.7,126.6 425.6,126.4 426.5,125.2 427.4,125.5 428.3,125.1 429.2,124.9 430.1,123.6 431.0,124.1 431.9,125.1 432.9,126.0 433.8,125.7 434.7,126.1 435.6,126.5 436.5,127.9 437.4,127.0 438.3,126.7 439.2,126.9 440.1,127.5 441.0,127.6 442.0,127.2 442.9,126.6 443.8,127.0 444.7,126.2 445.6,126.5 446.5,126.3 447.4,126.6 448.3,126.8 449.2,127.3 450.2,126.6 451.1,127.5 452.0,127.1 452.9,126.9 453.8,126.4 454.7,126.0 455.6,125.6 456.5,126.3 457.4,125.4 458.3,125.5 459.3,125.8 460.2,126.0 461.1,127.4 462.0,127.7 462.9,127.9 463.8,128.4 464.7,128.3 465.6,128.6 466.5,129.6 467.5,128.6 468.4,128.3 469.3,128.5 470.2,127.5 471.1,127.7 472.0,127.4 472.9,127.0 473.8,126.4 474.7,126.7 475.6,126.0 476.6,126.8 477.5,127.1 478.4,127.2 479.3,126.8 480.2,128.1 481.1,128.4 482.0,128.0 482.9,127.9 483.8,127.9 484.8,128.3 485.7,128.7 486.6,128.4 487.5,128.1 488.4,129.0 489.3,129.0 490.2,128.6 491.1,128.0 492.0,127.7 493.0,127.5 493.9,127.9 494.8,127.7 495.7,128.8 496.6,129.1 497.5,130.3 498.4,131.2 499.3,130.9 500.2,131.5 501.1,131.4 502.1,131.7 503.0,132.1 503.9,131.1 504.8,129.8 505.7,130.3 506.6,129.4 507.5,130.6 508.4,129.6 509.3,129.4 510.3,130.2 511.2,131.4 512.1,131.8 513.0,132.4 513.9,132.4 514.8,132.7 515.7,133.2 516.6,132.6 517.5,132.9 518.4,132.4 519.4,132.6 520.3,132.7 521.2,133.8 522.1,132.9 523.0,133.3 523.9,133.0 524.8,134.2 525.7,134.1 526.6,134.3 527.6,133.7 528.5,134.2 529.4,134.8 530.3,135.0 531.2,135.1 532.1,135.9 533.0,136.3 533.9,136.4 534.8,137.3 535.7,137.6 536.7,137.7 537.6,138.0 538.5,138.2 539.4,138.1 540.3,138.4 541.2,138.5 542.1,139.3 543.0,140.3 543.9,141.3 544.9,142.1 545.8,143.3 546.7,144.2 547.6,145.6 548.5,147.0 549.4,148.2 550.3,149.6 551.2,151.4 552.1,152.9 553.1,155.1 554.0,155.9 554.9,157.0 555.8,157.5 556.7,158.4 557.6,159.2 558.5,160.8 559.4,161.4 560.3,163.1 561.2,164.5 562.2,166.7 563.1,168.4 564.0,169.6 564.9,170.0 565.8,171.0 566.7,173.3 567.6,174.2 568.5,175.6 569.4,176.3 570.4,178.6 571.3,180.5 572.2,183.3 573.1,184.0 574.0,186.3 574.9,188.3 575.8,190.8 576.7,191.4 577.6,193.1 578.5,194.0 579.5,195.1 580.4,196.9 581.3,198.3 582.2,199.7 583.1,201.1 584.0,203.0 584.9,204.8 585.8,207.7 586.7,208.8 587.7,210.5 588.6,212.8 589.5,214.8 590.4,216.2 591.3,217.5 592.2,218.0 593.1,219.7 594.0,221.8 594.9,222.1 595.8,223.9 596.8,226.3 597.7,228.3 598.6,230.8 599.5,232.5 600.4,233.3 601.3,235.4 602.2,237.5 603.1,238.7 604.0,240.6 605.0,241.3 605.9,243.5 606.8,245.0 607.7,246.7 608.6,247.9 609.5,249.9 610.4,251.1 611.3,254.0 612.2,255.0 613.2,257.0 614.1,259.3" fill="none" stroke="#3c84f4" stroke-width="0.9"/>
<polyline points="413.7,114.5 414.6,115.4 415.6,116.0 416.5,115.7 417.4,115.9 418.3,115.8 419.2,114.5 420.1,113.8 421.0,113.0 421.9,113.1 422.8,113.8 423.7,113.6 424.7,113.8 425.6,114.3 426.5,114.9 427.4,115.1 428.3,113.7 429.2,113.5 430.1,115.1 431.0,115.5 431.9,115.8 432.9,116.1 433.8,115.8 434.7,116.6 435.6,117.3 436.5,115.1 437.4,114.6 438.3,114.5 439.2,114.2 440.1,114.4 441.0,114.6 442.0,114.7 442.9,115.7 443.8,116.5 444.7,117.3 445.6,117.2 446.5,117.6 447.4,117.4 448.3,117.3 449.2,117.1 450.2,116.6 451.1,117.0 452.0,117.3 452.9,116.6 453.8,116.9 454.7,116.8 455.6,116.8 456.5,117.0 457.4,116.8 458.3,116.8 459.3,117.5 460.2,117.2 461.1,117.3 462.0,117.6 462.9,117.3 463.8,116.8 464.7,118.0 465.6,117.4 466.5,117.2 467.5,117.4 468.4,116.9 469.3,118.3 470.2,117.8 471.1,116.6 472.0,117.2 472.9,118.4 473.8,118.8 474.7,119.8 475.6,119.2 476.6,120.6 477.5,120.5 478.4,121.0 479.3,121.3 480.2,120.6 481.1,120.6 482.0,121.2 482.9,121.3 483.8,122.2 484.8,123.1 485.7,122.8 486.6,124.0 487.5,123.5 488.4,122.8 489.3,122.1 490.2,123.1 491.1,121.4 492.0,120.5 493.0,120.6 493.9,121.3 494.8,120.5 495.7,120.9 496.6,120.2 497.5,121.9 498.4,122.1 499.3,121.7 500.2,122.4 501.1,124.2 502.1,124.2 503.0,124.4 503.9,123.5 504.8,125.2 505.7,125.4 506.6,125.8 507.5,126.0 508.4,126.3 509.3,126.6 510.3,127.8 511.2,127.7 512.1,128.8 513.0,129.0 513.9,129.1 514.8,130.1 515.7,130.1 516.6,129.8 517.5,130.2 518.4,130.0 519.4,129.3 520.3,129.4 521.2,129.1 522.1,129.4 523.0,130.6 523.9,130.3 524.8,130.2 525.7,131.2 526.6,131.7 527.6,132.4 528.5,132.4 529.4,132.3 530.3,133.0 531.2,133.3 532.1,133.4 533.0,133.8 533.9,134.5 534.8,135.6 535.7,136.0 536.7,136.7 537.6,137.2 538.5,137.4 539.4,137.8 540.3,138.2 541.2,138.5 542.1,139.2 543.0,140.1 543.9,140.9 544.9,141.9 545.8,142.8 546.7,143.8 547.6,144.6 548.5,146.1 549.4,146.0 550.3,147.1 551.2,148.3 552.1,149.8 553.1,150.2 554.0,151.5 554.9,151.9 555.8,153.4 556.7,153.7 557.6,155.5 558.5,156.6 559.4,157.6 560.3,158.7 561.2,160.0 562.2,161.7 563.1,163.0 564.0,163.3 564.9,164.2 565.8,165.8 566.7,166.2 567.6,167.9 568.5,169.8 569.4,171.3 570.4,172.9 571.3,173.4 572.2,174.7 573.1,175.8 574.0,176.5 574.9,177.1 575.8,178.6 576.7,180.2 577.6,181.7 578.5,182.6 579.5,184.4 580.4,185.7 581.3,187.0 582.2,188.3 583.1,188.8 584.0,190.7 584.9,192.2 585.8,193.7 586.7,195.6 587.7,196.6 588.6,197.7 589.5,199.1 590.4,199.9 591.3,200.3 592.2,201.9 593.1,202.8 594.0,205.3 594.9,206.7 595.8,208.5 596.8,210.2 597.7,212.4 598.6,213.4 599.5,214.6 600.4,214.9 601.3,216.5 602.2,216.6 603.1,217.5 604.0,218.6 605.0,220.2 605.9,221.8 606.8,223.6 607.7,225.2 608.6,227.4 609.5,229.8 610.4,231.4 611.3,231.5 612.2,232.9 613.2,234.4 614.1,235.6" fill="none" stroke="#2a40e8" stroke-width="0.9"/>
<polyline points="413.7,101.7 414.6,101.8 415.6,101.3 416.5,101.2 417.4,99.9 418.3,100.4 419.2,99.4 420.1,99.7 421.0,99.1 421.9,98.9 422.8,99.0 423.7,99.2 424.7,98.4 425.6,98.8 426.5,99.3 427.4,100.5 428.3,100.5 429.2,100.9 430.1,102.1 431.0,102.6 431.9,102.9 432.9,103.2 433.8,102.4 434.7,103.4 435.6,102.7 436.5,101.8 437.4,101.2 438.3,100.8 439.2,101.3 440.1,101.2 441.0,101.0 442.0,101.2 442.9,102.1 443.8,102.9 444.7,102.9 445.6,103.3 446.5,103.5 447.4,103.6 448.3,104.1 449.2,104.0 450.2,104.3 451.1,104.1 452.0,103.6 452.9,104.0 453.8,104.0 454.7,104.0 455.6,104.6 456.5,104.4 457.4,105.2 458.3,105.3 459.3,104.8 460.2,104.2 461.1,104.8 462.0,104.4 462.9,105.0 463.8,104.4 464.7,104.4 465.6,105.1 466.5,106.1 467.5,106.5 468.4,106.6 469.3,107.2 470.2,108.8 471.1,108.1 472.0,108.6 472.9,108.3 473.8,108.2 474.7,108.4 475.6,107.7 476.6,106.8 477.5,108.2 478.4,107.9 479.3,108.7 480.2,108.5 481.1,109.6 482.0,110.2 482.9,111.7 483.8,111.5 484.8,112.1 485.7,112.5 486.6,112.3 487.5,111.2 488.4,111.8 489.3,111.7 490.2,112.9 491.1,113.2 492.0,113.4 493.0,113.8 493.9,114.3 494.8,115.1 495.7,114.7 496.6,114.3 497.5,113.6 498.4,113.4 499.3,113.5 500.2,114.2 501.1,114.6 502.1,115.3 503.0,115.8 503.9,116.8 504.8,117.5 505.7,118.1 506.6,118.1 507.5,118.8 508.4,118.5 509.3,118.6 510.3,118.5 511.2,119.3 512.1,120.1 513.0,120.1 513.9,119.1 514.8,120.6 515.7,121.6 516.6,123.0 517.5,122.9 518.4,123.9 519.4,125.5 520.3,126.9 521.2,126.2 522.1,125.5 523.0,125.1 523.9,125.7 524.8,125.2 525.7,124.7 526.6,125.0 527.6,125.9 528.5,126.9 529.4,128.6 530.3,129.4 531.2,130.8 532.1,132.0 533.0,133.0 533.9,133.7 534.8,134.5 535.7,134.6 536.7,135.1 537.6,135.6 538.5,136.3 539.4,137.0 540.3,137.8 541.2,138.5 542.1,139.2 543.0,140.1 543.9,141.0 544.9,141.8 545.8,142.7 546.7,143.2 547.6,143.9 548.5,144.5 549.4,144.7 550.3,144.7 551.2,145.3 552.1,145.9 553.1,146.9 554.0,148.1 554.9,148.6 555.8,149.9 556.7,152.3 557.6,154.0 558.5,155.9 559.4,156.6 560.3,156.9 561.2,158.0 562.2,160.3 563.1,161.4 564.0,162.1 564.9,162.7 565.8,164.0 566.7,165.1 567.6,166.3 568.5,166.5 569.4,167.2 570.4,168.4 571.3,169.3 572.2,171.1 573.1,172.7 574.0,173.8 574.9,174.1 575.8,174.7 576.7,175.4 577.6,176.3 578.5,176.2 579.5,176.7 580.4,177.9 581.3,179.8 582.2,181.5 583.1,182.8 584.0,183.8 584.9,185.1 585.8,186.4 586.7,187.6 587.7,188.6 588.6,188.9 589.5,189.7 590.4,191.4 591.3,192.2 592.2,193.8 593.1,194.6 594.0,196.3 594.9,198.0 595.8,199.9 596.8,200.9 597.7,202.9 598.6,202.9 599.5,204.6 600.4,205.1 601.3,206.4 602.2,207.6 603.1,208.7 604.0,210.0 605.0,212.1 605.9,213.1 606.8,214.6 607.7,216.5 608.6,217.9 609.5,219.0 610.4,219.6 611.3,220.9 612.2,221.7 613.2,223.4 614.1,224.5" fill="none" stroke="#3c3cf0" stroke-width="0.9"/>
<polyline points="413.7,90.5 414.6,89.6 415.6,90.1 416.5,90.5 417.4,91.3 418.3,91.6 419.2,90.5 420.1,90.5 421.0,90.8 421.9,90.5 422.8,91.0 423.7,90.5 424.7,90.4 425.6,90.2 426.5,90.6 427.4,91.1 428.3,91.0 429.2,90.2 430.1,90.4 431.0,89.9 431.9,91.4 432.9,91.2 433.8,91.1 434.7,91.2 435.6,92.1 436.5,92.4 437.4,93.2 438.3,92.3 439.2,93.0 440.1,93.0 441.0,93.5 442.0,93.5 442.9,94.1 443.8,94.0 444.7,93.9 445.6,93.1 446.5,93.4 447.4,93.8 448.3,93.7 449.2,93.4 450.2,94.1 451.1,94.7 452.0,95.5 452.9,95.9 453.8,95.2 454.7,95.7 455.6,96.3 456.5,96.4 457.4,96.6 458.3,98.0 459.3,98.2 460.2,98.5 461.1,98.3 462.0,97.6 462.9,97.8 463.8,96.9 464.7,95.8 465.6,95.3 466.5,95.5 467.5,96.0 468.4,96.1 469.3,95.6 470.2,97.6 471.1,97.7 472.0,98.5 472.9,98.7 473.8,99.3 474.7,100.7 475.6,101.8 476.6,101.7 477.5,102.5 478.4,102.3 479.3,103.2 480.2,102.9 481.1,102.3 482.0,102.1 482.9,101.8 483.8,102.0 484.8,103.2 485.7,103.5 486.6,104.0 487.5,104.5 488.4,104.8 489.3,105.0 490.2,104.9 491.1,105.8 492.0,105.3 493.0,105.5 493.9,106.4 494.8,107.0 495.7,108.2 496.6,108.5 497.5,107.6 498.4,108.9 499.3,109.3 500.2,109.4 501.1,109.8 502.1,109.1 503.0,109.8 503.9,110.5 504.8,110.6 505.7,111.2 506.6,110.7 507.5,111.5 508.4,111.7 509.3,112.1 510.3,112.6 511.2,112.6 512.1,113.2 513.0,115.2 513.9,115.0 514.8,116.4 515.7,117.4 516.6,118.5 517.5,119.7 518.4,120.4 519.4,120.5 520.3,121.3 521.2,122.0 522.1,122.7 523.0,123.8 523.9,125.0 524.8,125.0 525.7,125.7 526.6,126.6 527.6,127.5 528.5,127.3 529.4,128.3 530.3,128.8 531.2,129.8 532.1,130.5 533.0,131.2 533.9,131.7 534.8,132.7 535.7,133.2 536.7,134.1 537.6,135.1 538.5,136.0 539.4,136.8 540.3,137.6 541.2,138.5 542.1,138.5 543.0,138.5 543.9,138.5 544.9,138.2 545.8,138.2 546.7,138.6 547.6,138.7 548.5,138.9 549.4,138.5 550.3,138.5 551.2,138.9 552.1,139.4 553.1,139.5 554.0,139.7 554.9,139.6 555.8,141.1 556.7,140.0 557.6,140.4 558.5,140.3 559.4,140.7 560.3,139.6 561.2,139.2 562.2,138.3 563.1,138.5 564.0,138.3 564.9,138.7 565.8,138.3 566.7,138.3 567.6,138.5 568.5,138.5 569.4,138.8 570.4,138.9 571.3,138.8 572.2,139.8 573.1,140.9 574.0,141.7 574.9,142.8 575.8,143.4 576.7,143.4 577.6,143.3 578.5,143.7 579.5,143.8 580.4,144.6 581.3,144.7 582.2,144.3 583.1,145.1 584.0,145.6 584.9,145.2 585.8,145.9 586.7,146.1 587.7,146.7 588.6,147.2 589.5,147.6 590.4,148.1 591.3,148.3 592.2,148.4 593.1,148.1 594.0,148.9 594.9,149.4 595.8,149.7 596.8,150.1 597.7,150.4 598.6,151.5 599.5,150.9 600.4,150.4 601.3,150.9 602.2,150.7 603.1,151.5 604.0,152.5 605.0,152.0 605.9,153.5 606.8,154.6 607.7,155.3 608.6,156.5 609.5,157.1 610.4,158.2 611.3,158.6 612.2,158.9 613.2,159.3 614.1,160.0" fill="none" stroke="#3a3af0" stroke-width="0.9"/>
<polyline points="413.7,89.1 414.6,89.5 415.6,90.5 416.5,89.9 417.4,90.7 418.3,90.5 419.2,90.9 420.1,90.1 421.0,90.3 421.9,90.9 422.8,91.5 423.7,90.9 424.7,90.8 425.6,90.3 426.5,91.0 427.4,89.9 428.3,89.7 429.2,88.5 430.1,90.0 431.0,90.3 431.9,90.2 432.9,90.5 433.8,91.7 434.7,91.2 435.6,92.0 436.5,91.4 437.4,90.9 438.3,91.3 439.2,91.7 440.1,92.3 441.0,93.2 442.0,93.9 442.9,94.2 443.8,95.3 444.7,95.2 445.6,95.0 446.5,95.3 447.4,95.8 448.3,95.3 449.2,94.5 450.2,95.0 451.1,95.7 452.0,96.5 452.9,96.4 453.8,95.9 454.7,95.9 455.6,96.3 456.5,96.2 457.4,96.4 458.3,95.9 459.3,95.2 460.2,95.1 461.1,95.3 462.0,95.8 462.9,94.1 463.8,94.0 464.7,94.7 465.6,95.2 466.5,95.7 467.5,96.3 468.4,96.2 469.3,98.0 470.2,97.7 471.1,97.1 472.0,97.7 472.9,97.9 473.8,98.1 474.7,98.4 475.6,98.8 476.6,99.0 477.5,99.8 478.4,99.8 479.3,99.6 480.2,99.8 481.1,100.1 482.0,99.8 482.9,100.5 483.8,100.8 484.8,101.7 485.7,102.8 486.6,103.0 487.5,103.2 488.4,103.7 489.3,103.9 490.2,103.9 491.1,103.7 492.0,103.6 493.0,104.5 493.9,104.9 494.8,105.4 495.7,106.5 496.6,106.6 497.5,106.9 498.4,107.4 499.3,107.3 500.2,108.5 501.1,109.5 502.1,109.3 503.0,110.4 503.9,111.0 504.8,111.4 505.7,112.2 506.6,112.2 507.5,112.7 508.4,113.0 509.3,113.2 510.3,113.6 511.2,114.1 512.1,114.1 513.0,114.7 513.9,114.0 514.8,114.7 515.7,116.1 516.6,116.3 517.5,117.9 518.4,118.9 519.4,120.2 520.3,121.1 521.2,122.7 522.1,122.1 523.0,123.6 523.9,124.2 524.8,124.3 525.7,123.6 526.6,124.7 527.6,124.2 528.5,125.1 529.4,125.6 530.3,125.5 531.2,127.3 532.1,129.3 533.0,129.9 533.9,130.9 534.8,131.9 535.7,133.2 536.7,134.1 537.6,135.0 538.5,135.7 539.4,136.7 540.3,137.6 541.2,138.5 542.1,138.7 543.0,139.0 543.9,139.1 544.9,139.5 545.8,140.1 546.7,140.4 547.6,140.6 548.5,140.8 549.4,141.4 550.3,141.8 551.2,142.2 552.1,142.6 553.1,142.4 554.0,144.1 554.9,144.0 555.8,144.5 556.7,145.2 557.6,147.2 558.5,147.0 559.4,149.3 560.3,148.2 561.2,148.9 562.2,149.5 563.1,149.5 564.0,147.8 564.9,148.8 565.8,149.4 566.7,151.8 567.6,152.1 568.5,152.6 569.4,153.4 570.4,155.8 571.3,156.2 572.2,157.0 573.1,157.1 574.0,158.0 574.9,159.3 575.8,160.3 576.7,160.9 577.6,161.8 578.5,161.6 579.5,162.1 580.4,163.5 581.3,163.6 582.2,164.6 583.1,164.2 584.0,165.7 584.9,167.4 585.8,168.8 586.7,169.4 587.7,168.8 588.6,169.6 589.5,171.2 590.4,171.6 591.3,171.8 592.2,172.6 593.1,172.8 594.0,174.9 594.9,175.5 595.8,176.4 596.8,176.9 597.7,177.9 598.6,179.3 599.5,180.6 600.4,181.8 601.3,182.6 602.2,183.2 603.1,185.0 604.0,186.4 605.0,186.8 605.9,187.7 606.8,188.7 607.7,190.6 608.6,191.7 609.5,191.1 610.4,192.7 611.3,194.2 612.2,195.2 613.2,196.9 614.1,197.1" fill="none" stroke="#1c1cc0" stroke-width="0.9"/>
<polyline points="413.7,123.1 414.6,123.3 415.6,122.6 416.5,123.6 417.4,123.7 418.3,123.3 419.2,122.7 420.1,122.0 421.0,121.5 421.9,121.1 422.8,120.4 423.7,120.3 424.7,120.6 425.6,120.2 426.5,120.6 427.4,120.6 428.3,121.8 429.2,121.1 430.1,120.5 431.0,121.0 431.9,121.8 432.9,121.3 433.8,122.2 434.7,122.5 435.6,123.8 436.5,123.6 437.4,123.1 438.3,122.6 439.2,123.2 440.1,121.9 441.0,122.1 442.0,121.3 442.9,122.4 443.8,122.7 444.7,123.5 445.6,123.8 446.5,124.4 447.4,123.8 448.3,124.1 449.2,123.0 450.2,123.1 451.1,122.6 452.0,122.2 452.9,122.3 453.8,121.6 454.7,121.2 455.6,121.5 456.5,121.3 457.4,122.2 458.3,122.5 459.3,122.3 460.2,123.6 461.1,124.0 462.0,124.2 462.9,123.2 463.8,122.8 464.7,123.5 465.6,123.9 466.5,123.1 467.5,123.2 468.4,123.6 469.3,124.3 470.2,124.4 471.1,123.5 472.0,124.2 472.9,124.2 473.8,124.7 474.7,125.3 475.6,125.5 476.6,125.3 477.5,125.6 478.4,126.0 479.3,126.2 480.2,126.5 481.1,126.9 482.0,127.1 482.9,128.0 483.8,127.2 484.8,126.7 485.7,127.2 486.6,126.8 487.5,126.8 488.4,126.9 489.3,126.2 490.2,127.9 491.1,127.9 492.0,127.5 493.0,127.9 493.9,127.6 494.8,127.6 495.7,128.1 496.6,127.3 497.5,127.1 498.4,127.6 499.3,127.4 500.2,127.6 501.1,127.4 502.1,128.1 503.0,128.9 503.9,129.6 504.8,130.0 505.7,129.1 506.6,129.7 507.5,129.9 508.4,129.5 509.3,128.8 510.3,129.4 511.2,129.2 512.1,130.4 513.0,130.9 513.9,132.0 514.8,131.3 515.7,131.8 516.6,131.6 517.5,131.9 518.4,132.6 519.4,131.8 520.3,130.7 521.2,131.1 522.1,131.6 523.0,132.0 523.9,132.6 524.8,133.1 525.7,133.7 526.6,134.7 527.6,135.7 528.5,135.9 529.4,135.7 530.3,135.4 531.2,135.5 532.1,136.2 533.0,136.8 533.9,136.4 534.8,136.9 535.7,137.0 536.7,137.2 537.6,137.4 538.5,137.4 539.4,137.6 540.3,138.1 541.2,138.5 542.1,139.2 543.0,140.1 543.9,140.9 544.9,142.1 545.8,143.4 546.7,144.5 547.6,145.6 548.5,146.4 549.4,148.0 550.3,148.7 551.2,150.0 552.1,151.1 553.1,153.1 554.0,152.7 554.9,154.3 555.8,155.6 556.7,157.5 557.6,159.2 558.5,161.4 559.4,162.5 560.3,165.3 561.2,167.0 562.2,168.2 563.1,170.2 564.0,171.2 564.9,171.3 565.8,171.8 566.7,173.3 567.6,174.3 568.5,175.2 569.4,176.1 570.4,177.9 571.3,178.8 572.2,180.3 573.1,181.5 574.0,183.0 574.9,184.2 575.8,185.2 576.7,186.0 577.6,188.9 578.5,190.7 579.5,190.8 580.4,192.4 581.3,194.4 582.2,196.1 583.1,197.0 584.0,198.3 584.9,199.9 585.8,202.7 586.7,203.9 587.7,205.6 588.6,207.7 589.5,210.5 590.4,211.0 591.3,212.3 592.2,213.5 593.1,215.6 594.0,216.8 594.9,217.2 595.8,218.0 596.8,219.6 597.7,220.9 598.6,222.4 599.5,222.6 600.4,223.4 601.3,226.6 602.2,228.1 603.1,229.6 604.0,231.8 605.0,234.2 605.9,235.6 606.8,237.8 607.7,238.6 608.6,239.9 609.5,242.1 610.4,242.9 611.3,243.5 612.2,245.9 613.2,247.9 614.1,249.4" fill="none" stroke="#ecd848" stroke-width="0.9"/>
<polyline points="413.7,84.5 414.6,84.9 415.6,85.7 416.5,84.0 417.4,84.2 418.3,84.1 419.2,83.8 420.1,83.7 421.0,83.7 421.9,84.7 422.8,85.5 423.7,84.9 424.7,85.7 425.6,86.5 426.5,85.8 427.4,86.1 428.3,85.7 429.2,85.7 430.1,86.7 431.0,86.7 431.9,86.7 432.9,88.1 433.8,87.9 434.7,88.0 435.6,89.5 436.5,89.0 437.4,88.9 438.3,88.6 439.2,88.6 440.1,89.2 441.0,88.8 442.0,88.4 442.9,88.5 443.8,90.0 444.7,90.0 445.6,90.3 446.5,89.8 447.4,91.0 448.3,90.2 449.2,91.0 450.2,90.0 451.1,90.5 452.0,90.6 452.9,90.7 453.8,90.4 454.7,90.4 455.6,90.4 456.5,90.4 457.4,91.0 458.3,91.1 459.3,91.2 460.2,91.8 461.1,93.2 462.0,93.4 462.9,93.3 463.8,94.3 464.7,94.5 465.6,95.4 466.5,96.6 467.5,95.8 468.4,96.3 469.3,96.3 470.2,95.6 471.1,95.8 472.0,95.4 472.9,94.2 473.8,94.7 474.7,94.8 475.6,96.7 476.6,96.6 477.5,96.7 478.4,97.2 479.3,97.2 480.2,97.4 481.1,97.2 482.0,96.9 482.9,96.3 483.8,96.2 484.8,96.8 485.7,96.9 486.6,96.8 487.5,98.2 488.4,97.9 489.3,99.3 490.2,100.3 491.1,100.1 492.0,100.7 493.0,102.5 493.9,102.2 494.8,103.5 495.7,103.6 496.6,104.0 497.5,104.4 498.4,104.9 499.3,104.2 500.2,104.7 501.1,104.6 502.1,105.3 503.0,105.8 503.9,106.7 504.8,108.2 505.7,108.9 506.6,110.0 507.5,111.5 508.4,113.0 509.3,112.4 510.3,114.0 511.2,113.3 512.1,114.9 513.0,115.1 513.9,115.3 514.8,114.7 515.7,116.7 516.6,116.8 517.5,118.0 518.4,117.7 519.4,118.8 520.3,119.8 521.2,121.3 522.1,121.4 523.0,121.8 523.9,123.2 524.8,124.6 525.7,125.5 526.6,125.8 527.6,125.9 528.5,127.0 529.4,127.9 530.3,128.1 531.2,128.7 532.1,128.9 533.0,129.8 533.9,130.8 534.8,132.1 535.7,133.1 536.7,134.1 537.6,134.7 538.5,135.6 539.4,136.6 540.3,137.5 541.2,138.5 542.1,139.0 543.0,139.3 543.9,139.8 544.9,140.2 545.8,140.3 546.7,140.5 547.6,140.9 548.5,141.5 549.4,142.4 550.3,143.2 551.2,143.8 552.1,144.8 553.1,145.3 554.0,146.0 554.9,146.0 555.8,145.7 556.7,145.3 557.6,144.9 558.5,145.6 559.4,146.0 560.3,146.1 561.2,147.0 562.2,147.8 563.1,148.2 564.0,148.3 564.9,147.8 565.8,148.2 566.7,149.4 567.6,150.3 568.5,151.1 569.4,151.0 570.4,152.7 571.3,154.1 572.2,155.0 573.1,155.6 574.0,155.0 574.9,154.5 575.8,155.2 576.7,154.7 577.6,154.6 578.5,154.8 579.5,154.0 580.4,155.0 581.3,156.0 582.2,156.9 583.1,157.4 584.0,157.4 584.9,158.1 585.8,158.3 586.7,158.2 587.7,158.5 588.6,158.3 589.5,159.0 590.4,159.7 591.3,159.8 592.2,160.7 593.1,161.1 594.0,160.7 594.9,162.0 595.8,161.9 596.8,161.6 597.7,160.8 598.6,160.7 599.5,161.1 600.4,161.2 601.3,160.4 602.2,160.6 603.1,162.1 604.0,163.4 605.0,163.8 605.9,163.8 606.8,164.9 607.7,166.0 608.6,166.9 609.5,167.2 610.4,167.5 611.3,168.2 612.2,169.3 613.2,169.5 614.1,170.1" fill="none" stroke="#e8b430" stroke-width="0.9"/>
<polyline points="413.7,96.1 414.6,96.4 415.6,97.2 416.5,97.3 417.4,97.8 418.3,98.0 419.2,97.5 420.1,97.4 421.0,96.9 421.9,97.2 422.8,99.1 423.7,98.9 424.7,100.0 425.6,100.3 426.5,100.5 427.4,100.4 428.3,99.8 429.2,99.2 430.1,99.3 431.0,99.0 431.9,98.8 432.9,99.5 433.8,99.8 434.7,99.8 435.6,99.3 436.5,99.5 437.4,99.7 438.3,100.9 439.2,99.7 440.1,99.7 441.0,100.8 442.0,102.0 442.9,101.5 443.8,101.3 444.7,100.0 445.6,100.3 446.5,100.2 447.4,99.6 448.3,98.1 449.2,99.0 450.2,99.1 451.1,99.9 452.0,100.8 452.9,101.2 453.8,100.9 454.7,101.6 455.6,102.3 456.5,102.5 457.4,103.0 458.3,102.7 459.3,102.9 460.2,103.9 461.1,102.8 462.0,101.4 462.9,101.3 463.8,101.1 464.7,102.0 465.6,103.5 466.5,103.7 467.5,105.3 468.4,106.4 469.3,107.5 470.2,107.4 471.1,106.7 472.0,105.9 472.9,106.0 473.8,105.1 474.7,105.2 475.6,104.0 476.6,105.1 477.5,105.9 478.4,105.1 479.3,105.4 480.2,106.6 481.1,106.4 482.0,107.8 482.9,108.6 483.8,108.7 484.8,109.5 485.7,108.9 486.6,108.6 487.5,108.7 488.4,109.0 489.3,108.5 490.2,108.6 491.1,109.8 492.0,110.8 493.0,111.6 493.9,112.0 494.8,111.6 495.7,111.8 496.6,111.6 497.5,112.3 498.4,112.7 499.3,112.8 500.2,114.0 501.1,114.1 502.1,115.0 503.0,115.9 503.9,116.4 504.8,116.5 505.7,117.0 506.6,116.6 507.5,116.9 508.4,116.9 509.3,116.8 510.3,116.6 511.2,117.0 512.1,118.1 513.0,117.8 513.9,119.0 514.8,119.4 515.7,120.3 516.6,120.4 517.5,122.0 518.4,121.8 519.4,123.7 520.3,123.9 521.2,124.2 522.1,124.8 523.0,126.0 523.9,125.2 524.8,125.8 525.7,125.5 526.6,126.4 527.6,126.8 528.5,127.2 529.4,127.9 530.3,129.0 531.2,130.0 532.1,131.1 533.0,131.8 533.9,132.7 534.8,133.3 535.7,134.0 536.7,134.6 537.6,135.3 538.5,136.1 539.4,136.8 540.3,137.6 541.2,138.5 542.1,139.1 543.0,139.7 543.9,140.6 544.9,141.4 545.8,142.2 546.7,143.1 547.6,143.7 548.5,143.9 549.4,144.7 550.3,145.2 551.2,145.5 552.1,146.7 553.1,147.4 554.0,147.9 554.9,149.3 555.8,150.7 556.7,152.4 557.6,153.9 558.5,154.1 559.4,156.1 560.3,157.5 561.2,158.0 562.2,158.2 563.1,158.7 564.0,158.5 564.9,160.0 565.8,159.6 566.7,161.0 567.6,161.4 568.5,163.1 569.4,165.0 570.4,167.0 571.3,167.2 572.2,170.0 573.1,170.5 574.0,171.7 574.9,173.0 575.8,171.6 576.7,172.1 577.6,173.1 578.5,172.9 579.5,173.2 580.4,175.2 581.3,176.1 582.2,178.5 583.1,180.0 584.0,181.0 584.9,182.6 585.8,184.3 586.7,185.3 587.7,186.4 588.6,187.5 589.5,187.8 590.4,189.2 591.3,190.7 592.2,192.2 593.1,193.7 594.0,193.3 594.9,194.4 595.8,196.4 596.8,197.2 597.7,197.4 598.6,198.8 599.5,199.5 600.4,201.4 601.3,202.8 602.2,204.5 603.1,205.9 604.0,207.5 605.0,208.6 605.9,209.2 606.8,211.2 607.7,212.2 608.6,213.3 609.5,215.3 610.4,216.5 611.3,217.0 612.2,218.2 613.2,218.8 614.1,220.1" fill="none" stroke="#f09838" stroke-width="0.9"/>
<polyline points="413.7,122.2 414.6,122.4 415.6,122.6 416.5,121.9 417.4,121.2 418.3,120.4 419.2,119.6 420.1,120.1 421.0,120.4 421.9,120.8 422.8,121.4 423.7,121.6 424.7,121.6 425.6,121.5 426.5,120.9 427.4,120.2 428.3,119.9 429.2,119.2 430.1,119.8 431.0,120.8 431.9,120.3 432.9,120.3 433.8,121.3 434.7,121.3 435.6,121.7 436.5,121.0 437.4,120.4 438.3,121.3 439.2,122.1 440.1,121.8 441.0,121.4 442.0,121.5 442.9,122.4 443.8,122.0 444.7,121.6 445.6,121.1 446.5,121.4 447.4,122.0 448.3,121.6 449.2,121.3 450.2,121.9 451.1,122.2 452.0,122.3 452.9,121.7 453.8,121.0 454.7,120.9 455.6,120.2 456.5,120.5 457.4,120.9 458.3,121.2 459.3,121.0 460.2,121.0 461.1,122.2 462.0,123.2 462.9,123.8 463.8,123.5 464.7,123.0 465.6,122.9 466.5,123.8 467.5,122.7 468.4,121.9 469.3,121.2 470.2,122.1 471.1,122.6 472.0,123.3 472.9,123.0 473.8,123.6 474.7,124.4 475.6,124.2 476.6,124.5 477.5,124.5 478.4,125.0 479.3,124.4 480.2,124.8 481.1,124.4 482.0,124.6 482.9,124.0 483.8,124.7 484.8,124.9 485.7,126.3 486.6,126.1 487.5,127.1 488.4,127.5 489.3,127.3 490.2,127.1 491.1,126.5 492.0,126.4 493.0,125.9 493.9,126.2 494.8,126.3 495.7,127.4 496.6,127.9 497.5,127.6 498.4,127.4 499.3,128.7 500.2,127.9 501.1,128.0 502.1,127.4 503.0,127.4 503.9,128.5 504.8,128.5 505.7,128.7 506.6,129.9 507.5,130.9 508.4,130.9 509.3,130.3 510.3,130.2 511.2,131.0 512.1,131.0 513.0,130.4 513.9,129.7 514.8,130.9 515.7,131.4 516.6,132.3 517.5,131.6 518.4,131.5 519.4,131.6 520.3,133.1 521.2,133.4 522.1,133.4 523.0,132.0 523.9,133.2 524.8,133.7 525.7,133.7 526.6,132.5 527.6,132.4 528.5,132.9 529.4,134.1 530.3,134.1 531.2,134.3 532.1,134.9 533.0,135.8 533.9,136.0 534.8,136.2 535.7,136.6 536.7,136.6 537.6,137.1 538.5,137.5 539.4,137.8 540.3,138.1 541.2,138.5 542.1,138.8 543.0,139.1 543.9,139.4 544.9,139.8 545.8,140.6 546.7,141.3 547.6,141.6 548.5,142.2 549.4,143.3 550.3,144.2 551.2,145.0 552.1,144.3 553.1,145.1 554.0,146.0 554.9,146.3 555.8,146.6 556.7,146.9 557.6,147.6 558.5,149.4 559.4,149.8 560.3,151.2 561.2,151.1 562.2,152.0 563.1,153.0 564.0,154.2 564.9,154.8 565.8,155.2 566.7,155.3 567.6,157.4 568.5,159.3 569.4,160.7 570.4,160.9 571.3,161.7 572.2,162.7 573.1,163.7 574.0,164.8 574.9,164.9 575.8,165.7 576.7,167.4 577.6,168.7 578.5,170.2 579.5,170.5 580.4,170.8 581.3,170.9 582.2,171.4 583.1,171.9 584.0,173.4 584.9,174.1 585.8,175.0 586.7,176.4 587.7,178.9 588.6,180.5 589.5,181.8 590.4,182.2 591.3,182.8 592.2,184.0 593.1,184.9 594.0,186.5 594.9,187.9 595.8,188.5 596.8,189.7 597.7,191.4 598.6,192.8 599.5,193.9 600.4,193.9 601.3,195.1 602.2,197.0 603.1,198.6 604.0,199.5 605.0,201.0 605.9,201.9 606.8,202.7 607.7,203.5 608.6,204.2 609.5,204.7 610.4,206.4 611.3,207.7 612.2,209.5 613.2,211.1 614.1,211.7" fill="none" stroke="#f07434" stroke-width="0.9"/>
<polyline points="413.7,89.5 414.6,89.6 415.6,88.9 416.5,88.2 417.4,88.7 418.3,87.8 419.2,87.4 420.1,87.7 421.0,87.9 421.9,88.7 422.8,89.1 423.7,88.7 424.7,89.4 425.6,89.4 426.5,89.6 427.4,90.1 428.3,89.9 429.2,89.5 430.1,89.3 431.0,88.5 431.9,88.3 432.9,88.6 433.8,88.1 434.7,87.6 435.6,88.3 436.5,89.0 437.4,88.8 438.3,89.8 439.2,89.9 440.1,90.2 441.0,91.2 442.0,90.9 442.9,90.9 443.8,91.7 444.7,91.6 445.6,91.9 446.5,92.2 447.4,91.6 448.3,92.5 449.2,93.0 450.2,93.5 451.1,93.4 452.0,93.2 452.9,93.3 453.8,94.1 454.7,93.9 455.6,93.8 456.5,94.3 457.4,94.3 458.3,94.4 459.3,95.1 460.2,94.9 461.1,95.8 462.0,96.1 462.9,96.2 463.8,96.1 464.7,95.7 465.6,95.7 466.5,96.7 467.5,97.3 468.4,97.4 469.3,97.1 470.2,97.9 471.1,97.8 472.0,98.3 472.9,97.8 473.8,97.9 474.7,98.7 475.6,98.7 476.6,98.9 477.5,100.1 478.4,100.3 479.3,100.5 480.2,101.5 481.1,101.7 482.0,101.8 482.9,102.4 483.8,103.3 484.8,103.7 485.7,104.1 486.6,102.8 487.5,102.7 488.4,103.1 489.3,103.1 490.2,103.1 491.1,103.0 492.0,104.3 493.0,105.1 493.9,105.7 494.8,106.6 495.7,107.9 496.6,107.4 497.5,108.2 498.4,109.0 499.3,109.8 500.2,110.0 501.1,110.5 502.1,110.2 503.0,112.7 503.9,112.7 504.8,111.9 505.7,111.7 506.6,112.0 507.5,111.0 508.4,111.5 509.3,111.0 510.3,111.6 511.2,112.5 512.1,113.5 513.0,115.0 513.9,116.3 514.8,117.6 515.7,118.4 516.6,119.5 517.5,119.9 518.4,120.2 519.4,120.3 520.3,121.8 521.2,122.2 522.1,122.2 523.0,122.9 523.9,123.4 524.8,124.3 525.7,125.2 526.6,126.1 527.6,127.3 528.5,128.3 529.4,128.4 530.3,129.1 531.2,129.8 532.1,130.4 533.0,131.2 533.9,131.6 534.8,132.5 535.7,133.3 536.7,134.1 537.6,134.8 538.5,135.8 539.4,136.5 540.3,137.5 541.2,138.5 542.1,138.6 543.0,138.9 543.9,139.1 544.9,139.3 545.8,139.6 546.7,139.8 547.6,140.5 548.5,141.3 549.4,141.6 550.3,142.1 551.2,142.7 552.1,143.8 553.1,144.5 554.0,145.3 554.9,146.1 555.8,147.1 556.7,148.5 557.6,149.1 558.5,149.5 559.4,150.7 560.3,151.6 561.2,150.7 562.2,152.2 563.1,152.2 564.0,153.2 564.9,154.8 565.8,155.2 566.7,156.2 567.6,158.6 568.5,159.1 569.4,160.3 570.4,161.5 571.3,161.7 572.2,161.5 573.1,162.0 574.0,162.8 574.9,163.6 575.8,165.2 576.7,166.7 577.6,168.1 578.5,170.6 579.5,171.8 580.4,173.3 581.3,174.1 582.2,175.6 583.1,176.6 584.0,177.4 584.9,178.4 585.8,178.7 586.7,179.1 587.7,180.7 588.6,180.8 589.5,180.2 590.4,181.4 591.3,181.9 592.2,183.6 593.1,184.7 594.0,185.8 594.9,188.0 595.8,190.1 596.8,190.4 597.7,192.0 598.6,193.2 599.5,194.2 600.4,195.7 601.3,196.2 602.2,197.0 603.1,199.0 604.0,199.1 605.0,200.5 605.9,201.6 606.8,202.8 607.7,204.1 608.6,205.6 609.5,206.7 610.4,208.0 611.3,208.7 612.2,210.0 613.2,210.9 614.1,211.9" fill="none" stroke="#f04422" stroke-width="0.9"/>
<polyline points="413.7,98.3 414.6,98.7 415.6,99.7 416.5,99.2 417.4,100.1 418.3,101.4 419.2,101.8 420.1,101.8 421.0,102.0 421.9,101.5 422.8,102.4 423.7,101.6 424.7,100.8 425.6,101.6 426.5,101.4 427.4,100.8 428.3,100.9 429.2,100.0 430.1,101.0 431.0,101.2 431.9,100.8 432.9,100.7 433.8,100.8 434.7,100.4 435.6,101.4 436.5,100.7 437.4,101.2 438.3,101.1 439.2,100.9 440.1,100.6 441.0,101.2 442.0,100.3 442.9,101.0 443.8,100.6 444.7,101.5 445.6,101.9 446.5,102.8 447.4,102.4 448.3,102.6 449.2,102.6 450.2,102.7 451.1,102.9 452.0,102.9 452.9,102.9 453.8,103.1 454.7,102.9 455.6,103.5 456.5,103.8 457.4,103.9 458.3,104.4 459.3,103.6 460.2,104.3 461.1,105.7 462.0,105.8 462.9,106.8 463.8,106.7 464.7,106.8 465.6,107.8 466.5,107.2 467.5,107.3 468.4,107.2 469.3,106.8 470.2,106.5 471.1,107.0 472.0,106.9 472.9,108.2 473.8,107.8 474.7,107.5 475.6,107.4 476.6,107.5 477.5,107.0 478.4,107.4 479.3,105.9 480.2,107.3 481.1,108.0 482.0,108.5 482.9,108.8 483.8,109.5 484.8,109.9 485.7,111.3 486.6,110.0 487.5,110.1 488.4,109.3 489.3,109.9 490.2,109.7 491.1,109.7 492.0,109.8 493.0,111.2 493.9,112.1 494.8,113.3 495.7,113.2 496.6,114.6 497.5,114.5 498.4,114.8 499.3,114.6 500.2,114.1 501.1,115.0 502.1,116.0 503.0,116.2 503.9,117.1 504.8,118.1 505.7,118.5 506.6,119.1 507.5,119.1 508.4,119.5 509.3,119.6 510.3,120.1 511.2,119.4 512.1,119.8 513.0,119.1 513.9,119.2 514.8,119.1 515.7,119.7 516.6,119.0 517.5,121.1 518.4,121.6 519.4,122.5 520.3,123.4 521.2,124.5 522.1,124.8 523.0,127.5 523.9,126.8 524.8,127.6 525.7,128.9 526.6,129.0 527.6,129.5 528.5,130.4 529.4,129.7 530.3,130.8 531.2,131.6 532.1,132.3 533.0,132.6 533.9,133.2 534.8,133.5 535.7,134.6 536.7,135.1 537.6,135.9 538.5,136.3 539.4,137.2 540.3,137.8 541.2,138.5 542.1,139.2 543.0,139.9 543.9,140.6 544.9,141.6 545.8,142.2 546.7,143.0 547.6,143.5 548.5,144.1 549.4,145.0 550.3,145.8 551.2,146.7 552.1,148.3 553.1,149.2 554.0,150.2 554.9,151.1 555.8,151.6 556.7,153.1 557.6,154.6 558.5,155.6 559.4,158.1 560.3,158.7 561.2,159.0 562.2,160.4 563.1,160.4 564.0,161.7 564.9,162.7 565.8,162.7 566.7,164.3 567.6,166.5 568.5,168.0 569.4,169.2 570.4,169.6 571.3,171.2 572.2,172.2 573.1,173.8 574.0,174.3 574.9,175.3 575.8,176.8 576.7,178.7 577.6,179.1 578.5,180.9 579.5,181.7 580.4,182.8 581.3,184.0 582.2,185.3 583.1,185.8 584.0,187.2 584.9,188.1 585.8,188.6 586.7,189.4 587.7,190.0 588.6,190.7 589.5,191.5 590.4,192.3 591.3,193.4 592.2,194.6 593.1,195.9 594.0,198.0 594.9,200.1 595.8,201.4 596.8,203.3 597.7,204.8 598.6,206.0 599.5,207.4 600.4,207.8 601.3,208.0 602.2,209.4 603.1,209.5 604.0,210.3 605.0,212.0 605.9,213.0 606.8,214.9 607.7,215.9 608.6,216.2 609.5,218.0 610.4,218.7 611.3,219.9 612.2,220.7 613.2,221.3 614.1,222.5" fill="none" stroke="#ee3a30" stroke-width="0.9"/>
<polyline points="413.7,101.4 414.6,101.3 415.6,101.3 416.5,101.2 417.4,99.8 418.3,100.2 419.2,101.1 420.1,100.9 421.0,102.0 421.9,102.8 422.8,102.8 423.7,102.8 424.7,102.2 425.6,102.5 426.5,102.5 427.4,102.9 428.3,102.3 429.2,103.3 430.1,103.1 431.0,103.1 431.9,102.5 432.9,102.8 433.8,102.5 434.7,102.5 435.6,102.3 436.5,102.6 437.4,103.2 438.3,103.6 439.2,104.3 440.1,104.0 441.0,104.6 442.0,103.6 442.9,104.0 443.8,104.5 444.7,105.5 445.6,104.5 446.5,104.2 447.4,103.8 448.3,104.3 449.2,104.6 450.2,104.3 451.1,104.2 452.0,104.8 452.9,104.8 453.8,105.0 454.7,104.9 455.6,104.0 456.5,105.1 457.4,105.0 458.3,104.7 459.3,105.1 460.2,106.2 461.1,106.7 462.0,107.6 462.9,107.4 463.8,107.1 464.7,107.6 465.6,107.8 466.5,107.4 467.5,107.1 468.4,107.2 469.3,107.3 470.2,107.0 471.1,107.4 472.0,107.3 472.9,106.3 473.8,106.3 474.7,106.6 475.6,106.9 476.6,107.5 477.5,106.9 478.4,107.4 479.3,109.2 480.2,110.3 481.1,109.8 482.0,110.0 482.9,110.3 483.8,111.1 484.8,111.5 485.7,111.6 486.6,111.8 487.5,112.3 488.4,112.3 489.3,112.7 490.2,113.5 491.1,113.2 492.0,113.2 493.0,113.1 493.9,114.0 494.8,114.1 495.7,112.9 496.6,113.1 497.5,113.7 498.4,113.5 499.3,113.6 500.2,113.3 501.1,113.3 502.1,114.9 503.0,114.9 503.9,115.5 504.8,116.5 505.7,117.2 506.6,118.3 507.5,119.2 508.4,119.8 509.3,120.4 510.3,120.7 511.2,121.4 512.1,122.6 513.0,122.5 513.9,123.8 514.8,124.8 515.7,124.2 516.6,123.8 517.5,123.4 518.4,123.7 519.4,124.8 520.3,124.8 521.2,124.5 522.1,126.1 523.0,127.9 523.9,128.5 524.8,128.9 525.7,129.5 526.6,129.4 527.6,129.7 528.5,129.4 529.4,130.3 530.3,131.3 531.2,132.0 532.1,132.2 533.0,132.9 533.9,133.9 534.8,134.6 535.7,135.1 536.7,135.5 537.6,136.0 538.5,136.7 539.4,137.3 540.3,137.9 541.2,138.5 542.1,138.7 543.0,138.9 543.9,139.1 544.9,139.1 545.8,139.3 546.7,139.5 547.6,139.7 548.5,139.4 549.4,139.8 550.3,139.9 551.2,140.9 552.1,141.1 553.1,140.7 554.0,141.0 554.9,141.6 555.8,142.4 556.7,142.9 557.6,143.3 558.5,143.9 559.4,143.4 560.3,144.5 561.2,145.8 562.2,145.5 563.1,147.2 564.0,147.7 564.9,148.3 565.8,150.1 566.7,150.0 567.6,149.1 568.5,151.3 569.4,150.8 570.4,151.4 571.3,152.5 572.2,153.3 573.1,154.6 574.0,155.1 574.9,154.5 575.8,155.2 576.7,155.2 577.6,155.5 578.5,156.4 579.5,156.7 580.4,158.1 581.3,159.3 582.2,161.0 583.1,162.1 584.0,163.3 584.9,164.1 585.8,165.2 586.7,165.8 587.7,166.7 588.6,167.4 589.5,169.5 590.4,169.6 591.3,170.7 592.2,171.4 593.1,173.0 594.0,173.5 594.9,174.1 595.8,174.9 596.8,175.7 597.7,176.3 598.6,177.2 599.5,177.9 600.4,178.5 601.3,179.5 602.2,178.9 603.1,180.0 604.0,181.0 605.0,182.5 605.9,182.7 606.8,183.5 607.7,184.2 608.6,186.9 609.5,187.8 610.4,188.3 611.3,188.9 612.2,190.7 613.2,191.8 614.1,193.1" fill="none" stroke="#f04848" stroke-width="0.9"/>
<polyline points="413.7,105.5 414.6,105.7 415.6,107.0 416.5,107.2 417.4,106.6 418.3,106.7 419.2,107.8 420.1,108.7 421.0,107.9 421.9,107.6 422.8,107.3 423.7,106.1 424.7,105.9 425.6,104.8 426.5,104.8 427.4,105.2 428.3,104.9 429.2,104.1 430.1,105.3 431.0,106.3 431.9,107.0 432.9,107.0 433.8,106.3 434.7,106.3 435.6,107.3 436.5,106.6 437.4,105.4 438.3,105.3 439.2,106.0 440.1,107.2 441.0,107.2 442.0,107.7 442.9,108.1 443.8,108.3 444.7,107.4 445.6,106.5 446.5,106.0 447.4,105.5 448.3,104.9 449.2,105.3 450.2,105.7 451.1,106.5 452.0,107.3 452.9,107.6 453.8,108.8 454.7,109.1 455.6,109.1 456.5,108.1 457.4,107.5 458.3,108.3 459.3,108.1 460.2,107.2 461.1,107.9 462.0,107.5 462.9,109.2 463.8,109.8 464.7,109.1 465.6,108.7 466.5,110.0 467.5,108.9 468.4,109.0 469.3,109.1 470.2,108.8 471.1,109.4 472.0,110.5 472.9,110.0 473.8,110.5 474.7,110.9 475.6,110.9 476.6,111.2 477.5,111.4 478.4,111.7 479.3,112.3 480.2,113.1 481.1,113.9 482.0,114.1 482.9,115.2 483.8,115.3 484.8,115.5 485.7,115.1 486.6,114.4 487.5,114.4 488.4,114.9 489.3,114.3 490.2,113.7 491.1,113.5 492.0,114.4 493.0,115.8 493.9,115.9 494.8,115.2 495.7,115.8 496.6,117.1 497.5,117.6 498.4,118.2 499.3,117.9 500.2,118.7 501.1,120.3 502.1,120.2 503.0,119.8 503.9,120.4 504.8,121.7 505.7,122.5 506.6,122.4 507.5,122.6 508.4,123.3 509.3,123.4 510.3,123.0 511.2,122.5 512.1,121.9 513.0,121.6 513.9,121.8 514.8,122.3 515.7,124.0 516.6,124.3 517.5,123.8 518.4,124.8 519.4,125.3 520.3,125.3 521.2,125.5 522.1,125.8 523.0,126.7 523.9,127.3 524.8,128.2 525.7,129.7 526.6,130.8 527.6,131.5 528.5,131.4 529.4,131.6 530.3,131.8 531.2,132.2 532.1,132.3 533.0,133.1 533.9,133.6 534.8,134.4 535.7,135.3 536.7,135.7 537.6,136.2 538.5,136.7 539.4,137.2 540.3,137.8 541.2,138.5 542.1,138.5 543.0,138.8 543.9,139.1 544.9,139.3 545.8,139.7 546.7,140.2 547.6,140.0 548.5,140.1 549.4,140.4 550.3,140.4 551.2,140.5 552.1,140.0 553.1,140.5 554.0,140.5 554.9,141.2 555.8,142.0 556.7,142.7 557.6,144.5 558.5,145.5 559.4,145.6 560.3,147.6 561.2,148.0 562.2,147.7 563.1,147.8 564.0,147.5 564.9,148.7 565.8,149.8 566.7,151.4 567.6,151.6 568.5,153.0 569.4,154.4 570.4,155.5 571.3,156.1 572.2,156.6 573.1,156.0 574.0,156.5 574.9,156.0 575.8,156.7 576.7,157.1 577.6,156.9 578.5,158.4 579.5,159.1 580.4,160.7 581.3,163.3 582.2,164.2 583.1,165.8 584.0,166.7 584.9,167.7 585.8,169.1 586.7,169.3 587.7,169.7 588.6,170.7 589.5,171.3 590.4,172.8 591.3,174.5 592.2,174.8 593.1,176.0 594.0,176.8 594.9,177.5 595.8,177.8 596.8,179.0 597.7,179.3 598.6,181.4 599.5,182.3 600.4,182.7 601.3,184.1 602.2,185.5 603.1,186.3 604.0,186.7 605.0,187.1 605.9,188.2 606.8,190.2 607.7,190.6 608.6,193.2 609.5,194.7 610.4,195.7 611.3,196.3 612.2,197.5 613.2,198.1 614.1,199.3" fill="none" stroke="#f02424" stroke-width="0.9"/>
<polyline points="413.7,108.1 414.6,107.7 415.6,109.2 416.5,108.8 417.4,109.4 418.3,109.1 419.2,110.2 420.1,109.2 421.0,108.8 421.9,107.4 422.8,107.4 423.7,107.1 424.7,107.4 425.6,106.8 426.5,107.4 427.4,108.7 428.3,108.8 429.2,109.7 430.1,110.5 431.0,110.1 431.9,109.9 432.9,109.7 433.8,109.1 434.7,109.4 435.6,109.0 436.5,108.8 437.4,109.5 438.3,109.5 439.2,108.6 440.1,108.1 441.0,108.5 442.0,108.3 442.9,107.3 443.8,107.3 444.7,107.6 445.6,108.3 446.5,109.0 447.4,109.7 448.3,110.3 449.2,111.1 450.2,110.9 451.1,111.9 452.0,111.6 452.9,111.1 453.8,110.3 454.7,111.2 455.6,111.7 456.5,111.3 457.4,110.5 458.3,111.5 459.3,112.1 460.2,112.9 461.1,111.9 462.0,110.6 462.9,111.5 463.8,112.4 464.7,111.6 465.6,110.8 466.5,110.4 467.5,109.9 468.4,111.0 469.3,110.3 470.2,110.3 471.1,111.0 472.0,112.0 472.9,112.7 473.8,113.6 474.7,113.1 475.6,114.3 476.6,113.4 477.5,114.4 478.4,114.3 479.3,113.9 480.2,114.4 481.1,115.2 482.0,115.2 482.9,115.4 483.8,114.6 484.8,115.2 485.7,115.8 486.6,115.8 487.5,116.4 488.4,116.3 489.3,117.7 490.2,118.8 491.1,119.0 492.0,119.0 493.0,119.6 493.9,119.5 494.8,120.1 495.7,119.5 496.6,119.5 497.5,120.3 498.4,120.5 499.3,120.5 500.2,120.5 501.1,120.9 502.1,120.6 503.0,121.4 503.9,121.2 504.8,121.5 505.7,121.9 506.6,122.8 507.5,122.9 508.4,124.5 509.3,124.6 510.3,124.8 511.2,125.6 512.1,126.5 513.0,126.6 513.9,126.5 514.8,126.9 515.7,127.6 516.6,127.8 517.5,128.0 518.4,127.9 519.4,128.5 520.3,129.0 521.2,129.0 522.1,129.4 523.0,130.3 523.9,130.2 524.8,130.8 525.7,130.9 526.6,132.2 527.6,131.9 528.5,131.5 529.4,132.1 530.3,132.3 531.2,132.3 532.1,132.9 533.0,133.0 533.9,133.9 534.8,134.5 535.7,134.6 536.7,135.3 537.6,136.2 538.5,136.7 539.4,137.3 540.3,137.9 541.2,138.5 542.1,139.4 543.0,140.5 543.9,141.5 544.9,142.8 545.8,143.8 546.7,144.9 547.6,146.2 548.5,147.7 549.4,148.8 550.3,149.3 551.2,150.3 552.1,152.9 553.1,155.0 554.0,156.3 554.9,156.6 555.8,157.5 556.7,159.3 557.6,160.4 558.5,160.9 559.4,161.3 560.3,162.4 561.2,164.5 562.2,166.3 563.1,168.3 564.0,170.6 564.9,172.1 565.8,173.9 566.7,175.2 567.6,175.9 568.5,176.8 569.4,177.7 570.4,179.1 571.3,181.4 572.2,183.3 573.1,184.4 574.0,186.6 574.9,188.5 575.8,190.4 576.7,191.8 577.6,192.6 578.5,194.1 579.5,196.7 580.4,198.8 581.3,200.4 582.2,202.5 583.1,203.7 584.0,205.5 584.9,207.0 585.8,208.9 586.7,210.2 587.7,212.3 588.6,213.5 589.5,216.0 590.4,217.6 591.3,219.1 592.2,220.4 593.1,223.1 594.0,225.5 594.9,228.0 595.8,229.1 596.8,230.6 597.7,232.5 598.6,233.0 599.5,234.5 600.4,234.9 601.3,236.1 602.2,237.5 603.1,239.3 604.0,241.3 605.0,244.0 605.9,244.6 606.8,246.7 607.7,248.7 608.6,250.9 609.5,252.7 610.4,254.5 611.3,254.9 612.2,257.1 613.2,259.7 614.1,261.9" fill="none" stroke="#c83030" stroke-width="0.9"/>
<polyline points="413.7,104.8 414.6,104.2 415.6,102.8 416.5,101.4 417.4,101.5 418.3,102.1 419.2,102.0 420.1,102.3 421.0,103.9 421.9,106.4 422.8,107.4 423.7,107.3 424.7,107.7 425.6,108.0 426.5,108.1 427.4,108.0 428.3,107.1 429.2,106.2 430.1,106.2 431.0,105.9 431.9,106.3 432.9,107.2 433.8,107.1 434.7,106.7 435.6,107.2 436.5,107.4 437.4,106.8 438.3,106.0 439.2,104.9 440.1,104.8 441.0,104.7 442.0,105.0 442.9,105.3 443.8,105.9 444.7,106.4 445.6,106.9 446.5,106.9 447.4,106.2 448.3,106.4 449.2,106.7 450.2,106.6 451.1,107.0 452.0,106.7 452.9,106.9 453.8,107.8 454.7,108.1 455.6,108.3 456.5,108.1 457.4,107.8 458.3,108.6 459.3,108.8 460.2,109.4 461.1,108.8 462.0,108.4 462.9,109.3 463.8,109.9 464.7,109.7 465.6,109.3 466.5,109.3 467.5,109.8 468.4,109.7 469.3,109.3 470.2,109.0 471.1,108.5 472.0,109.2 472.9,109.8 473.8,110.6 474.7,111.0 475.6,111.3 476.6,112.0 477.5,112.6 478.4,112.5 479.3,112.2 480.2,111.3 481.1,112.4 482.0,112.3 482.9,111.7 483.8,112.5 484.8,112.4 485.7,113.2 486.6,114.3 487.5,114.1 488.4,114.8 489.3,115.1 490.2,114.5 491.1,115.3 492.0,115.0 493.0,114.5 493.9,114.1 494.8,114.2 495.7,115.1 496.6,116.1 497.5,116.7 498.4,116.9 499.3,118.3 500.2,119.4 501.1,120.8 502.1,120.7 503.0,121.1 503.9,121.5 504.8,121.2 505.7,121.3 506.6,121.5 507.5,121.6 508.4,122.4 509.3,123.0 510.3,122.7 511.2,123.6 512.1,123.8 513.0,124.4 513.9,123.7 514.8,124.6 515.7,125.0 516.6,126.0 517.5,126.3 518.4,127.0 519.4,127.3 520.3,128.7 521.2,128.6 522.1,128.4 523.0,128.0 523.9,128.5 524.8,128.8 525.7,128.7 526.6,128.5 527.6,129.2 528.5,129.8 529.4,129.9 530.3,130.5 531.2,130.7 532.1,132.0 533.0,133.0 533.9,133.2 534.8,133.7 535.7,134.6 536.7,135.4 537.6,135.9 538.5,136.5 539.4,137.0 540.3,137.8 541.2,138.5 542.1,139.1 543.0,139.7 543.9,140.6 544.9,141.4 545.8,142.5 546.7,143.4 547.6,144.1 548.5,145.7 549.4,146.8 550.3,148.2 551.2,149.6 552.1,151.0 553.1,152.0 554.0,152.8 554.9,154.4 555.8,155.0 556.7,155.9 557.6,156.0 558.5,157.6 559.4,159.6 560.3,160.7 561.2,161.2 562.2,161.9 563.1,162.6 564.0,164.9 564.9,165.5 565.8,166.0 566.7,168.4 567.6,170.0 568.5,172.3 569.4,173.4 570.4,174.4 571.3,176.5 572.2,178.1 573.1,177.7 574.0,178.8 574.9,180.7 575.8,182.6 576.7,183.4 577.6,183.7 578.5,184.1 579.5,186.4 580.4,187.2 581.3,187.4 582.2,187.9 583.1,189.1 584.0,191.0 584.9,193.6 585.8,194.5 586.7,196.3 587.7,198.6 588.6,200.0 589.5,201.5 590.4,201.7 591.3,203.0 592.2,204.6 593.1,205.9 594.0,206.3 594.9,207.4 595.8,209.3 596.8,210.7 597.7,211.2 598.6,211.7 599.5,212.6 600.4,213.9 601.3,215.5 602.2,215.7 603.1,217.2 604.0,218.7 605.0,219.7 605.9,221.8 606.8,223.3 607.7,224.3 608.6,226.3 609.5,228.1 610.4,229.6 611.3,232.2 612.2,233.3 613.2,235.1 614.1,236.5" fill="none" stroke="#a02c2c" stroke-width="0.9"/>
<polyline points="413.7,139.2 414.6,138.8 415.6,138.4 416.5,138.4 417.4,138.4 418.3,139.0 419.2,139.2 420.1,139.7 421.0,140.0 421.9,140.6 422.8,140.7 423.7,140.2 424.7,140.2 425.6,139.7 426.5,139.3 427.4,138.8 428.3,138.9 429.2,139.1 430.1,138.9 431.0,139.1 431.9,139.5 432.9,139.8 433.8,139.3 434.7,139.3 435.6,139.1 436.5,139.4 437.4,139.3 438.3,139.1 439.2,139.2 440.1,138.8 441.0,139.0 442.0,138.4 442.9,138.3 443.8,138.5 444.7,138.6 445.6,138.7 446.5,139.0 447.4,139.0 448.3,139.0 449.2,138.9 450.2,138.8 451.1,138.9 452.0,138.9 452.9,139.2 453.8,139.1 454.7,139.6 455.6,139.6 456.5,139.7 457.4,139.6 458.3,139.4 459.3,139.6 460.2,139.2 461.1,139.0 462.0,138.9 462.9,138.9 463.8,139.4 464.7,139.4 465.6,139.2 466.5,139.7 467.5,139.5 468.4,139.1 469.3,138.6 470.2,138.2 471.1,137.7 472.0,137.4 472.9,137.9 473.8,138.1 474.7,138.5 475.6,138.4 476.6,138.9 477.5,139.2 478.4,138.9 479.3,138.5 480.2,138.3 481.1,138.9 482.0,139.0 482.9,138.8 483.8,139.3 484.8,139.7 485.7,139.8 486.6,139.8 487.5,139.9 488.4,139.8 489.3,139.8 490.2,140.0 491.1,140.2 492.0,140.1 493.0,140.1 493.9,140.3 494.8,140.4 495.7,139.9 496.6,139.7 497.5,140.0 498.4,140.3 499.3,140.1 500.2,140.2 501.1,140.6 502.1,141.2 503.0,141.3 503.9,140.8 504.8,140.9 505.7,140.9 506.6,141.1 507.5,141.0 508.4,140.9 509.3,141.0 510.3,141.2 511.2,141.2 512.1,141.3 513.0,141.4 513.9,141.3 514.8,141.1 515.7,141.1 516.6,141.3 517.5,140.9 518.4,140.7 519.4,141.3 520.3,141.9 521.2,141.8 522.1,141.8 523.0,142.1 523.9,142.3 524.8,142.2 525.7,142.3 526.6,143.2 527.6,143.2 528.5,142.8 529.4,142.4 530.3,142.1 531.2,142.0 532.1,141.5 533.0,141.2 533.9,141.0 534.8,140.7 535.7,140.3 536.7,139.8 537.6,139.6 538.5,139.3 539.4,139.0 540.3,138.8 541.2,138.5 542.1,138.2 543.0,138.0 543.9,137.7 544.9,137.4 545.8,137.2 546.7,137.1 547.6,136.8 548.5,136.5 549.4,136.2 550.3,136.0 551.2,135.5 552.1,135.3 553.1,135.1 554.0,135.1 554.9,134.9 555.8,134.4 556.7,134.3 557.6,133.8 558.5,133.6 559.4,133.3 560.3,133.4 561.2,133.3 562.2,132.9 563.1,132.3 564.0,132.1 564.9,130.9 565.8,130.3 566.7,129.7 567.6,129.1 568.5,129.0 569.4,128.3 570.4,128.6 571.3,127.8 572.2,127.0 573.1,126.6 574.0,126.1 574.9,125.5 575.8,125.1 576.7,124.7 577.6,124.7 578.5,124.3 579.5,123.6 580.4,123.2 581.3,122.1 582.2,121.7 583.1,121.2 584.0,120.8 584.9,120.2 585.8,119.9 586.7,119.5 587.7,118.4 588.6,117.7 589.5,116.9 590.4,116.5 591.3,116.0 592.2,115.6 593.1,115.6 594.0,115.5 594.9,115.5 595.8,115.5 596.8,115.1 597.7,114.7 598.6,114.7 599.5,113.8 600.4,113.2 601.3,112.4 602.2,112.0 603.1,111.6 604.0,110.8 605.0,110.6 605.9,109.9 606.8,109.5 607.7,108.7 608.6,108.4 609.5,108.1 610.4,107.4 611.3,107.0 612.2,106.4 613.2,106.2 614.1,105.3" fill="none" stroke="#2020e8" stroke-width="0.9"/>
<polyline points="413.7,55.5 414.6,55.3 415.6,55.6 416.5,56.1 417.4,56.9 418.3,57.1 419.2,57.7 420.1,57.7 421.0,57.8 421.9,57.8 422.8,58.1 423.7,58.5 424.7,58.9 425.6,59.2 426.5,59.9 427.4,60.1 428.3,60.0 429.2,60.3 430.1,60.6 431.0,60.7 431.9,61.3 432.9,61.4 433.8,61.7 434.7,62.1 435.6,62.1 436.5,62.0 437.4,62.4 438.3,62.7 439.2,63.1 440.1,63.7 441.0,64.3 442.0,64.7 442.9,65.0 443.8,65.1 444.7,65.4 445.6,65.8 446.5,66.0 447.4,66.6 448.3,67.0 449.2,67.1 450.2,67.3 451.1,67.6 452.0,67.6 452.9,68.1 453.8,68.6 454.7,69.0 455.6,69.3 456.5,70.2 457.4,70.4 458.3,70.9 459.3,71.0 460.2,71.3 461.1,71.6 462.0,71.9 462.9,72.0 463.8,72.7 464.7,73.2 465.6,73.4 466.5,74.0 467.5,74.1 468.4,74.2 469.3,74.3 470.2,74.8 471.1,75.1 472.0,75.5 472.9,75.9 473.8,76.7 474.7,77.2 475.6,77.6 476.6,78.4 477.5,79.3 478.4,79.8 479.3,80.1 480.2,80.7 481.1,81.1 482.0,81.3 482.9,82.0 483.8,83.0 484.8,83.8 485.7,84.5 486.6,85.2 487.5,85.6 488.4,86.1 489.3,86.5 490.2,87.1 491.1,87.7 492.0,88.5 493.0,89.3 493.9,90.0 494.8,90.6 495.7,91.1 496.6,91.4 497.5,91.9 498.4,92.3 499.3,92.5 500.2,92.7 501.1,93.0 502.1,93.3 503.0,93.9 503.9,94.2 504.8,95.2 505.7,96.3 506.6,97.1 507.5,97.9 508.4,99.0 509.3,99.7 510.3,100.5 511.2,101.3 512.1,102.1 513.0,102.9 513.9,103.8 514.8,104.4 515.7,105.8 516.6,107.1 517.5,108.1 518.4,109.2 519.4,110.3 520.3,111.4 521.2,112.5 522.1,114.1 523.0,115.7 523.9,117.6 524.8,119.0 525.7,120.5 526.6,121.8 527.6,123.2 528.5,124.5 529.4,126.0 530.3,127.5 531.2,128.3 532.1,129.3 533.0,130.2 533.9,131.1 534.8,132.0 535.7,133.1 536.7,134.1 537.6,135.0 538.5,135.9 539.4,136.8 540.3,137.6 541.2,138.5 542.1,139.3 543.0,140.1 543.9,140.9 544.9,141.7 545.8,142.6 546.7,143.5 547.6,144.3 548.5,145.2 549.4,146.0 550.3,146.9 551.2,147.8 552.1,148.8 553.1,149.1 554.0,150.3 554.9,151.0 555.8,151.7 556.7,152.3 557.6,153.6 558.5,154.9 559.4,156.1 560.3,157.0 561.2,157.8 562.2,158.7 563.1,159.3 564.0,159.8 564.9,161.0 565.8,162.0 566.7,162.7 567.6,163.5 568.5,164.4 569.4,165.4 570.4,166.9 571.3,168.1 572.2,169.2 573.1,170.6 574.0,171.6 574.9,172.6 575.8,173.8 576.7,174.6 577.6,175.6 578.5,176.7 579.5,177.6 580.4,178.5 581.3,179.7 582.2,180.4 583.1,181.1 584.0,182.0 584.9,182.8 585.8,183.9 586.7,185.0 587.7,186.2 588.6,187.2 589.5,188.5 590.4,188.9 591.3,189.7 592.2,190.8 593.1,191.8 594.0,192.7 594.9,194.3 595.8,195.5 596.8,196.2 597.7,197.2 598.6,197.9 599.5,198.8 600.4,199.8 601.3,200.8 602.2,201.8 603.1,202.8 604.0,203.9 605.0,204.6 605.9,205.5 606.8,206.4 607.7,207.4 608.6,208.1 609.5,208.9 610.4,209.7 611.3,210.6 612.2,211.4 613.2,212.1 614.1,212.8" fill="none" stroke="#1c1cd8" stroke-width="0.9"/>
<polyline points="459.3,110.6 460.2,109.3 461.1,108.0 462.0,106.8 462.9,105.9 463.8,104.7 464.7,103.1 465.6,102.1 466.5,102.2 467.5,101.8 468.4,101.9 469.3,101.8 470.2,101.7 471.1,101.9 472.0,102.3 472.9,102.1 473.8,102.4 474.7,102.5 475.6,102.7 476.6,102.2 477.5,102.6 478.4,102.8 479.3,103.1 480.2,102.8 481.1,103.4 482.0,103.2 482.9,103.6 483.8,103.6 484.8,103.8 485.7,103.9 486.6,104.6 487.5,105.1 488.4,105.4 489.3,106.1 490.2,106.6 491.1,106.9 492.0,107.3 493.0,108.1 493.9,108.7 494.8,108.9 495.7,109.3 496.6,109.1 497.5,109.2 498.4,109.8 499.3,110.4 500.2,111.0 501.1,112.1 502.1,112.4 503.0,112.7 503.9,112.7 504.8,113.1 505.7,113.1 506.6,113.4 507.5,113.8 508.4,114.3 509.3,114.8 510.3,115.3 511.2,116.1 512.1,116.6 513.0,117.3 513.9,117.9 514.8,118.3 515.7,118.6 516.6,119.5 517.5,119.9 518.4,120.4 519.4,121.3 520.3,122.1 521.2,122.6 522.1,123.3 523.0,124.3 523.9,124.9 524.8,125.4 525.7,125.8 526.6,126.5 527.6,127.1 528.5,128.2 529.4,128.9 530.3,129.5 531.2,130.2 532.1,130.5" fill="none" stroke="#a82020" stroke-width="0.9"/>
<polyline points="502.4,12.5 504.5,18.3 508.0,35.0 511.6,50.0 514.0,60.0 518.8,86.2 526.0,108.0 533.3,125.4 541.0,138.5" fill="none" stroke="#33a033" stroke-width="0.9"/>
<polyline points="495.1,13.0 497.2,14.4 501.5,14.8 504.5,18.3 507.6,15.3 511.0,13.9 513.7,15.6 516.3,21.7 519.8,34.8 522.6,50.0 525.3,59.0 529.0,86.0 534.2,108.0 540.6,137.0" fill="none" stroke="#333333" stroke-width="0.9"/>
<text transform="translate(623.8 109.0) scale(0.96 1.14)" font-size="7.8" fill="#2020e8">3</text>
<text transform="translate(621.7 150.3) scale(0.96 1.14)" font-size="7.8" fill="#62aaf4">8</text>
<text transform="translate(621.7 163.9) scale(0.96 1.14)" font-size="7.8" fill="#3a3af0">2</text>
<text transform="translate(634.8 163.9) scale(0.96 1.14)" font-size="7.8" fill="#4ed0f4">9</text>
<text transform="translate(620.4 173.0) scale(0.96 1.14)" font-size="7.8" fill="#e8b430">19</text>
<text transform="translate(620.4 179.2) scale(0.96 1.14)" font-size="7.8" fill="#5ee4f2">10</text>
<text transform="translate(621.7 199.8) scale(0.96 1.14)" font-size="7.8" fill="#1c1cc0">1</text>
<text transform="translate(633 195.8) scale(0.96 1.14)" font-size="7.8" fill="#f04848">24</text>
<text transform="translate(633 202.3) scale(0.96 1.14)" font-size="7.8" fill="#f02424">25</text>
<text transform="translate(620 214.4) scale(0.96 1.14)" font-size="7.8" fill="#f04422">22</text>
<text transform="translate(634.8 215.8) scale(0.96 1.14)" font-size="7.8" fill="#1c1cd8">4</text>
<text transform="translate(643.5 214.0) scale(0.96 1.14)" font-size="7.8" fill="#f07434">21</text>
<text transform="translate(656.9 213.5) scale(0.96 1.14)" font-size="7.8" fill="#5eec80">14</text>
<text transform="translate(620 222.4) scale(0.96 1.14)" font-size="7.8" fill="#f09838">20</text>
<text transform="translate(620 228.9) scale(0.96 1.14)" font-size="7.8" fill="#ccee40">16</text>
<text transform="translate(634.8 227.6) scale(0.96 1.14)" font-size="7.8" fill="#3c3cf0">5</text>
<text transform="translate(643.5 228.0) scale(0.96 1.14)" font-size="7.8" fill="#ee3a30">23</text>
<text transform="translate(621.7 237.9) scale(0.96 1.14)" font-size="7.8" fill="#2a40e8">6</text>
<text transform="translate(632.7 239.6) scale(0.96 1.14)" font-size="7.8" fill="#a02c2c">27</text>
<text transform="translate(633 245.5) scale(0.96 1.14)" font-size="7.8" fill="#ecec50">17</text>
<text transform="translate(620.5 249.0) scale(0.96 1.14)" font-size="7.8" fill="#5eecc8">12</text>
<text transform="translate(633 249.9) scale(0.96 1.14)" font-size="7.8" fill="#50ea98">13</text>
<text transform="translate(644 253.3) scale(0.96 1.14)" font-size="7.8" fill="#ecd848">18</text>
<text transform="translate(621.7 261.7) scale(0.96 1.14)" font-size="7.8" fill="#3c84f4">7</text>
<text transform="translate(633 258.2) scale(0.96 1.14)" font-size="7.8" fill="#a8ee50">15</text>
<text transform="translate(633 264.0) scale(0.96 1.14)" font-size="7.8" fill="#c83030">26</text>
<text transform="translate(644 264.3) scale(0.96 1.14)" font-size="7.8" fill="#78f0f0">11</text>
<path d="M677.7 150.8V194.2M677.7 244.7V261" stroke="#444" stroke-width="0.8" stroke-dasharray="1,1.2"/>
<rect x="674" y="194.2" width="7" height="50.5" fill="#d3d3d3" stroke="#444" stroke-width="0.8"/>
<path d="M674 219.5H681" stroke="#111" stroke-width="1.8"/>
<rect x="404.0" y="1.3" width="279.3" height="307.1" fill="none" stroke="#444444" stroke-width="1"/>
<text transform="translate(411.7 16.0) scale(0.95 1)" font-size="16.4" fill="#111">b)</text>
<text transform="translate(393.1 33.4) rotate(-90)" text-anchor="middle" font-size="12.4" fill="#222">2</text>
<text transform="translate(393.1 86.0) rotate(-90)" text-anchor="middle" font-size="12.4" fill="#222">1</text>
<text transform="translate(393.1 138.6) rotate(-90)" text-anchor="middle" font-size="12.4" fill="#222">0</text>
<text transform="translate(393.1 191.2) rotate(-90)" text-anchor="middle" font-size="12.4" fill="#222">-1</text>
<text transform="translate(393.1 243.8) rotate(-90)" text-anchor="middle" font-size="12.4" fill="#222">-2</text>
<text transform="translate(393.1 296.4) rotate(-90)" text-anchor="middle" font-size="12.4" fill="#222">-3</text>
<text transform="translate(445.6 325.2) scale(1 1.15)" text-anchor="middle" font-size="9.7" fill="#222">1900</text>
<text transform="translate(491.1 325.2) scale(1 1.15)" text-anchor="middle" font-size="9.7" fill="#222">1950</text>
<text transform="translate(536.7 325.2) scale(1 1.15)" text-anchor="middle" font-size="9.7" fill="#222">2000</text>
<text transform="translate(582.2 325.2) scale(1 1.15)" text-anchor="middle" font-size="9.7" fill="#222">2050</text>
<text transform="translate(627.7 325.2) scale(1 1.15)" text-anchor="middle" font-size="9.7" fill="#222">2100</text>
<text transform="translate(373.4 154.3) rotate(-90)" text-anchor="middle" font-size="15.5" fill="#111">Precipitation area anomaly [pp]</text>
<text transform="translate(543.6 343.6) scale(1 1.11)" text-anchor="middle" font-size="15.2" fill="#111">Year</text>
</svg>
</body></html>
